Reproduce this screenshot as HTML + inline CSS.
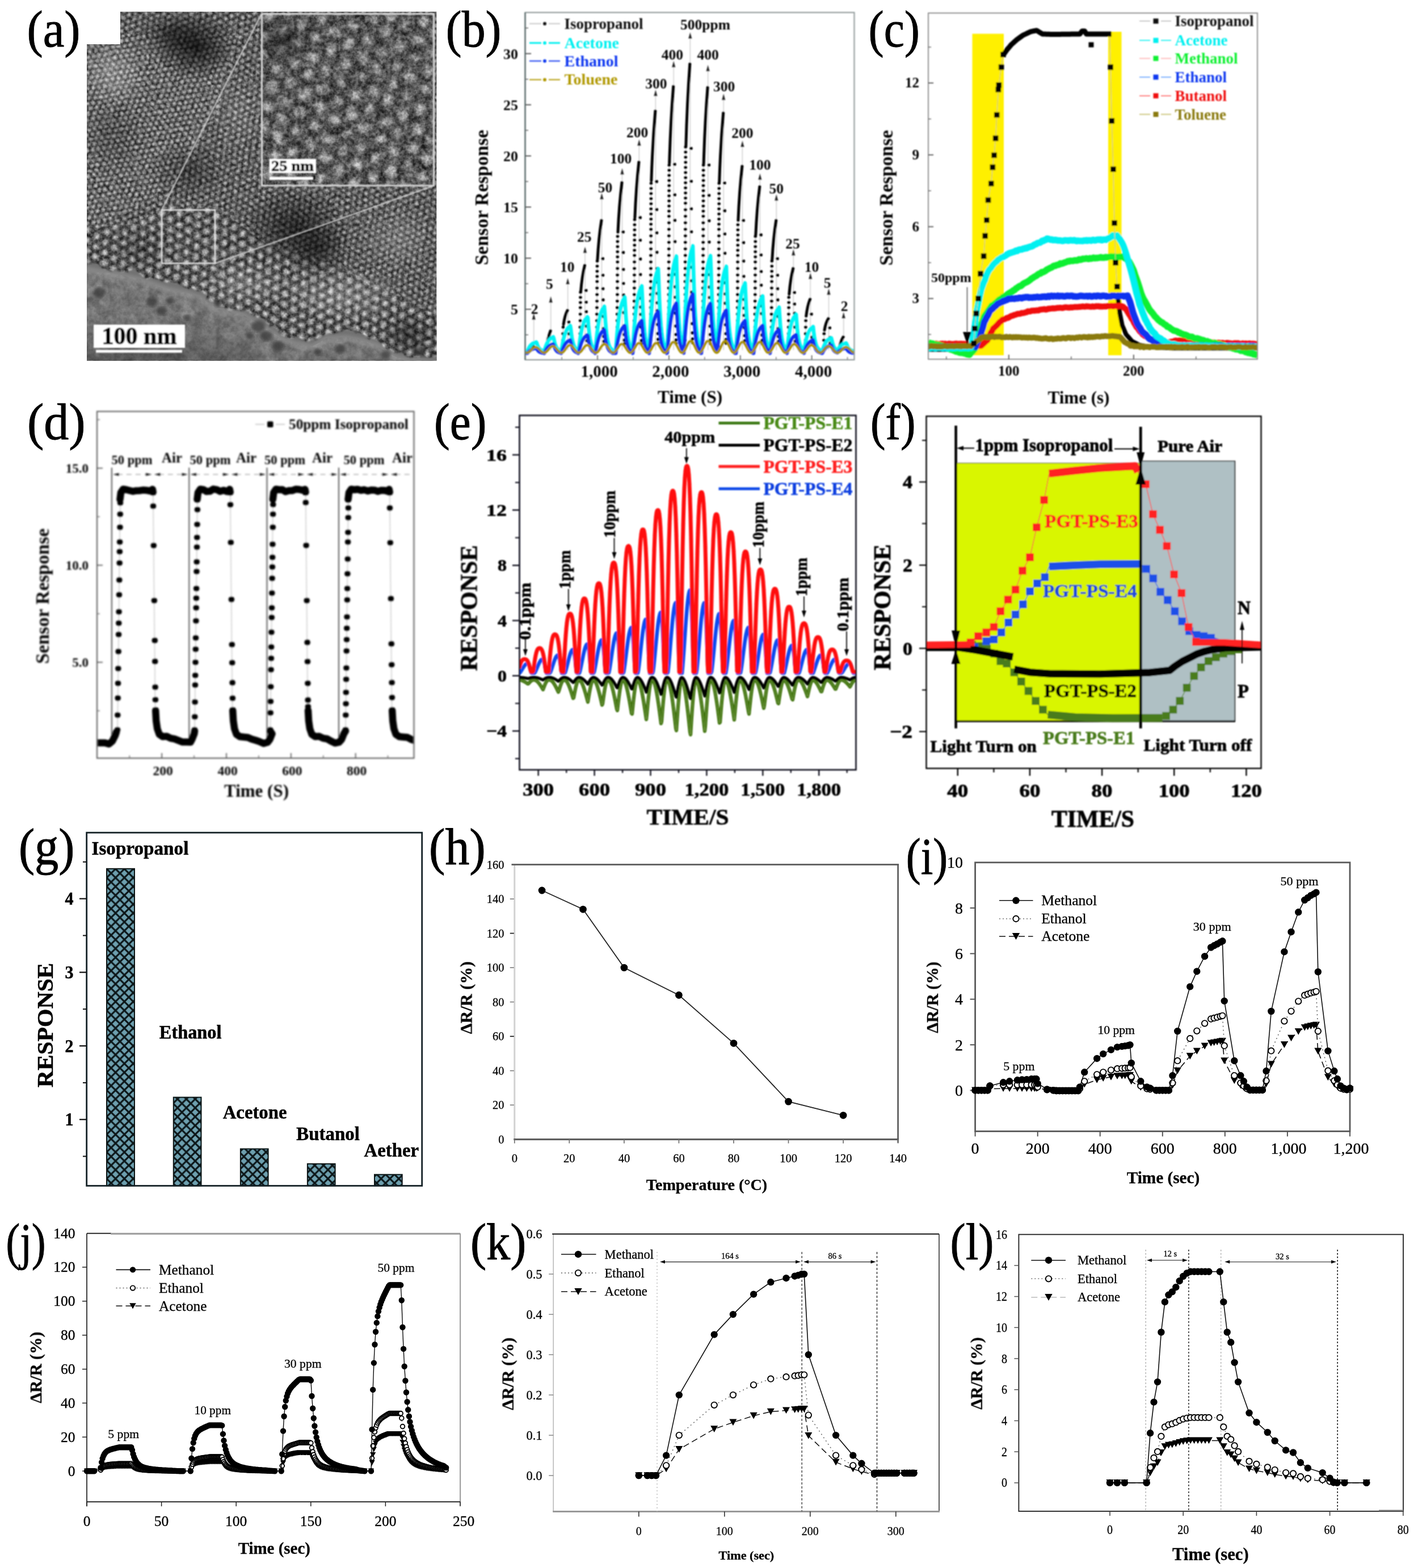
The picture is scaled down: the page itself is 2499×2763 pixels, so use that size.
<!DOCTYPE html>
<html lang="en"><head><meta charset="utf-8"><title>Figure</title>
<style>
html,body{margin:0;padding:0;background:#fff;}
body{width:2499px;height:2763px;overflow:hidden;}
svg{display:block;font-family:'Liberation Serif','DejaVu Serif',serif;}
</style></head><body>
<svg width="2499" height="2763" viewBox="0 0 2499 2763">
<defs>
<radialGradient id="dotg"><stop offset="0" stop-color="#fff" stop-opacity="1"/><stop offset=".5" stop-color="#e8e8e8" stop-opacity=".7"/><stop offset="1" stop-color="#999" stop-opacity="0"/></radialGradient>
<radialGradient id="darkg"><stop offset="0" stop-color="#000" stop-opacity=".75"/><stop offset=".5" stop-color="#000" stop-opacity=".4"/><stop offset="1" stop-color="#000" stop-opacity="0"/></radialGradient>
<radialGradient id="liteg"><stop offset="0" stop-color="#fff" stop-opacity=".35"/><stop offset="1" stop-color="#fff" stop-opacity="0"/></radialGradient>
<pattern id="latF" width="10.4" height="18" patternUnits="userSpaceOnUse" patternTransform="translate(0 0) rotate(50)"><circle cx="0" cy="0" r="4.9" fill="url(#dotg)"/><circle cx="10.4" cy="0" r="4.9" fill="url(#dotg)"/><circle cx="0" cy="18" r="4.9" fill="url(#dotg)"/><circle cx="10.4" cy="18" r="4.9" fill="url(#dotg)"/><circle cx="5.2" cy="9" r="4.9" fill="url(#dotg)"/></pattern>
<pattern id="latM" width="11.5" height="19.9" patternUnits="userSpaceOnUse" patternTransform="translate(0 0) rotate(38)"><circle cx="0" cy="0" r="5.4" fill="url(#dotg)"/><circle cx="11.5" cy="0" r="5.4" fill="url(#dotg)"/><circle cx="0" cy="19.9" r="5.4" fill="url(#dotg)"/><circle cx="11.5" cy="19.9" r="5.4" fill="url(#dotg)"/><circle cx="5.8" cy="10" r="5.4" fill="url(#dotg)"/></pattern>
<pattern id="latC" width="18.5" height="32" patternUnits="userSpaceOnUse" patternTransform="translate(0 0) rotate(33)"><circle cx="0" cy="0" r="8.2" fill="url(#dotg)"/><circle cx="18.5" cy="0" r="8.2" fill="url(#dotg)"/><circle cx="0" cy="32" r="8.2" fill="url(#dotg)"/><circle cx="18.5" cy="32" r="8.2" fill="url(#dotg)"/><circle cx="9.2" cy="16" r="8.2" fill="url(#dotg)"/></pattern>
<pattern id="latI" width="34" height="58.9" patternUnits="userSpaceOnUse" patternTransform="translate(0 0) rotate(42)"><circle cx="0" cy="0" r="13.5" fill="url(#dotg)"/><circle cx="34" cy="0" r="13.5" fill="url(#dotg)"/><circle cx="0" cy="58.9" r="13.5" fill="url(#dotg)"/><circle cx="34" cy="58.9" r="13.5" fill="url(#dotg)"/><circle cx="17" cy="29.4" r="13.5" fill="url(#dotg)"/></pattern>
<filter id="grainA" x="0" y="0" width="100%" height="100%" color-interpolation-filters="sRGB"><feTurbulence type="fractalNoise" baseFrequency="0.16" numOctaves="2" seed="7" result="n"/><feColorMatrix in="n" type="matrix" values="1.6 1.6 0 0 -1.1  1.6 1.6 0 0 -1.1  1.6 1.6 0 0 -1.1  0 0 0 0 1"/></filter>
<filter id="grainB" x="0" y="0" width="100%" height="100%" color-interpolation-filters="sRGB"><feTurbulence type="fractalNoise" baseFrequency="0.05" numOctaves="2" seed="11" result="n"/><feColorMatrix in="n" type="matrix" values="1.5 1.5 0 0 -1.0  1.5 1.5 0 0 -1.0  1.5 1.5 0 0 -1.0  0 0 0 0 1"/></filter>
<filter id="warp" x="-5%" y="-5%" width="110%" height="110%"><feTurbulence type="fractalNoise" baseFrequency="0.03" numOctaves="2" seed="5"/><feDisplacementMap in="SourceGraphic" scale="4" xChannelSelector="R" yChannelSelector="G"/><feGaussianBlur stdDeviation="1.3"/></filter>
<filter id="warpI" x="-5%" y="-5%" width="110%" height="110%"><feTurbulence type="fractalNoise" baseFrequency="0.04" numOctaves="2" seed="9"/><feDisplacementMap in="SourceGraphic" scale="16" xChannelSelector="R" yChannelSelector="G"/><feGaussianBlur stdDeviation="1.4"/></filter>
<filter id="soft"><feGaussianBlur stdDeviation="0.8"/></filter>
<filter id="soft2"><feGaussianBlur stdDeviation="2.5"/></filter>
<clipPath id="temclip"><path d="M212,20.5 H769.5 V635.5 H153 V78 H212 Z"/></clipPath>
<clipPath id="filmclip2"><path d="M150,472 176,478 210,484 247,492 275,502 300,510 330,516 354,524 372,538 390,546 425,553 445,564 461,574 480,586 497,596 520,605 550,610 562,604 575,596 610,594 640,600 665,608 680,620 700,630 735,636 772,640L780,650L140,650Z"/></clipPath>
<clipPath id="insclip"><rect x="461" y="24" width="304" height="303"/></clipPath>
<filter id="rough" x="-5%" y="-20%" width="110%" height="140%"><feTurbulence type="fractalNoise" baseFrequency="0.045" numOctaves="2" seed="21"/><feDisplacementMap in="SourceGraphic" scale="22" xChannelSelector="R" yChannelSelector="G"/><feGaussianBlur stdDeviation="1.6"/></filter>
<filter id="blurB" x="-2%" y="-2%" width="104%" height="104%"><feGaussianBlur stdDeviation="1.15"/></filter>
<clipPath id="clipB"><rect x="926" y="22" width="579" height="612"/></clipPath>
<filter id="blurC" x="-2%" y="-2%" width="104%" height="104%"><feGaussianBlur stdDeviation="1.25"/></filter>
<clipPath id="clipC"><rect x="1636" y="23" width="580" height="610"/></clipPath>
<filter id="blurD" x="-2%" y="-2%" width="104%" height="104%"><feGaussianBlur stdDeviation="1.45"/></filter>
<clipPath id="clipD"><rect x="171" y="725" width="558" height="611"/></clipPath>
<filter id="blurE" x="-2%" y="-2%" width="104%" height="104%"><feGaussianBlur stdDeviation="0.8"/></filter>
<clipPath id="clipE"><rect x="915.5" y="732" width="593" height="624"/></clipPath>
<filter id="blurF" x="-2%" y="-2%" width="104%" height="104%"><feGaussianBlur stdDeviation="0.8"/></filter>
<clipPath id="clipF"><rect x="1633" y="734" width="589" height="620"/></clipPath>
<filter id="blurG" x="-2%" y="-2%" width="104%" height="104%"><feGaussianBlur stdDeviation="0.7"/></filter>
<pattern id="hatchG" width="15.6" height="15.6" patternUnits="userSpaceOnUse" patternTransform="translate(188 1531)"><rect width="16" height="16" fill="#6d9fae"/><path d="M-1,-1L17,17M16.6,-1L-1.4,17" stroke="#0a1418" stroke-width="3"/></pattern>
<filter id="blurH" x="-2%" y="-2%" width="104%" height="104%"><feGaussianBlur stdDeviation="0.55"/></filter>
<filter id="blurI" x="-2%" y="-2%" width="104%" height="104%"><feGaussianBlur stdDeviation="0.55"/></filter>
<filter id="blurJ" x="-2%" y="-2%" width="104%" height="104%"><feGaussianBlur stdDeviation="0.55"/></filter>
<filter id="blurK" x="-2%" y="-2%" width="104%" height="104%"><feGaussianBlur stdDeviation="0.55"/></filter>
<filter id="blurL" x="-2%" y="-2%" width="104%" height="104%"><feGaussianBlur stdDeviation="0.55"/></filter>
</defs>
<rect width="2499" height="2763" fill="#fff"/>
<!-- panel_a -->
<g clip-path="url(#temclip)">
<rect x="153" y="20.5" width="616.5" height="615" fill="#303030"/>
<g filter="url(#warp)">
<rect x="143" y="10.5" width="636.5" height="635" fill="url(#latM)" opacity=".68"/>
<path d="M143,60 L420,60 L380,200 L300,330 L143,420Z" fill="#303030"/>
<path d="M143,60 L420,60 L380,200 L300,330 L143,420Z" fill="url(#latF)" opacity=".8"/>
<path d="M143,400 L230,395 L290,365 L385,365 L470,430 L600,470 L700,520 L780,560 L780,646 L143,646Z" fill="#303030"/>
<path d="M143,400 L230,395 L290,365 L385,365 L470,430 L600,470 L700,520 L780,560 L780,646 L143,646Z" fill="url(#latC)" opacity=".85"/>
</g>
<rect x="153" y="20.5" width="616.5" height="615" fill="#808080" filter="url(#grainA)" opacity=".24"/>
<ellipse cx="345" cy="82" rx="75" ry="60" fill="url(#darkg)" opacity="1"/>
<ellipse cx="300" cy="60" rx="60" ry="40" fill="url(#darkg)" opacity="0.6"/>
<ellipse cx="520" cy="400" rx="95" ry="70" fill="url(#darkg)" opacity="0.8"/>
<ellipse cx="560" cy="440" rx="60" ry="50" fill="url(#darkg)" opacity="0.7"/>
<ellipse cx="200" cy="240" rx="60" ry="70" fill="url(#darkg)" opacity="0.3"/>
<ellipse cx="330" cy="300" rx="70" ry="50" fill="url(#darkg)" opacity="0.5"/>
<ellipse cx="720" cy="590" rx="50" ry="40" fill="url(#darkg)" opacity="0.6"/>
<ellipse cx="640" cy="250" rx="60" ry="60" fill="url(#darkg)" opacity="0.3"/>
<ellipse cx="250" cy="440" rx="60" ry="40" fill="url(#darkg)" opacity="0.3"/>
<ellipse cx="200" cy="130" rx="60" ry="60" fill="url(#liteg)" opacity="0.8"/>
<ellipse cx="600" cy="520" rx="120" ry="50" fill="url(#liteg)" opacity="0.7"/>
<ellipse cx="430" cy="500" rx="90" ry="40" fill="url(#liteg)" opacity="0.6"/>
<ellipse cx="700" cy="420" rx="70" ry="60" fill="url(#liteg)" opacity="0.5"/>
<ellipse cx="420" cy="200" rx="50" ry="80" fill="url(#liteg)" opacity="0.4"/>
<g>
<path d="M150,464 176,470 210,476 247,484 275,494 300,502 330,508 354,516 372,530 390,538 425,545 445,556 461,566 480,578 497,588 520,597 550,602 562,596 575,588 610,586 640,592 665,600 680,612 700,622 735,628 772,632L780,650L140,650Z" fill="#727272" filter="url(#rough)"/>
<g clip-path="url(#filmclip2)">
<rect x="153" y="480" width="616.5" height="160" fill="#808080" filter="url(#grainA)" opacity=".08"/>
<rect x="153" y="480" width="616.5" height="160" fill="#808080" filter="url(#grainB)" opacity=".13"/>
</g>
<ellipse cx="250" cy="640" rx="260" ry="75" fill="url(#darkg)" opacity=".42"/>
<ellipse cx="600" cy="660" rx="160" ry="40" fill="url(#darkg)" opacity=".4"/>
<path d="M150,474 176,480 210,486 247,494 275,504 300,512 330,518 354,526 372,540 390,548 425,555 445,566 461,576 480,588 497,598 520,607 550,612 562,606 575,598 610,596 640,602 665,610 680,622 700,632 735,638 772,642" fill="none" stroke="#9c9c9c" stroke-width="12" opacity=".45" filter="url(#soft2)"/>
<ellipse cx="175" cy="515" rx="10.8" ry="9" fill="#3a3a3a" opacity=".75" filter="url(#soft2)"/>
<ellipse cx="268" cy="532" rx="9.6" ry="8" fill="#3a3a3a" opacity=".75" filter="url(#soft2)"/>
<ellipse cx="285" cy="548" rx="8.4" ry="7" fill="#3a3a3a" opacity=".75" filter="url(#soft2)"/>
<ellipse cx="300" cy="530" rx="7.2" ry="6" fill="#3a3a3a" opacity=".75" filter="url(#soft2)"/>
<ellipse cx="385" cy="535" rx="7.2" ry="6" fill="#3a3a3a" opacity=".75" filter="url(#soft2)"/>
<ellipse cx="455" cy="575" rx="12" ry="10" fill="#3a3a3a" opacity=".75" filter="url(#soft2)"/>
<ellipse cx="470" cy="592" rx="10.8" ry="9" fill="#3a3a3a" opacity=".75" filter="url(#soft2)"/>
<ellipse cx="490" cy="610" rx="10.8" ry="9" fill="#3a3a3a" opacity=".75" filter="url(#soft2)"/>
<ellipse cx="440" cy="592" rx="7.2" ry="6" fill="#3a3a3a" opacity=".75" filter="url(#soft2)"/>
<ellipse cx="600" cy="615" rx="9.6" ry="8" fill="#3a3a3a" opacity=".75" filter="url(#soft2)"/>
<ellipse cx="560" cy="620" rx="7.2" ry="6" fill="#3a3a3a" opacity=".75" filter="url(#soft2)"/>
<ellipse cx="680" cy="625" rx="8.4" ry="7" fill="#3a3a3a" opacity=".75" filter="url(#soft2)"/>
<ellipse cx="740" cy="620" rx="10.8" ry="9" fill="#3a3a3a" opacity=".75" filter="url(#soft2)"/>
<ellipse cx="330" cy="560" rx="6" ry="5" fill="#3a3a3a" opacity=".75" filter="url(#soft2)"/>
</g>
</g>
<g clip-path="url(#insclip)">
<rect x="461" y="24" width="304" height="303" fill="#2e2e2e"/>
<g filter="url(#warpI)">
<rect x="440" y="4" width="350" height="350" fill="url(#latI)" opacity=".8"/>
</g>
<rect x="461" y="24" width="304" height="303" fill="#808080" filter="url(#grainA)" opacity=".3"/>
<rect x="461" y="24" width="304" height="303" fill="#808080" filter="url(#grainB)" opacity=".18"/>
<ellipse cx="500" cy="70" rx="60" ry="50" fill="url(#darkg)" opacity=".5"/>
</g>
<g filter="url(#soft)">
<rect x="461.5" y="24.5" width="303" height="302.5" fill="none" stroke="#d8d8d8" stroke-width="3"/>
<line x1="285" y1="370" x2="461" y2="24" stroke="#d0d0d0" stroke-width="2" />
<line x1="379" y1="464" x2="765" y2="327" stroke="#d0d0d0" stroke-width="2" />
<rect x="285" y="370" width="94" height="94" fill="none" stroke="#e4e4e4" stroke-width="2.6"/>
<rect x="165" y="572" width="161" height="41" fill="#fff"/>
<rect x="169" y="616.5" width="152" height="5" fill="#fff"/>
<rect x="474.5" y="280" width="82.5" height="25" fill="#fff"/>
<rect x="475" y="311.5" width="77" height="5.5" fill="#fff"/>
<text font-size="42" font-weight="bold" text-anchor="middle" transform="translate(245.5 606) scale(1.001 1)" stroke="#000" stroke-width="1">100 nm</text>
<text font-size="26" font-weight="bold" text-anchor="middle" transform="translate(515.5 301) scale(1.093 1)" stroke="#000" stroke-width=".8">25 nm</text>
</g>
<!-- panel_b -->
<g filter="url(#blurB)">
<g clip-path="url(#clipB)">
<line x1="940.7" y1="559.2" x2="940.7" y2="617.1" stroke="#c4c4c4" stroke-width="1.2" />
<path d="M940.7,552.2L943.7,563.2L937.7,563.2Z" fill="#222"/>
<line x1="933.2" y1="614.9" x2="931.7" y2="617.1" stroke="#c8c8c8" stroke-width="1.2" />
<text font-size="25.5" font-weight="bold" text-anchor="middle" x="942.1" y="552.7">2</text>
<line x1="970.7" y1="529.3" x2="970.7" y2="617.1" stroke="#c4c4c4" stroke-width="1.2" />
<path d="M970.7,522.3L973.7,533.3L967.7,533.3Z" fill="#222"/>
<line x1="963.2" y1="593.3" x2="961.7" y2="617.1" stroke="#c8c8c8" stroke-width="1.2" />
<text font-size="25.5" font-weight="bold" text-anchor="middle" x="968.4" y="508.9">5</text>
<line x1="1000.6" y1="497" x2="1000.6" y2="617.1" stroke="#c4c4c4" stroke-width="1.2" />
<path d="M1000.6,490L1003.6,501L997.6,501Z" fill="#222"/>
<line x1="993.1" y1="564.5" x2="991.6" y2="617.1" stroke="#c8c8c8" stroke-width="1.2" />
<text font-size="25.5" font-weight="bold" text-anchor="middle" x="999.7" y="479">10</text>
<line x1="1031" y1="441.7" x2="1031" y2="617.1" stroke="#c4c4c4" stroke-width="1.2" />
<path d="M1031,434.7L1034,445.7L1028,445.7Z" fill="#222"/>
<line x1="1023.5" y1="501" x2="1022" y2="617.1" stroke="#c8c8c8" stroke-width="1.2" />
<text font-size="25.5" font-weight="bold" text-anchor="middle" x="1029.7" y="426">25</text>
<line x1="1060.5" y1="347.3" x2="1060.5" y2="617.1" stroke="#c4c4c4" stroke-width="1.2" />
<path d="M1060.5,340.3L1063.5,351.3L1057.5,351.3Z" fill="#222"/>
<line x1="1053" y1="437.6" x2="1051.5" y2="617.1" stroke="#c8c8c8" stroke-width="1.2" />
<text font-size="25.5" font-weight="bold" text-anchor="middle" x="1066.5" y="338.5">50</text>
<line x1="1096.5" y1="303.5" x2="1096.5" y2="617.1" stroke="#c4c4c4" stroke-width="1.2" />
<path d="M1096.5,296.5L1099.5,307.5L1093.5,307.5Z" fill="#222"/>
<line x1="1089" y1="384.3" x2="1087.5" y2="617.1" stroke="#c8c8c8" stroke-width="1.2" />
<text font-size="25.5" font-weight="bold" text-anchor="middle" x="1094.2" y="287.8">100</text>
<line x1="1126.4" y1="252.8" x2="1126.4" y2="617.1" stroke="#c4c4c4" stroke-width="1.2" />
<path d="M1126.4,245.8L1129.4,256.8L1123.4,256.8Z" fill="#222"/>
<line x1="1118.9" y1="355.4" x2="1117.4" y2="617.1" stroke="#c8c8c8" stroke-width="1.2" />
<text font-size="25.5" font-weight="bold" text-anchor="middle" x="1123.2" y="241.7">200</text>
<line x1="1155.4" y1="165.3" x2="1155.4" y2="617.1" stroke="#c4c4c4" stroke-width="1.2" />
<path d="M1155.4,158.3L1158.4,169.3L1152.4,169.3Z" fill="#222"/>
<line x1="1147.9" y1="283.3" x2="1146.4" y2="617.1" stroke="#c8c8c8" stroke-width="1.2" />
<text font-size="25.5" font-weight="bold" text-anchor="middle" x="1156.4" y="155.5">300</text>
<line x1="1187.2" y1="114.6" x2="1187.2" y2="617.1" stroke="#c4c4c4" stroke-width="1.2" />
<path d="M1187.2,107.6L1190.2,118.6L1184.2,118.6Z" fill="#222"/>
<line x1="1179.7" y1="248.8" x2="1178.2" y2="617.1" stroke="#c8c8c8" stroke-width="1.2" />
<text font-size="25.5" font-weight="bold" text-anchor="middle" x="1184.9" y="104.8">400</text>
<line x1="1216.3" y1="63.9" x2="1216.3" y2="617.1" stroke="#c4c4c4" stroke-width="1.2" />
<path d="M1216.3,56.9L1219.3,67.9L1213.3,67.9Z" fill="#222"/>
<line x1="1208.8" y1="217" x2="1207.3" y2="617.1" stroke="#c8c8c8" stroke-width="1.2" />
<text font-size="25.5" font-weight="bold" text-anchor="middle" x="1243" y="51.9">500ppm</text>
<line x1="1247.6" y1="121.5" x2="1247.6" y2="617.1" stroke="#c4c4c4" stroke-width="1.2" />
<path d="M1247.6,114.5L1250.6,125.5L1244.6,125.5Z" fill="#222"/>
<line x1="1240.1" y1="250.2" x2="1238.6" y2="617.1" stroke="#c8c8c8" stroke-width="1.2" />
<text font-size="25.5" font-weight="bold" text-anchor="middle" x="1247.6" y="104.8">400</text>
<line x1="1275.2" y1="172.2" x2="1275.2" y2="617.1" stroke="#c4c4c4" stroke-width="1.2" />
<path d="M1275.2,165.2L1278.2,176.2L1272.2,176.2Z" fill="#222"/>
<line x1="1267.7" y1="286.2" x2="1266.2" y2="617.1" stroke="#c8c8c8" stroke-width="1.2" />
<text font-size="25.5" font-weight="bold" text-anchor="middle" x="1276.2" y="161.1">300</text>
<line x1="1308.4" y1="255.1" x2="1308.4" y2="617.1" stroke="#c4c4c4" stroke-width="1.2" />
<path d="M1308.4,248.1L1311.4,259.1L1305.4,259.1Z" fill="#222"/>
<line x1="1300.9" y1="361.2" x2="1299.4" y2="617.1" stroke="#c8c8c8" stroke-width="1.2" />
<text font-size="25.5" font-weight="bold" text-anchor="middle" x="1308.4" y="243.1">200</text>
<line x1="1339.3" y1="312.7" x2="1339.3" y2="617.1" stroke="#c4c4c4" stroke-width="1.2" />
<path d="M1339.3,305.7L1342.3,316.7L1336.3,316.7Z" fill="#222"/>
<line x1="1331.8" y1="390" x2="1330.3" y2="617.1" stroke="#c8c8c8" stroke-width="1.2" />
<text font-size="25.5" font-weight="bold" text-anchor="middle" x="1339.3" y="299.3">100</text>
<line x1="1368.3" y1="349.6" x2="1368.3" y2="617.1" stroke="#c4c4c4" stroke-width="1.2" />
<path d="M1368.3,342.6L1371.3,353.6L1365.3,353.6Z" fill="#222"/>
<line x1="1360.8" y1="437.6" x2="1359.3" y2="617.1" stroke="#c8c8c8" stroke-width="1.2" />
<text font-size="25.5" font-weight="bold" text-anchor="middle" x="1368.3" y="340.8">50</text>
<line x1="1398.3" y1="446.3" x2="1398.3" y2="617.1" stroke="#c4c4c4" stroke-width="1.2" />
<path d="M1398.3,439.3L1401.3,450.3L1395.3,450.3Z" fill="#222"/>
<line x1="1390.8" y1="505.4" x2="1389.3" y2="617.1" stroke="#c8c8c8" stroke-width="1.2" />
<text font-size="25.5" font-weight="bold" text-anchor="middle" x="1396.9" y="437.5">25</text>
<line x1="1428.2" y1="487.8" x2="1428.2" y2="617.1" stroke="#c4c4c4" stroke-width="1.2" />
<path d="M1428.2,480.8L1431.2,491.8L1425.2,491.8Z" fill="#222"/>
<line x1="1420.7" y1="548.6" x2="1419.2" y2="617.1" stroke="#c8c8c8" stroke-width="1.2" />
<text font-size="25.5" font-weight="bold" text-anchor="middle" x="1430.5" y="479">10</text>
<line x1="1460.5" y1="515.5" x2="1460.5" y2="617.1" stroke="#c4c4c4" stroke-width="1.2" />
<path d="M1460.5,508.5L1463.5,519.5L1457.5,519.5Z" fill="#222"/>
<line x1="1453" y1="576" x2="1451.5" y2="617.1" stroke="#c8c8c8" stroke-width="1.2" />
<text font-size="25.5" font-weight="bold" text-anchor="middle" x="1458.2" y="506.6">5</text>
<line x1="1486.7" y1="556.9" x2="1486.7" y2="617.1" stroke="#c4c4c4" stroke-width="1.2" />
<path d="M1486.7,549.9L1489.7,560.9L1483.7,560.9Z" fill="#222"/>
<line x1="1479.2" y1="601.9" x2="1477.7" y2="617.1" stroke="#c8c8c8" stroke-width="1.2" />
<text font-size="25.5" font-weight="bold" text-anchor="middle" x="1488.1" y="548.1">2</text>
<path d="M933.2,615.1Q935.2,609.5 940.2,609.9M963.2,615.1Q965.2,596 970.2,582.8M993.1,571.5Q995.1,556.2 1000.1,546.8M1023.5,514.4Q1025.5,488 1030.5,467.5M1053,457.4Q1055,419.8 1060,388.2M1089,409.3Q1091,362.4 1096,321.6M1118.9,383.4Q1120.9,331.5 1125.9,285.5M1147.9,318.5Q1149.9,254 1154.9,195.4M1179.7,287.4Q1181.7,216.8 1186.7,152.2M1208.8,258.8Q1210.8,182.7 1215.8,112.5M1240.1,288.7Q1242.1,218.3 1247.1,154M1267.7,321.1Q1269.7,257.1 1274.7,199M1300.9,388.6Q1302.9,337.7 1307.9,292.7M1331.8,414.5Q1333.8,368.6 1338.8,328.8M1360.8,457.4Q1362.8,419.8 1367.8,388.2M1390.8,518.3Q1392.8,492.6 1397.8,472.9M1420.7,557.3Q1422.7,539.1 1427.7,527M1453,581.9Q1455,568.6 1460,561.2M1479.2,615.1Q1481.2,601.4 1486.2,593.7" fill="none" stroke="#000" stroke-width="5" stroke-linecap="round"/>
<path d="M991.8,611.1h0M992,599.6h0M992.2,588.1h0M992.5,576.6h0M1002.4,567.6h0M1002.8,588.2h0M1003.3,600.2h0M1022.1,611.1h0M1022.2,599.6h0M1022.3,588.1h0M1022.4,576.6h0M1022.6,565.1h0M1022.7,553.6h0M1022.8,542.1h0M1022.9,533.1h0M1023,524.1h0M1023.1,515.1h0M1032.8,511.7h0M1033,532.5h0M1033.2,549.2h0M1033.5,574.7h0M1033.9,590.6h0M1034.3,600.5h0M1051.6,611.1h0M1051.6,599.6h0M1051.7,588.1h0M1051.8,576.6h0M1051.9,565.1h0M1051.9,553.6h0M1052,542.1h0M1052.1,530.6h0M1052.2,519.1h0M1052.2,507.6h0M1052.3,496.1h0M1052.4,487.1h0M1052.4,478.1h0M1052.5,469.1h0M1052.6,460.1h0M1062.3,455.8h0M1062.5,485h0M1062.6,508.8h0M1062.8,528.4h0M1062.9,544.4h0M1063.1,557.6h0M1063.5,579.1h0M1063.8,592.9h0M1064.2,601.6h0M1087.5,611.1h0M1087.6,599.6h0M1087.6,588.1h0M1087.7,576.6h0M1087.7,565.1h0M1087.8,553.6h0M1087.8,542.1h0M1087.9,530.6h0M1088,519.1h0M1088,507.6h0M1088.1,496.1h0M1088.1,484.6h0M1088.2,473.1h0M1088.3,461.6h0M1088.3,452.6h0M1088.3,443.6h0M1088.4,434.6h0M1088.4,425.6h0M1088.5,416.6h0M1098.2,408.8h0M1098.4,444.9h0M1098.6,474.8h0M1098.7,499.5h0M1098.9,519.9h0M1099,536.7h0M1099.2,550.7h0M1099.5,574.3h0M1099.9,589.6h0M1100.2,599.4h0M1100.6,605.7h0M1117.4,611.1h0M1117.5,599.6h0M1117.5,588.1h0M1117.6,576.6h0M1117.7,565.1h0M1117.7,553.6h0M1117.8,542.1h0M1117.8,530.6h0M1117.9,519.1h0M1117.9,507.6h0M1118,496.1h0M1118,484.6h0M1118.1,473.1h0M1118.1,461.6h0M1118.2,450.1h0M1118.2,441.1h0M1118.3,432.1h0M1118.3,423.1h0M1118.3,414.1h0M1118.4,405.1h0M1118.4,396.1h0M1118.5,387.1h0M1128.2,383.4h0M1128.3,423.3h0M1128.5,456.4h0M1128.6,483.8h0M1128.8,506.6h0M1128.9,525.4h0M1129.1,541.1h0M1129.2,554h0M1129.6,576.4h0M1129.9,590.8h0M1130.3,600.1h0M1130.6,606.1h0M1146.5,611.1h0M1146.5,599.6h0M1146.6,588.1h0M1146.6,576.6h0M1146.6,565.1h0M1146.7,553.6h0M1146.7,542.1h0M1146.8,530.6h0M1146.8,519.1h0M1146.8,507.6h0M1146.9,496.1h0M1146.9,484.6h0M1147,473.1h0M1147,461.6h0M1147,450.1h0M1147.1,438.6h0M1147.1,427.1h0M1147.2,415.6h0M1147.2,404.1h0M1147.2,395.1h0M1147.3,386.1h0M1147.3,377.1h0M1147.3,368.1h0M1147.4,359.1h0M1147.4,350.1h0M1147.4,341.1h0M1147.5,332.1h0M1147.5,323.1h0M1157.2,319.9h0M1157.4,369.2h0M1157.5,410.3h0M1157.7,444.6h0M1157.8,473.2h0M1158,497.1h0M1158.1,517h0M1158.2,533.6h0M1158.4,547.4h0M1158.7,571.8h0M1159.1,587.7h0M1159.4,598h0M1159.8,604.7h0M1178.3,611.1h0M1178.3,599.6h0M1178.3,588.1h0M1178.4,576.6h0M1178.4,565.1h0M1178.4,553.6h0M1178.5,542.1h0M1178.5,530.6h0M1178.6,519.1h0M1178.6,507.6h0M1178.6,496.1h0M1178.7,484.6h0M1178.7,473.1h0M1178.7,461.6h0M1178.8,450.1h0M1178.8,438.6h0M1178.9,427.1h0M1178.9,415.6h0M1178.9,404.1h0M1179,392.6h0M1179,381.1h0M1179,372.1h0M1179.1,363.1h0M1179.1,354.1h0M1179.1,345.1h0M1179.1,336.1h0M1179.2,327.1h0M1179.2,318.1h0M1179.2,309.1h0M1179.3,300.1h0M1179.3,291.1h0M1189,289.5h0M1189.2,343.3h0M1189.3,388.2h0M1189.5,425.8h0M1189.6,457.2h0M1189.7,483.5h0M1189.9,505.4h0M1190,523.7h0M1190.2,539.1h0M1190.3,551.9h0M1190.7,574.6h0M1191,589.5h0M1191.3,599.1h0M1191.7,605.4h0M1207.3,611.1h0M1207.3,599.6h0M1207.4,588.1h0M1207.4,576.6h0M1207.4,565.1h0M1207.5,553.6h0M1207.5,542.1h0M1207.5,530.6h0M1207.6,519.1h0M1207.6,507.6h0M1207.6,496.1h0M1207.7,484.6h0M1207.7,473.1h0M1207.7,461.6h0M1207.8,450.1h0M1207.8,438.6h0M1207.8,427.1h0M1207.9,415.6h0M1207.9,404.1h0M1207.9,392.6h0M1208,381.1h0M1208,369.6h0M1208,358.1h0M1208.1,349.1h0M1208.1,340.1h0M1208.1,331.1h0M1208.1,322.1h0M1208.2,313.1h0M1208.2,304.1h0M1208.2,295.1h0M1208.3,286.1h0M1208.3,277.1h0M1208.3,268.1h0M1208.3,259.1h0M1218,261.5h0M1218.2,319.5h0M1218.3,368h0M1218.5,408.5h0M1218.6,442.5h0M1218.8,471h0M1218.9,494.8h0M1219,514.7h0M1219.2,531.4h0M1219.3,545.3h0M1219.7,570.3h0M1220,586.6h0M1220.4,597.2h0M1220.7,604.1h0M1238.6,611.1h0M1238.7,599.6h0M1238.7,588.1h0M1238.7,576.6h0M1238.8,565.1h0M1238.8,553.6h0M1238.8,542.1h0M1238.9,530.6h0M1238.9,519.1h0M1239,507.6h0M1239,496.1h0M1239,484.6h0M1239.1,473.1h0M1239.1,461.6h0M1239.1,450.1h0M1239.2,438.6h0M1239.2,427.1h0M1239.3,415.6h0M1239.3,404.1h0M1239.3,392.6h0M1239.4,381.1h0M1239.4,372.1h0M1239.4,363.1h0M1239.5,354.1h0M1239.5,345.1h0M1239.5,336.1h0M1239.5,327.1h0M1239.6,318.1h0M1239.6,309.1h0M1239.6,300.1h0M1239.7,291.1h0M1249.4,290.7h0M1249.5,344.3h0M1249.7,389.1h0M1249.8,426.6h0M1250,457.9h0M1250.1,484h0M1250.2,505.9h0M1250.4,524.2h0M1250.5,539.4h0M1250.7,552.2h0M1251,574.8h0M1251.4,589.6h0M1251.7,599.2h0M1252,605.4h0M1266.3,611.1h0M1266.3,599.6h0M1266.4,588.1h0M1266.4,576.6h0M1266.4,565.1h0M1266.5,553.6h0M1266.5,542.1h0M1266.6,530.6h0M1266.6,519.1h0M1266.6,507.6h0M1266.7,496.1h0M1266.7,484.6h0M1266.8,473.1h0M1266.8,461.6h0M1266.8,450.1h0M1266.9,438.6h0M1266.9,427.1h0M1267,415.6h0M1267,404.1h0M1267,395.1h0M1267.1,386.1h0M1267.1,377.1h0M1267.1,368.1h0M1267.2,359.1h0M1267.2,350.1h0M1267.2,341.1h0M1267.3,332.1h0M1267.3,323.1h0M1277,322.5h0M1277.2,371.4h0M1277.3,412.2h0M1277.5,446.2h0M1277.6,474.6h0M1277.8,498.2h0M1277.9,518h0M1278,534.4h0M1278.2,548.1h0M1278.5,572.3h0M1278.9,588h0M1279.2,598.2h0M1279.6,604.8h0M1299.5,611.1h0M1299.5,599.6h0M1299.6,588.1h0M1299.6,576.6h0M1299.7,565.1h0M1299.7,553.6h0M1299.8,542.1h0M1299.8,530.6h0M1299.9,519.1h0M1299.9,507.6h0M1300,496.1h0M1300,484.6h0M1300.1,473.1h0M1300.1,461.6h0M1300.2,450.1h0M1300.2,441.1h0M1300.3,432.1h0M1300.3,423.1h0M1300.4,414.1h0M1300.4,405.1h0M1300.4,396.1h0M1310.2,388.5h0M1310.4,427.6h0M1310.5,460.1h0M1310.7,487h0M1310.8,509.2h0M1311,527.7h0M1311.1,543h0M1311.3,555.7h0M1311.6,577.4h0M1312,591.5h0M1312.3,600.6h0M1330.3,611.1h0M1330.4,599.6h0M1330.4,588.1h0M1330.5,576.6h0M1330.6,565.1h0M1330.6,553.6h0M1330.7,542.1h0M1330.7,530.6h0M1330.8,519.1h0M1330.9,507.6h0M1330.9,496.1h0M1331,484.6h0M1331,473.1h0M1331.1,461.6h0M1331.2,452.6h0M1331.2,443.6h0M1331.2,434.6h0M1331.3,425.6h0M1331.3,416.6h0M1341.1,413.9h0M1341.2,449.3h0M1341.4,478.5h0M1341.5,502.6h0M1341.7,522.5h0M1341.8,539h0M1342,552.6h0M1342.3,575.6h0M1342.7,590.4h0M1343.1,599.9h0M1343.4,606h0M1359.4,611.1h0M1359.4,599.6h0M1359.5,588.1h0M1359.6,576.6h0M1359.7,565.1h0M1359.7,553.6h0M1359.8,542.1h0M1359.9,530.6h0M1360,519.1h0M1360,507.6h0M1360.1,496.1h0M1360.2,487.1h0M1360.2,478.1h0M1360.3,469.1h0M1360.4,460.1h0M1370.1,455.8h0M1370.3,485h0M1370.4,508.8h0M1370.6,528.4h0M1370.7,544.4h0M1370.9,557.6h0M1371.3,579.1h0M1371.6,592.9h0M1372,601.6h0M1389.3,611.1h0M1389.5,599.6h0M1389.6,588.1h0M1389.7,576.6h0M1389.8,565.1h0M1389.9,553.6h0M1390.1,542.1h0M1390.2,533.1h0M1390.2,524.1h0M1400.1,515.5h0M1400.2,535.8h0M1400.4,552h0M1400.8,576.5h0M1401.2,591.8h0M1401.5,601.3h0M1419.3,611.1h0M1419.5,599.6h0M1419.7,588.1h0M1419.9,576.6h0M1420.1,565.1h0M1430,553.6h0M1430.4,579h0M1430.8,594.2h0M1431.2,603.3h0M1451.6,611.1h0M1452,599.6h0M1452.3,588.1h0M1462.3,577.7h0M1462.7,594.8h0M1463.2,604.5h0" fill="none" stroke="#000" stroke-width="5.6" stroke-linecap="round"/>
<path d="M926,618.9 927,618.9 928,618.9 929,618.9 930,617.4 931,615.2 932,613.2 933,611.5 934,610.1 935,608.8 936,607.7 937,606.8 938,606 939,605.3 940,604.7 941,604.2 942,603.8 943,603.4 944,603.1 945,602.8 946,604.4 947,607.7 948,610.2 949,612.1 950,613.6 951,614.8 952,615.7 953,616.4 954,617 955,617.4 956,617.7 957,618 958,618.2 959,618.9 960,616.5 961,612.9 962,609.9 963,607.3 964,605.1 965,603.1 966,601.5 967,600 968,598.8 969,597.7 970,596.8 971,596 972,595.4 973,594.8 974,594.3 975,593.8 976,596.7 977,601.6 978,605.5 979,608.5 980,610.8 981,612.6 982,614 983,615.1 984,615.9 985,616.6 986,617.1 987,617.5 988,617.8 989,618.9 990,614.2 991,608 992,602.6 993,598 994,594 995,590.6 996,587.7 997,585.1 998,582.9 999,581.1 1000,579.4 1001,578 1002,576.8 1003,575.8 1004,574.9 1005,574.1 1006,579.7 1007,588.5 1008,595.3 1009,600.5 1010,604.6 1011,607.8 1012,610.3 1013,612.2 1014,613.7 1015,614.9 1016,615.8 1017,616.5 1018,617 1019,618.9 1020,616.4 1021,607.4 1022,599.6 1023,593 1024,587.2 1025,582.3 1026,578 1027,574.3 1028,571.2 1029,568.4 1030,566.1 1031,564.1 1032,562.3 1033,560.8 1034,559.6 1035,558.4 1036,559.7 1037,573 1038,583.2 1039,591.2 1040,597.4 1041,602.2 1042,605.9 1043,608.8 1044,611.1 1045,612.8 1046,614.2 1047,615.2 1048,616 1049,618.9 1050,609.5 1051,598.7 1052,589.4 1053,581.4 1054,574.5 1055,568.6 1056,563.5 1057,559.1 1058,555.3 1059,552 1060,549.2 1061,546.8 1062,544.7 1063,542.9 1064,541.3 1065,540 1066,551.6 1067,566.6 1068,578.3 1069,587.4 1070,594.4 1071,599.9 1072,604.1 1073,607.4 1074,610 1075,612 1076,613.5 1077,614.7 1078,615.7 1079,616.4 1080,618.9 1081,618.9 1082,618.9 1083,618.9 1084,618.9 1085,618.9 1086,606.8 1087,593.9 1088,582.8 1089,573.2 1090,565 1091,557.9 1092,551.8 1093,546.5 1094,542 1095,538.1 1096,534.8 1097,531.9 1098,529.4 1099,527.2 1100,525.4 1101,523.8 1102,539.1 1103,556.9 1104,570.8 1105,581.5 1106,589.9 1107,596.4 1108,601.4 1109,605.3 1110,608.3 1111,610.7 1112,612.5 1113,613.9 1114,615 1115,618.9 1116,603.4 1117,588 1118,574.7 1119,563.2 1120,553.3 1121,544.8 1122,537.5 1123,531.2 1124,525.8 1125,521.1 1126,517.1 1127,513.6 1128,510.7 1129,508.1 1130,505.9 1131,504 1132,523.7 1133,545 1134,561.5 1135,574.3 1136,584.3 1137,592 1138,598 1139,602.7 1140,606.3 1141,609.1 1142,611.3 1143,613 1144,618.9 1145,599.9 1146,580.3 1147,563.4 1148,548.8 1149,536.3 1150,525.5 1151,516.2 1152,508.2 1153,501.3 1154,495.3 1155,490.2 1156,485.8 1157,482 1158,478.7 1159,475.9 1160,473.5 1161,497.5 1162,524.6 1163,545.7 1164,562.1 1165,574.8 1166,584.6 1167,592.3 1168,598.2 1169,602.8 1170,606.4 1171,609.2 1172,611.4 1173,613.1 1174,614.4 1175,618.9 1176,617.6 1177,592.2 1178,570.3 1179,551.5 1180,535.3 1181,521.3 1182,509.3 1183,498.9 1184,490 1185,482.3 1186,475.7 1187,470 1188,465.1 1189,460.9 1190,457.3 1191,454.2 1192,451.5 1193,486.6 1194,516.2 1195,539.1 1196,557 1197,570.8 1198,581.6 1199,589.9 1200,596.4 1201,601.4 1202,605.3 1203,608.3 1204,610.7 1205,618.3 1206,590.1 1207,565.8 1208,544.8 1209,526.8 1210,511.2 1211,497.9 1212,486.4 1213,476.4 1214,467.9 1215,460.5 1216,454.2 1217,448.8 1218,444.1 1219,440 1220,436.5 1221,433.5 1222,471.3 1223,504.3 1224,529.9 1225,549.8 1226,565.2 1227,577.2 1228,586.5 1229,593.8 1230,599.4 1231,603.7 1232,607.1 1233,609.8 1234,611.8 1235,618.9 1236,618.9 1237,600.8 1238,577.4 1239,557.3 1240,540 1241,525.1 1242,512.3 1243,501.3 1244,491.7 1245,483.6 1246,476.5 1247,470.4 1248,465.2 1249,460.7 1250,456.8 1251,453.5 1252,450.6 1253,472.4 1254,505.1 1255,530.6 1256,550.3 1257,565.6 1258,577.5 1259,586.8 1260,594 1261,599.5 1262,603.9 1263,607.2 1264,609.8 1265,595.2 1266,575.7 1267,558.9 1268,544.4 1269,531.9 1270,521.2 1271,511.9 1272,503.9 1273,497.1 1274,491.2 1275,486.1 1276,481.7 1277,477.9 1278,474.7 1279,471.9 1280,469.5 1281,500.6 1282,527 1283,547.6 1284,563.5 1285,575.9 1286,585.5 1287,593 1288,598.8 1289,603.3 1290,606.7 1291,609.5 1292,611.6 1293,613.2 1294,614.5 1295,618.9 1296,618.9 1297,618.9 1298,602.8 1299,586.6 1300,572.7 1301,560.7 1302,550.3 1303,541.4 1304,533.8 1305,527.2 1306,521.5 1307,516.6 1308,512.4 1309,508.7 1310,505.6 1311,502.9 1312,500.6 1313,498.6 1314,519 1315,541.3 1316,558.7 1317,572.1 1318,582.6 1319,590.7 1320,597 1321,601.9 1322,605.7 1323,608.6 1324,610.9 1325,612.7 1326,614.1 1327,618.9 1328,618.9 1329,604.2 1330,591.4 1331,580.3 1332,570.8 1333,562.7 1334,555.6 1335,549.6 1336,544.3 1337,539.8 1338,536 1339,532.6 1340,529.8 1341,527.3 1342,525.2 1343,523.3 1344,521.8 1345,541 1346,558.4 1347,571.9 1348,582.4 1349,590.6 1350,596.9 1351,601.8 1352,605.6 1353,608.6 1354,610.9 1355,612.7 1356,614.1 1357,618.9 1358,607.5 1359,597.2 1360,588.4 1361,580.8 1362,574.3 1363,568.7 1364,563.8 1365,559.6 1366,556 1367,552.9 1368,550.3 1369,548 1370,546 1371,544.3 1372,542.8 1373,541.6 1374,556.4 1375,570.4 1376,581.2 1377,589.6 1378,596.2 1379,601.2 1380,605.2 1381,608.2 1382,610.6 1383,612.5 1384,613.9 1385,615 1386,615.9 1387,618.8 1388,608.9 1389,600.4 1390,593 1391,586.7 1392,581.3 1393,576.6 1394,572.6 1395,569.1 1396,566.1 1397,563.6 1398,561.3 1399,559.4 1400,557.8 1401,556.4 1402,555.2 1403,554.1 1404,567.2 1405,578.8 1406,587.7 1407,594.7 1408,600.1 1409,604.3 1410,607.6 1411,610.1 1412,612.1 1413,613.6 1414,614.8 1415,615.7 1416,616.4 1417,618.5 1418,611.9 1419,606.3 1420,601.4 1421,597.3 1422,593.7 1423,590.6 1424,587.9 1425,585.6 1426,583.6 1427,581.9 1428,580.5 1429,579.2 1430,578.1 1431,577.2 1432,576.4 1433,575.7 1434,584.9 1435,592.5 1436,598.4 1437,603 1438,606.5 1439,609.3 1440,611.4 1441,613.1 1442,614.4 1443,615.4 1444,616.2 1445,616.8 1446,617.2 1447,617.6 1448,618.9 1449,618.9 1450,616 1451,612.8 1452,610.1 1453,607.7 1454,605.7 1455,603.9 1456,602.4 1457,601.2 1458,600 1459,599.1 1460,598.3 1461,597.5 1462,596.9 1463,596.4 1464,596 1465,595.6 1466,599.2 1467,603.6 1468,607 1469,609.7 1470,611.7 1471,613.3 1472,614.6 1473,615.5 1474,616.3 1475,616.9 1476,617.3 1477,615.6 1478,613.9 1479,612.4 1480,611.1 1481,610 1482,609 1483,608.2 1484,607.5 1485,606.8 1486,606.3 1487,605.9 1488,605.5 1489,605.1 1490,604.8 1491,604.6 1492,605.9 1493,608.8 1494,611.1 1495,612.8 1496,614.2 1497,615.2 1498,616 1499,616.7 1500,617.2 1501,617.6 1502,617.9 1503,618.1 1504,618.3 1505,618.4" fill="none" stroke="#00f4f4" stroke-width="6.6" stroke-linejoin="round"/>
<path d="M926,622.5 927,622.5 928,622.5 929,622.5 930,621.7 931,620.4 932,619.3 933,618.4 934,617.6 935,616.9 936,616.3 937,615.8 938,615.3 939,615 940,614.6 941,614.3 942,614.1 943,613.9 944,613.7 945,613.6 946,614.4 947,616.2 948,617.6 949,618.7 950,619.6 951,620.2 952,620.7 953,621.1 954,621.4 955,621.7 956,621.8 957,622 958,622.1 959,622.5 960,620.9 961,618.7 962,616.7 963,615 964,613.6 965,612.4 966,611.3 967,610.4 968,609.6 969,608.9 970,608.3 971,607.8 972,607.4 973,607 974,606.7 975,606.4 976,608.2 977,611.4 978,613.9 979,615.8 980,617.3 981,618.5 982,619.4 983,620.1 984,620.6 985,621 986,621.3 987,621.6 988,621.8 989,622.5 990,620.1 991,616.8 992,614 993,611.6 994,609.6 995,607.8 996,606.3 997,604.9 998,603.8 999,602.8 1000,602 1001,601.2 1002,600.6 1003,600.1 1004,599.6 1005,599.2 1006,602.1 1007,606.7 1008,610.2 1009,612.9 1010,615.1 1011,616.7 1012,618 1013,619 1014,619.8 1015,620.4 1016,620.9 1017,621.2 1018,621.5 1019,622.5 1020,621.2 1021,616.4 1022,612.3 1023,608.8 1024,605.7 1025,603.1 1026,600.8 1027,598.9 1028,597.2 1029,595.8 1030,594.5 1031,593.5 1032,592.6 1033,591.8 1034,591.1 1035,590.5 1036,591.2 1037,598.2 1038,603.6 1039,607.8 1040,611.1 1041,613.6 1042,615.6 1043,617.2 1044,618.3 1045,619.3 1046,620 1047,620.5 1048,621 1049,622.5 1050,617.6 1051,611.9 1052,607.1 1053,602.9 1054,599.3 1055,596.2 1056,593.5 1057,591.2 1058,589.2 1059,587.5 1060,586.1 1061,584.8 1062,583.7 1063,582.8 1064,582 1065,581.3 1066,587.3 1067,595.2 1068,601.3 1069,606 1070,609.7 1071,612.6 1072,614.8 1073,616.5 1074,617.8 1075,618.9 1076,619.7 1077,620.3 1078,620.8 1079,621.2 1080,622.5 1081,622.5 1082,622.5 1083,622.5 1084,622.5 1085,622.5 1086,616.3 1087,609.7 1088,604.1 1089,599.2 1090,595 1091,591.4 1092,588.3 1093,585.6 1094,583.3 1095,581.3 1096,579.6 1097,578.2 1098,576.9 1099,575.8 1100,574.9 1101,574 1102,581.8 1103,590.9 1104,598 1105,603.5 1106,607.7 1107,611 1108,613.6 1109,615.6 1110,617.1 1111,618.3 1112,619.2 1113,620 1114,620.5 1115,622.5 1116,614.8 1117,607 1118,600.4 1119,594.6 1120,589.7 1121,585.5 1122,581.8 1123,578.7 1124,575.9 1125,573.6 1126,571.6 1127,569.9 1128,568.4 1129,567.1 1130,566 1131,565 1132,574.9 1133,585.5 1134,593.8 1135,600.2 1136,605.2 1137,609.1 1138,612.1 1139,614.4 1140,616.2 1141,617.6 1142,618.7 1143,619.5 1144,622.5 1145,612.9 1146,603 1147,594.4 1148,587 1149,580.7 1150,575.2 1151,570.5 1152,566.4 1153,563 1154,559.9 1155,557.4 1156,555.1 1157,553.2 1158,551.6 1159,550.1 1160,548.9 1161,561 1162,574.8 1163,585.4 1164,593.7 1165,600.2 1166,605.1 1167,609 1168,612 1169,614.4 1170,616.2 1171,617.6 1172,618.7 1173,619.5 1174,620.2 1175,622.5 1176,621.8 1177,608.4 1178,596.9 1179,587 1180,578.4 1181,571.1 1182,564.7 1183,559.3 1184,554.6 1185,550.5 1186,547.1 1187,544.1 1188,541.5 1189,539.3 1190,537.3 1191,535.7 1192,534.3 1193,552.8 1194,568.4 1195,580.5 1196,589.9 1197,597.2 1198,602.8 1199,607.2 1200,610.6 1201,613.3 1202,615.3 1203,616.9 1204,618.2 1205,622.2 1206,606.3 1207,592.6 1208,580.8 1209,570.6 1210,561.9 1211,554.3 1212,547.9 1213,542.3 1214,537.5 1215,533.3 1216,529.8 1217,526.7 1218,524 1219,521.8 1220,519.8 1221,518.1 1222,539.4 1223,558 1224,572.4 1225,583.6 1226,592.3 1227,599 1228,604.3 1229,608.3 1230,611.5 1231,614 1232,615.9 1233,617.3 1234,618.5 1235,622.5 1236,622.5 1237,613 1238,600.9 1239,590.4 1240,581.4 1241,573.6 1242,566.9 1243,561.2 1244,556.2 1245,551.9 1246,548.3 1247,545.1 1248,542.4 1249,540 1250,538 1251,536.3 1252,534.8 1253,546.1 1254,563.2 1255,576.4 1256,586.7 1257,594.7 1258,600.9 1259,605.8 1260,609.5 1261,612.4 1262,614.7 1263,616.4 1264,617.8 1265,610.5 1266,600.6 1267,592.1 1268,584.8 1269,578.5 1270,573 1271,568.4 1272,564.3 1273,560.9 1274,557.9 1275,555.3 1276,553.1 1277,551.2 1278,549.5 1279,548.1 1280,546.9 1281,562.6 1282,576 1283,586.4 1284,594.5 1285,600.7 1286,605.6 1287,609.4 1288,612.3 1289,614.6 1290,616.3 1291,617.7 1292,618.8 1293,619.6 1294,620.3 1295,622.5 1296,622.5 1297,622.5 1298,614.8 1299,607.1 1300,600.4 1301,594.7 1302,589.8 1303,585.5 1304,581.8 1305,578.7 1306,576 1307,573.6 1308,571.6 1309,569.9 1310,568.4 1311,567.1 1312,566 1313,565 1314,574.8 1315,585.5 1316,593.7 1317,600.2 1318,605.2 1319,609 1320,612 1321,614.4 1322,616.2 1323,617.6 1324,618.7 1325,619.5 1326,620.2 1327,622.5 1328,622.5 1329,615.1 1330,608.7 1331,603.2 1332,598.5 1333,594.4 1334,590.9 1335,587.8 1336,585.2 1337,583 1338,581 1339,579.4 1340,577.9 1341,576.7 1342,575.6 1343,574.7 1344,573.9 1345,583.5 1346,592.2 1347,599 1348,604.2 1349,608.3 1350,611.5 1351,613.9 1352,615.9 1353,617.3 1354,618.5 1355,619.4 1356,620.1 1357,622.5 1358,616.4 1359,610.9 1360,606.2 1361,602.1 1362,598.6 1363,595.6 1364,593 1365,590.8 1366,588.9 1367,587.2 1368,585.8 1369,584.6 1370,583.5 1371,582.6 1372,581.8 1373,581.1 1374,589.1 1375,596.5 1376,602.3 1377,606.8 1378,610.3 1379,613.1 1380,615.2 1381,616.8 1382,618.1 1383,619.1 1384,619.8 1385,620.4 1386,620.9 1387,622.4 1388,617.5 1389,613.2 1390,609.6 1391,606.4 1392,603.7 1393,601.4 1394,599.3 1395,597.6 1396,596.1 1397,594.8 1398,593.7 1399,592.8 1400,591.9 1401,591.2 1402,590.6 1403,590.1 1404,596.6 1405,602.4 1406,606.9 1407,610.4 1408,613.1 1409,615.2 1410,616.8 1411,618.1 1412,619.1 1413,619.8 1414,620.4 1415,620.9 1416,621.2 1417,622.3 1418,618.7 1419,615.7 1420,613 1421,610.8 1422,608.8 1423,607.1 1424,605.7 1425,604.5 1426,603.4 1427,602.5 1428,601.7 1429,601 1430,600.4 1431,599.9 1432,599.5 1433,599.1 1434,604.1 1435,608.2 1436,611.4 1437,613.9 1438,615.8 1439,617.3 1440,618.4 1441,619.4 1442,620.1 1443,620.6 1444,621 1445,621.3 1446,621.6 1447,621.8 1448,622.5 1449,622.5 1450,620.7 1451,618.7 1452,617.1 1453,615.6 1454,614.4 1455,613.3 1456,612.4 1457,611.6 1458,610.9 1459,610.3 1460,609.8 1461,609.4 1462,609 1463,608.7 1464,608.4 1465,608.1 1466,610.4 1467,613.1 1468,615.2 1469,616.8 1470,618.1 1471,619.1 1472,619.8 1473,620.4 1474,620.9 1475,621.2 1476,621.5 1477,620.4 1478,619.4 1479,618.4 1480,617.6 1481,616.9 1482,616.3 1483,615.8 1484,615.3 1485,615 1486,614.6 1487,614.3 1488,614.1 1489,613.9 1490,613.7 1491,613.6 1492,614.4 1493,616.2 1494,617.6 1495,618.7 1496,619.5 1497,620.2 1498,620.7 1499,621.1 1500,621.4 1501,621.7 1502,621.8 1503,622 1504,622.1 1505,622.2" fill="none" stroke="#0a30f0" stroke-width="6.2" stroke-linejoin="round"/>
<path d="M926,620.9 927.5,621.5 929,621.6 930.5,621.2 932,620.4 933.5,619.2 935,617.8 936.5,616.2 938,614.8 939.5,613.4 941,612.4 942.5,611.8 944,611.7 945.5,612 947,612.8 948.5,613.9 950,615.3 951.5,616.8 953,618.3 954.5,619.7 956,620.7 957.5,621.4 959,621.6 960.5,621.3 962,620.4 963.5,619.2 965,617.5 966.5,615.8 968,614 969.5,612.3 971,611.1 972.5,610.2 974,609.9 975.5,610.1 977,610.9 978.5,612.1 980,613.7 981.5,615.5 983,617.3 984.5,618.9 986,620.3 987.5,621.2 989,621.6 990.5,621.4 992,620.6 993.5,619.2 995,617.4 996.5,615.4 998,613.3 999.5,611.4 1001,609.8 1002.5,608.7 1004,608.1 1005.5,608.2 1007,608.9 1008.5,610.2 1010,612 1011.5,614 1013,616 1014.5,618 1016,619.7 1017.5,620.9 1019,621.5 1020.5,621.5 1022,620.9 1023.5,619.6 1025,618 1026.5,616 1028,613.9 1029.5,611.9 1031,610.2 1032.5,608.9 1034,608.2 1035.5,608.1 1037,608.7 1038.5,609.8 1040,611.5 1041.5,613.4 1043,615.5 1044.5,617.5 1046,619.3 1047.5,620.6 1049,621.4 1050.5,621.6 1052,621 1053.5,619.8 1055,618 1056.5,615.8 1058,613.5 1059.5,611.2 1061,609.1 1062.5,607.5 1064,606.6 1065.5,606.3 1067,606.7 1068.5,607.9 1070,609.6 1071.5,611.7 1073,614 1074.5,616.4 1076,618.5 1077.5,620.1 1079,621.2 1080.5,621.6 1082,621.2 1083.5,620.2 1085,618.5 1086.5,616.4 1088,614.1 1089.5,611.8 1091,609.6 1092.5,607.9 1094,606.7 1095.5,606.3 1097,606.5 1098.5,607.5 1100,609.1 1101.5,611.1 1103,613.4 1104.5,615.8 1106,617.9 1107.5,619.7 1109,621 1110.5,621.6 1112,621.4 1113.5,620.4 1115,618.7 1116.5,616.5 1118,614 1119.5,611.3 1121,608.8 1122.5,606.8 1124,605.3 1125.5,604.5 1127,604.6 1128.5,605.5 1130,607.1 1131.5,609.2 1133,611.7 1134.5,614.4 1136,616.9 1137.5,619 1139,620.6 1140.5,621.5 1142,621.5 1143.5,620.7 1145,619.2 1146.5,617.1 1148,614.7 1149.5,612 1151,609.5 1152.5,607.3 1154,605.6 1155.5,604.7 1157,604.5 1158.5,605.2 1160,606.6 1161.5,608.6 1163,611.1 1164.5,613.7 1166,616.3 1167.5,618.5 1169,620.3 1170.5,621.3 1172,621.6 1173.5,621 1175,619.5 1176.5,617.3 1178,614.7 1179.5,611.8 1181,608.9 1182.5,606.4 1184,604.3 1185.5,603.1 1187,602.7 1188.5,603.2 1190,604.5 1191.5,606.6 1193,609.2 1194.5,612.1 1196,615 1197.5,617.6 1199,619.7 1200.5,621.1 1202,621.6 1203.5,621.2 1205,619.8 1206.5,617.6 1208,614.8 1209.5,611.7 1211,608.5 1212.5,605.6 1214,603.2 1215.5,601.6 1217,600.9 1218.5,601.2 1220,602.4 1221.5,604.5 1223,607.2 1224.5,610.3 1226,613.5 1227.5,616.5 1229,619 1230.5,620.7 1232,621.5 1233.5,621.4 1235,620.3 1236.5,618.3 1238,615.6 1239.5,612.6 1241,609.4 1242.5,606.3 1244,603.8 1245.5,601.9 1247,601 1248.5,601 1250,602 1251.5,603.9 1253,606.4 1254.5,609.5 1256,612.7 1257.5,615.7 1259,618.4 1260.5,620.3 1262,621.4 1263.5,621.5 1265,620.6 1266.5,618.9 1268,616.4 1269.5,613.4 1271,610.2 1272.5,607.1 1274,604.4 1275.5,602.3 1277,601.1 1278.5,600.9 1280,601.6 1281.5,603.3 1283,605.7 1284.5,608.6 1286,611.8 1287.5,614.9 1289,617.7 1290.5,619.9 1292,621.2 1293.5,621.6 1295,621 1296.5,619.6 1298,617.5 1299.5,614.9 1301,612 1302.5,609.1 1304,606.5 1305.5,604.5 1307,603.1 1308.5,602.7 1310,603.1 1311.5,604.4 1313,606.4 1314.5,609 1316,611.9 1317.5,614.8 1319,617.4 1320.5,619.6 1322,621 1323.5,621.6 1325,621.3 1326.5,620.1 1328,618.1 1329.5,615.6 1331,612.8 1332.5,609.8 1334,607.2 1335.5,604.9 1337,603.4 1338.5,602.7 1340,602.9 1341.5,604 1343,605.8 1344.5,608.3 1346,611.1 1347.5,614 1349,616.8 1350.5,619.1 1352,620.7 1353.5,621.5 1355,621.4 1356.5,620.6 1358,619 1359.5,616.8 1361,614.3 1362.5,611.7 1364,609.1 1365.5,607 1367,605.4 1368.5,604.6 1370,604.5 1371.5,605.3 1373,606.8 1374.5,608.9 1376,611.4 1377.5,614 1379,616.6 1380.5,618.8 1382,620.4 1383.5,621.4 1385,621.5 1386.5,621 1388,619.7 1389.5,617.9 1391,615.7 1392.5,613.3 1394,611 1395.5,609 1397,607.5 1398.5,606.5 1400,606.3 1401.5,606.8 1403,608 1404.5,609.7 1406,611.9 1407.5,614.2 1409,616.5 1410.5,618.6 1412,620.2 1413.5,621.3 1415,621.6 1416.5,621.2 1418,620.3 1419.5,618.8 1421,616.9 1422.5,614.9 1424,612.8 1425.5,610.9 1427,609.4 1428.5,608.4 1430,608.1 1431.5,608.3 1433,609.2 1434.5,610.7 1436,612.5 1437.5,614.5 1439,616.6 1440.5,618.5 1442,620.1 1443.5,621.1 1445,621.6 1446.5,621.4 1448,620.7 1449.5,619.5 1451,618 1452.5,616.2 1454,614.4 1455.5,612.8 1457,611.4 1458.5,610.4 1460,609.9 1461.5,610 1463,610.6 1464.5,611.7 1466,613.2 1467.5,615 1469,616.8 1470.5,618.5 1472,619.9 1473.5,621 1475,621.5 1476.5,621.5 1478,621 1479.5,620.2 1481,618.9 1482.5,617.5 1484,615.9 1485.5,614.5 1487,613.2 1488.5,612.3 1490,611.8 1491.5,611.7 1493,612.1 1494.5,613 1496,614.2 1497.5,615.6 1499,617.1 1500.5,618.6 1502,619.9 1503.5,620.9 1505,621.5" fill="none" stroke="#a89000" stroke-width="4.2" stroke-linejoin="round"/>
</g>
<rect x="925.5" y="22" width="580" height="612" fill="none" stroke="#8a9494" stroke-width="2"/>
<line x1="925.5" y1="22" x2="925.5" y2="634" stroke="#5f6f6f" stroke-width="2.4" />
<line x1="926" y1="545" x2="936" y2="545" stroke="#333" stroke-width="1.6" />
<text font-size="26" font-weight="bold" text-anchor="end" x="913" y="554">5</text>
<line x1="926" y1="454.9" x2="936" y2="454.9" stroke="#333" stroke-width="1.6" />
<text font-size="26" font-weight="bold" text-anchor="end" x="913" y="463.9">10</text>
<line x1="926" y1="364.8" x2="936" y2="364.8" stroke="#333" stroke-width="1.6" />
<text font-size="26" font-weight="bold" text-anchor="end" x="913" y="373.8">15</text>
<line x1="926" y1="274.7" x2="936" y2="274.7" stroke="#333" stroke-width="1.6" />
<text font-size="26" font-weight="bold" text-anchor="end" x="913" y="283.7">20</text>
<line x1="926" y1="184.6" x2="936" y2="184.6" stroke="#333" stroke-width="1.6" />
<text font-size="26" font-weight="bold" text-anchor="end" x="913" y="193.6">25</text>
<line x1="926" y1="94.5" x2="936" y2="94.5" stroke="#333" stroke-width="1.6" />
<text font-size="26" font-weight="bold" text-anchor="end" x="913" y="103.5">30</text>
<line x1="926" y1="590" x2="931" y2="590" stroke="#555" stroke-width="1.4" />
<line x1="926" y1="499.9" x2="931" y2="499.9" stroke="#555" stroke-width="1.4" />
<line x1="926" y1="409.9" x2="931" y2="409.9" stroke="#555" stroke-width="1.4" />
<line x1="926" y1="319.8" x2="931" y2="319.8" stroke="#555" stroke-width="1.4" />
<line x1="926" y1="229.6" x2="931" y2="229.6" stroke="#555" stroke-width="1.4" />
<line x1="926" y1="139.6" x2="931" y2="139.6" stroke="#555" stroke-width="1.4" />
<line x1="926" y1="49.4" x2="931" y2="49.4" stroke="#555" stroke-width="1.4" />
<line x1="1053" y1="634" x2="1053" y2="626" stroke="#555" stroke-width="1.6" />
<text font-size="29" font-weight="bold" text-anchor="middle" x="1056" y="664">1,000</text>
<line x1="1178.9" y1="634" x2="1178.9" y2="626" stroke="#555" stroke-width="1.6" />
<text font-size="29" font-weight="bold" text-anchor="middle" x="1181.9" y="664">2,000</text>
<line x1="1304.7" y1="634" x2="1304.7" y2="626" stroke="#555" stroke-width="1.6" />
<text font-size="29" font-weight="bold" text-anchor="middle" x="1307.7" y="664">3,000</text>
<line x1="1430.6" y1="634" x2="1430.6" y2="626" stroke="#555" stroke-width="1.6" />
<text font-size="29" font-weight="bold" text-anchor="middle" x="1433.6" y="664">4,000</text>
<line x1="990.1" y1="634" x2="990.1" y2="629" stroke="#777" stroke-width="1.4" />
<line x1="1115.9" y1="634" x2="1115.9" y2="629" stroke="#777" stroke-width="1.4" />
<line x1="1241.8" y1="634" x2="1241.8" y2="629" stroke="#777" stroke-width="1.4" />
<line x1="1367.7" y1="634" x2="1367.7" y2="629" stroke="#777" stroke-width="1.4" />
<line x1="1493.5" y1="634" x2="1493.5" y2="629" stroke="#777" stroke-width="1.4" />
<line x1="933" y1="41.7" x2="954" y2="41.7" stroke="#c8c8c8" stroke-width="2" />
<line x1="967" y1="41.7" x2="987" y2="41.7" stroke="#c8c8c8" stroke-width="2" />
<circle cx="960" cy="41.7" r="3" fill="#111"/>
<text font-size="27" font-weight="bold" fill="#111" x="994.5" y="50.7">Isopropanol</text>
<line x1="933" y1="75.7" x2="954" y2="75.7" stroke="#00f0f0" stroke-width="3" />
<line x1="967" y1="75.7" x2="987" y2="75.7" stroke="#00f0f0" stroke-width="3" />
<circle cx="960" cy="75.7" r="3" fill="#00f0f0"/>
<text font-size="28" font-weight="bold" fill="#00f0f0" x="994.5" y="84.7">Acetone</text>
<line x1="933" y1="107.5" x2="954" y2="107.5" stroke="#1038f0" stroke-width="2" />
<line x1="967" y1="107.5" x2="987" y2="107.5" stroke="#1038f0" stroke-width="2" />
<circle cx="960" cy="107.5" r="3" fill="#1038f0"/>
<text font-size="28" font-weight="bold" fill="#1038f0" x="994.5" y="116.5">Ethanol</text>
<line x1="933" y1="140.4" x2="954" y2="140.4" stroke="#b09800" stroke-width="2" />
<line x1="967" y1="140.4" x2="987" y2="140.4" stroke="#b09800" stroke-width="2" />
<circle cx="960" cy="140.4" r="3" fill="#b09800"/>
<text font-size="28" font-weight="bold" fill="#b09800" x="994.5" y="149.4">Toluene</text>
<text font-size="33.5" font-weight="bold" text-anchor="middle" transform="translate(860 348) rotate(-90)">Sensor Response</text>
<text font-size="31" font-weight="bold" text-anchor="middle" x="1216" y="710">Time (S)</text>
</g>
<!-- panel_c -->
<g filter="url(#blurC)">
<rect x="1713.5" y="59.5" width="55.5" height="566.5" fill="#fff000"/>
<rect x="1953" y="56" width="23.5" height="570" fill="#fff000"/>
<g clip-path="url(#clipC)">
<path d="M1635.7,616.5 1637.8,616.5 1640,616.5 1642.1,616.5 1644.2,616.5 1646.3,616.5 1648.4,616.5 1650.5,616.5 1652.6,616.5 1654.7,616.5 1656.8,616.5 1658.9,616.5 1661,616.5 1663.1,616.5 1665.2,616.5 1667.3,616.5 1669.4,616.5 1671.5,616.5 1673.7,616.5 1675.9,616.5 1678.1,616.5 1680.3,616.5 1682.5,616.5 1684.7,616.5 1686.9,616.5 1689,616.5 1691.2,616.5 1693.4,616.5 1695.6,616.5 1697.8,616.5 1700.1,616 1702.3,615.5 1704.6,615 1706.8,614.4 1709.1,613.9 1711.3,613.4 1713.6,612.9" fill="none" stroke="#000" stroke-width="7" stroke-linejoin="round" stroke-linecap="butt"/>
<path d="M1970.3,526.1 1973.5,552.4 1975.6,562.9 1977.7,573.4 1980,578.7 1982.2,583.9 1984.5,589.2 1986.6,591.6 1988.7,594 1990.8,596.4 1992.9,598.9 1995,601.3 1997.2,602.4 1999.4,603.6 2001.6,604.7 2003.8,605.8 2006,607 2008.2,608.1 2010.3,608.5 2012.4,608.9 2014.5,609.2 2016.6,609.6 2018.7,610 2020.8,610.3 2022.9,610.7 2025,611.1 2027.1,611.4 2029.2,611.8 2031.4,611.9 2033.6,612 2035.7,612.1 2037.9,612.2 2040.1,612.3 2042.2,612.4 2044.4,612.5 2046.6,612.5 2048.7,612.6 2050.9,612.7 2053.1,612.8 2055.2,612.9 2057.4,613 2059.6,613.1 2061.7,613.2 2063.9,613.3 2066.1,613.4 2068.2,613.4 2070.3,613.4 2072.4,613.4 2074.5,613.4 2076.6,613.4 2078.7,613.4 2080.8,613.4 2082.9,613.4 2085.1,613.4 2087.2,613.4 2089.3,613.4 2091.4,613.4 2093.5,613.4 2095.6,613.4 2097.7,613.4 2099.8,613.4 2102,613.4 2104.1,613.4 2106.2,613.4 2108.3,613.4 2110.4,613.4 2112.5,613.4 2114.6,613.4 2116.7,613.4 2118.8,613.4 2121,613.4 2123.1,613.4 2125.2,613.4 2127.3,613.4 2129.4,613.4 2131.5,613.4 2133.6,613.4 2135.7,613.4 2137.9,613.4 2140,613.4 2142.1,613.4 2144.2,613.4 2146.3,613.4 2148.4,613.4 2150.5,613.4 2152.6,613.4 2154.7,613.4 2156.9,613.4 2159,613.4 2161.1,613.4 2163.2,613.4 2165.3,613.4 2167.4,613.4 2169.5,613.4 2171.6,613.4 2173.7,613.4 2175.9,613.4 2178,613.4 2180.1,613.4 2182.2,613.4 2184.3,613.4 2186.4,613.4 2188.5,613.4 2190.6,613.4 2192.8,613.4 2194.9,613.4 2197,613.4 2199.1,613.4 2201.2,613.4 2203.3,613.4 2205.4,613.4 2207.5,613.4 2209.6,613.4 2211.8,613.4 2213.9,613.4 2216,613.4" fill="none" stroke="#000" stroke-width="8" stroke-linejoin="round" stroke-linecap="butt"/>
<path d="M1635.7,605.5 1637.9,605.8 1640,605.8 1642.2,606.4 1644.3,605.9 1646.4,606.4 1648.6,605.6 1650.7,605.8 1652.9,606.2 1655,606.5 1657.1,606 1659.3,605.7 1661.4,605.6 1663.6,606.1 1665.7,605.6 1667.8,606.4 1670,606.4 1672.1,605.6 1674.3,605.8 1676.4,606.4 1678.6,606.2 1680.7,606.4 1682.8,605.8 1685,605.6 1687.1,605.8 1689.3,606.4 1691.4,605.7 1693.5,605.8 1695.7,605.9 1697.8,605.9 1699.9,606.1 1702,606.9 1704.1,606.2 1706.2,606.3 1708.3,607.6 1710.4,607.7 1712.5,608.1 1714.7,607.6 1716.8,608.5 1718.9,608.6 1721,608 1723.1,608.8 1725.2,609.2 1727.3,609.2 1729.4,609.2 1731.5,607 1733.6,605.2 1735.7,603.2 1737.8,601.1 1739.9,599.8 1742,595.2 1744.1,591.7 1746.2,586.5 1748.3,583.4 1750.4,578.9 1752.7,577.1 1754.9,574.9 1757.2,572.8 1759.4,570.3 1761.7,567.6 1763.9,566.3 1766.2,563.5 1768.3,562.8 1770.4,562.3 1772.5,561.3 1774.6,560.3 1776.7,560 1778.8,558.7 1780.9,557.5 1783,556.5 1785.1,556.3 1787.2,555 1789.4,554.8 1791.6,553.8 1793.8,553 1796,552.9 1798.2,552.7 1800.4,551.4 1802.6,551.7 1804.8,551.3 1807,550.6 1809.2,550.1 1811.4,548.6 1813.5,548.8 1815.7,548.8 1817.8,547.6 1819.9,547.6 1822,547.3 1824.1,547.4 1826.2,547 1828.3,546.8 1830.4,546.9 1832.5,545.7 1834.6,545.5 1836.7,545.3 1838.8,545.1 1840.9,544.7 1843,545.6 1845.1,545.2 1847.2,544 1849.3,544.2 1851.4,543.7 1853.5,543.5 1855.6,543.2 1857.7,543.5 1859.8,543.3 1861.9,542.9 1864.1,542.5 1866.2,542.6 1868.3,542.2 1870.4,542.6 1872.5,542.7 1874.6,542.1 1876.7,541.6 1878.8,541.6 1880.9,541.7 1883,541.9 1885.1,542 1887.2,541.4 1889.3,541.8 1891.4,541.4 1893.5,541.1 1895.6,540.9 1897.7,540.9 1899.8,541 1901.9,540.5 1904,540.7 1906.1,540.3 1908.2,540 1910.4,540.3 1912.5,540.4 1914.7,539.6 1916.8,540 1918.9,540 1921.1,540.5 1923.2,540.6 1925.3,539.8 1927.5,540.4 1929.6,540.3 1931.7,539.6 1933.9,539.8 1936,539.4 1938.2,540.2 1940.3,540 1942.4,540.2 1944.6,540.1 1946.7,539.9 1948.8,539.9 1951,539.7 1953.1,539.1 1955.3,539.6 1957.4,538.9 1959.5,539 1961.7,539.8 1963.8,538.9 1965.9,538.9 1968.1,538.9 1970.2,539.8 1972.4,538.9 1974.5,538.7 1976.6,539.6 1979.3,540.5 1981.9,543.1 1984.5,544.7 1987.1,549.3 1989.8,553.8 1992.4,557.7 1994.5,561.7 1996.6,564.4 1998.7,569 2000.8,572.4 2002.9,576.3 2005,578.2 2007.1,581.6 2009.2,584.4 2011.3,586 2013.5,589 2015.7,590.6 2018,592.3 2020.2,592.9 2022.5,594.2 2024.7,595.6 2027,597.4 2029.2,599 2031.3,599.2 2033.4,599.8 2035.5,600.4 2037.6,601 2039.8,601.7 2041.9,601.9 2044,603.1 2046.1,604.3 2048.2,604.2 2050.3,605.3 2052.5,604.1 2054.7,604.3 2056.8,604 2059,603.4 2061.2,602.8 2063.4,602.3 2065.6,602.1 2067.8,601.9 2070,600.6 2072.2,600.1 2074.4,600.4 2076.6,600.2 2078.7,599.9 2080.8,600 2082.9,600.4 2085,600 2087.1,600.2 2089.2,600.3 2091.3,600.9 2093.4,600.7 2095.5,600.8 2097.6,601.5 2099.7,602 2101.8,601.4 2103.9,602 2106,601.8 2108.1,602.5 2110.2,602.3 2112.3,602.1 2114.5,602.2 2116.6,602.1 2118.7,602.8 2120.8,602.8 2122.9,602.6 2125,602.9 2127.1,603 2129.2,603.6 2131.3,602.9 2133.4,604 2135.5,603.5 2137.6,603.7 2139.7,603.7 2141.8,604.2 2143.9,604.3 2146,604 2148.1,604 2150.2,604.4 2152.3,604.6 2154.4,604.2 2156.5,604.7 2158.6,605 2160.7,604.5 2162.9,604.3 2165,604.4 2167.1,605.1 2169.2,605.1 2171.3,605.5 2173.4,605.4 2175.5,604.8 2177.7,604.7 2179.8,604.9 2181.9,604.8 2184,605.5 2186.2,605.7 2188.3,605.8 2190.4,605.1 2192.6,605.9 2194.7,605.3 2196.8,605.5 2198.9,605.9 2201.1,605.2 2203.2,605.2 2205.3,606.2 2207.5,605.6 2209.6,605.7 2211.7,606 2213.9,606.2 2216,606" fill="none" stroke="#f01010" stroke-width="10.5" stroke-linejoin="round" stroke-linecap="butt"/>
<path d="M1635.7,603.1 1637.8,604.2 1640,604.9 1642.1,605.5 1644.2,605.6 1646.3,606.7 1648.4,607.8 1650.5,607.4 1652.6,608.2 1654.7,608 1656.8,608.8 1658.9,610 1661,609.6 1663.2,611.6 1665.4,612.5 1667.6,611.9 1669.8,614.1 1672,614 1674.1,615.4 1676.3,616.2 1678.5,616.2 1680.7,617.6 1682.9,618.4 1685.1,619.4 1687.3,619.3 1689.4,620.6 1691.5,621.5 1693.6,621.5 1695.7,621.9 1697.8,621.7 1699.9,622.8 1702,623.1 1704.1,624.3 1706.2,624.7 1708.3,625.1 1710.7,622.1 1713.1,620.5 1715.4,618.1 1717.8,615 1719.9,607.3 1722,598.2 1724.1,588.6 1726.2,583.6 1728.3,576 1730.4,570 1732.5,564.3 1734.6,557.8 1736.8,554.6 1739,551.7 1741.2,548.3 1743.4,545 1745.6,541.8 1747.8,538.5 1750,537.8 1752.2,536.1 1754.4,534 1756.6,532.6 1758.8,530.2 1760.9,528.3 1763,527.1 1765.2,526.4 1767.3,523.7 1769.4,523 1771.5,521.2 1773.6,520.6 1775.7,518.5 1777.8,517.1 1779.9,515.7 1782,514.5 1784.1,513.5 1786.2,511.5 1788.3,510.9 1790.4,508.4 1792.5,507.3 1794.6,505.6 1796.7,504.3 1798.8,504 1800.9,502.5 1803,500.3 1805.2,498.9 1807.4,497.9 1809.6,497 1811.8,495.7 1814,494.2 1816.2,492.5 1818.4,490.4 1820.6,489.4 1822.8,487.7 1824.9,486.8 1827.1,485.5 1829.3,483.5 1831.5,482.3 1833.7,482 1835.9,479.5 1838.1,479.5 1840.3,478.5 1842.5,477.3 1844.7,475.2 1846.9,474.2 1849.1,473.1 1851.2,471.9 1853.4,471.2 1855.6,469.5 1857.8,468.2 1860,468.4 1862.2,467.1 1864.4,466.6 1866.6,466.1 1868.8,464.2 1871,464.8 1873.2,463.9 1875.4,462.9 1877.6,462.3 1879.7,461.5 1881.9,460.3 1884.1,460.5 1886.3,459.4 1888.5,459.8 1890.7,459.7 1892.9,459 1895.1,458.8 1897.3,459.1 1899.5,458.6 1901.7,457.1 1903.9,457.8 1906,457.2 1908.2,455.9 1910.3,456.2 1912.4,455.8 1914.6,455.3 1916.7,455.8 1918.8,456.3 1920.9,455.1 1923,455.7 1925.1,455.2 1927.2,454.1 1929.3,455.1 1931.4,454.5 1933.5,454.8 1935.6,454.2 1937.7,454.1 1939.8,453.2 1942,453.9 1944.2,454 1946.4,453.9 1948.6,453.1 1950.8,453.6 1953,453.1 1955.1,452.4 1957.3,452.3 1959.5,452.3 1961.7,452.4 1963.9,452.3 1966.1,452.8 1968.3,453 1970.5,452.7 1972.7,452.5 1974.9,452.8 1977.1,452.2 1979.3,452.4 1981.4,454.4 1983.5,455.4 1985.6,456.6 1987.7,459.4 1989.8,460.7 1992.4,465.3 1995,470.6 1997.7,476.1 2000.3,484.1 2002.9,491.4 2005.6,499 2008.2,507.2 2010.8,516 2013.5,522.9 2015.6,527.3 2017.8,530.8 2020,534.8 2022.2,538.7 2024.4,543 2026.6,546.6 2028.8,549 2031,551.7 2033.2,554.5 2035.4,557.6 2037.6,559.5 2039.8,562.1 2041.9,564.3 2044.1,565.8 2046.3,567.8 2048.5,568.3 2050.7,570.4 2052.9,571.9 2055.1,572.9 2057.3,575.9 2059.5,576.2 2061.7,577.6 2063.9,579.7 2066.1,580.8 2068.2,582.4 2070.4,582.8 2072.6,583.3 2074.8,584.1 2077,586 2079.2,586.2 2081.4,587.9 2083.6,588.3 2085.8,589.9 2088,589.7 2090.2,590.5 2092.4,591.4 2094.6,593 2096.7,593.3 2098.9,593.5 2101.1,593.8 2103.3,595.4 2105.5,596.5 2107.7,596.6 2109.9,596.3 2112.1,597 2114.3,597.7 2116.5,598.5 2118.7,599 2120.9,599.5 2123,601 2125.2,601.9 2127.4,601.3 2129.6,603.1 2131.8,602.8 2134,603.9 2136.2,604.6 2138.4,605.1 2140.6,604.2 2142.8,605.2 2145,606.2 2147.2,607.3 2149.3,606.5 2151.5,607.4 2153.7,608.9 2155.9,608.2 2158.1,609.3 2160.3,609.7 2162.5,610.9 2164.7,611.8 2166.9,611.2 2169.1,612.7 2171.3,613.2 2173.5,614 2175.7,614.3 2177.8,615.5 2180,615.3 2182.2,616 2184.4,616.4 2186.6,617.9 2188.8,618.1 2191,618.4 2193.2,618.9 2195.4,620.4 2197.6,620.9 2199.9,621.7 2202.2,621.9 2204.5,622.7 2206.8,622.8 2209.1,624.4 2211.4,623.9 2213.7,625.3 2216,626" fill="none" stroke="#10f030" stroke-width="11.5" stroke-linejoin="round" stroke-linecap="butt"/>
<path d="M1635.7,611.7 1637.9,611.6 1640,610.6 1642.1,610.9 1644.3,611.8 1646.4,611.5 1648.5,611.9 1650.7,611.9 1652.8,611.2 1654.9,611.9 1657.1,611.6 1659.2,611 1661.3,611.1 1663.4,610.6 1665.6,611.1 1667.7,612 1669.8,610.6 1672,611.4 1674.1,610.7 1676.2,610.6 1678.4,611.5 1680.5,610.9 1682.6,610.6 1684.8,610.7 1686.9,611.5 1689,611.4 1691.2,610.5 1693.3,610.8 1695.4,612 1697.5,610.8 1699.7,611.4 1701.8,611.1 1703.9,611.7 1706.1,611.4 1708.2,611.7 1710.3,611.3 1712.5,610.8 1714.6,610.8 1716.7,610.6 1718.9,611.8 1721.5,605 1724.1,599.3 1726.7,595.2 1729.4,585.2 1732,577.5 1734.6,567.5 1736.7,563.9 1738.8,559.3 1741,556 1743.1,551.5 1745.2,547.3 1747.4,545.6 1749.7,543.9 1751.9,541.2 1754.2,539.7 1756.4,537.6 1758.7,535.2 1760.9,534.5 1763.2,533.1 1765.5,532.5 1767.7,530.5 1770,530.1 1772.2,529 1774.5,528.4 1776.7,526.4 1778.9,526.6 1781.1,526.6 1783.3,525.8 1785.5,526.3 1787.7,526.4 1789.9,525.7 1792.1,525.8 1794.3,525.5 1796.5,524.7 1798.6,524.7 1800.8,525.5 1803,524.2 1805.1,524.3 1807.2,523.6 1809.3,523.7 1811.4,523.5 1813.5,524.6 1815.7,524.2 1817.8,524.3 1819.9,524.4 1822,523.7 1824.1,524.1 1826.2,523.4 1828.3,523.1 1830.4,523.8 1832.5,523.6 1834.6,523.6 1836.7,522.8 1838.8,523.1 1840.9,522.4 1843,523.3 1845.1,523 1847.2,521.9 1849.3,522.9 1851.4,521.6 1853.5,521.3 1855.6,522.2 1857.8,521.5 1859.9,521.9 1862,522.1 1864.1,521.1 1866.2,522.2 1868.4,521.5 1870.5,521.7 1872.6,521.6 1874.7,522.2 1876.8,522.2 1879,521.5 1881.1,521.2 1883.2,521.5 1885.3,521.7 1887.5,521.2 1889.6,521.3 1891.7,522.3 1893.8,522.2 1895.9,522.6 1898.1,522.6 1900.2,522.4 1902.3,521.6 1904.4,521.3 1906.5,521.5 1908.7,521.8 1910.8,521.9 1912.9,521.9 1915,521.6 1917.1,522.4 1919.3,521.5 1921.4,521.8 1923.5,522.5 1925.6,522.3 1927.8,521.5 1929.9,521.4 1932,522.3 1934.1,521.1 1936.2,521.3 1938.4,521.9 1940.5,521.9 1942.6,521.3 1944.7,521.1 1946.8,521.4 1949,522.3 1951.1,521.8 1953.2,522.6 1955.3,522.3 1957.5,522.6 1959.6,521.1 1961.7,521.3 1963.8,521.1 1965.9,521.7 1968.1,521.6 1970.2,521.1 1972.3,521.9 1974.4,521.2 1976.5,521.5 1978.7,521.4 1980.8,522.3 1982.9,521.7 1985,521.5 1987.1,521.1 1989.3,526.5 1991.4,531.5 1994,540.8 1996.6,550.4 1998.7,556.4 2000.8,561.6 2002.9,567.6 2005,571.9 2007.1,575.3 2009.2,578.3 2011.3,582.1 2013.5,585.1 2015.6,586.6 2017.8,588.5 2020,590.3 2022.2,593.3 2024.4,595.7 2026.6,597.7 2028.8,598.2 2031,599.6 2033.2,601.2 2035.4,602.1 2037.6,602.9 2039.8,603.8 2041.9,604.4 2044.1,604.3 2046.3,604.7 2048.5,606 2050.7,606.9 2052.9,606.6 2055.1,606.8 2057.3,607.2 2059.5,607.8 2061.7,608.8 2063.9,608.7 2066.1,609.9 2068.2,608.6 2070.3,608.9 2072.4,609.3 2074.5,609.1 2076.6,609.8 2078.7,609.8 2080.8,610 2082.9,609.5 2085.1,608.6 2087.2,609.4 2089.3,609.4 2091.4,609.3 2093.5,609 2095.6,609.7 2097.7,610.1 2099.8,608.8 2102,609.7 2104.1,609.2 2106.2,609.5 2108.3,610.1 2110.4,610.2 2112.5,609.7 2114.6,609 2116.7,610.2 2118.8,609 2121,609.4 2123.1,610.1 2125.2,609.3 2127.3,609.2 2129.4,610.3 2131.5,610.3 2133.6,609.4 2135.7,609.5 2137.9,609.3 2140,609.1 2142.1,609.3 2144.2,610.5 2146.3,609.1 2148.4,609.3 2150.5,609.3 2152.6,609.1 2154.7,609.8 2156.9,610.2 2159,610.4 2161.1,610 2163.2,610.4 2165.3,609.1 2167.4,609.5 2169.5,610.6 2171.6,609.2 2173.7,609.6 2175.9,609.9 2178,609.6 2180.1,610 2182.2,609.3 2184.3,609.6 2186.4,610.7 2188.5,609.5 2190.6,610.7 2192.8,609.5 2194.9,610.9 2197,610.4 2199.1,610.3 2201.2,609.5 2203.3,609.4 2205.4,610.6 2207.5,609.6 2209.6,609.7 2211.8,610.7 2213.9,610.8 2216,610.2" fill="none" stroke="#0a30f0" stroke-width="11.5" stroke-linejoin="round" stroke-linecap="butt"/>
<path d="M1635.7,612.1 1637.9,613.6 1640,612.9 1642.2,612.7 1644.3,612.2 1646.5,612.7 1648.6,613.6 1650.8,612.5 1652.9,612.3 1655.1,612.3 1657.2,612.3 1659.4,612.6 1661.5,613.5 1663.7,612.2 1665.8,612.4 1668,613.6 1670.1,613.7 1672.3,613.6 1674.4,612.4 1676.6,612.6 1678.7,613.6 1680.9,612.8 1683,613.2 1685.2,612.6 1687.3,612.1 1689.5,612.6 1691.6,613.3 1693.8,613.3 1695.9,613 1698.1,612.8 1700.2,612.9 1702.4,612.8 1704.5,612.9 1706.7,613.4 1708.8,612.4 1711,613 1713.6,601.7 1716.2,589.7 1718.9,567.6 1721.5,547.8 1724.1,535.4 1726.7,522 1729.4,509.9 1731.5,504 1733.6,498 1735.7,493.7 1737.8,487 1739.9,481.9 1742,477.6 1744.1,474.3 1746.2,472.5 1748.3,469.2 1750.4,466.3 1752.5,464.1 1754.6,462 1756.7,460.6 1758.8,457.8 1760.9,456.7 1763,455.3 1765.2,453.6 1767.3,453.1 1769.4,451.5 1771.5,450.6 1773.6,449.2 1775.7,447.9 1777.8,446.7 1779.9,445.9 1782,445.3 1784.1,444.6 1786.2,443.9 1788.3,443.3 1790.4,441.8 1792.5,442.3 1794.6,440.6 1796.7,439.7 1798.8,439.7 1800.9,439.5 1803,438.3 1805.1,438.2 1807.2,437 1809.3,437.5 1811.4,436.1 1813.5,435.5 1815.7,434.7 1817.8,434.3 1819.9,433.5 1822,431.8 1824.1,430.7 1826.2,430.1 1828.3,428.3 1830.4,427.9 1832.5,427.6 1834.6,426.5 1836.7,424.3 1838.8,424.6 1840.9,422.8 1843,422.7 1845.1,420.6 1847.2,420.7 1849.3,421.6 1851.4,422.4 1853.5,422 1855.6,423 1857.7,423.1 1859.8,422.8 1861.9,423.1 1864.1,423.7 1866.2,423.8 1868.3,423.8 1870.4,424.2 1872.5,424.6 1874.6,424.1 1876.7,423.4 1878.8,423.6 1880.9,423.8 1883,424.2 1885.1,423.4 1887.2,423.3 1889.3,423.7 1891.4,423.7 1893.5,423.2 1895.6,424.1 1897.7,424.7 1899.8,424.1 1901.9,424.4 1904,424.5 1906.1,424.5 1908.2,424.7 1910.3,423.8 1912.4,424.1 1914.6,423.2 1916.7,424.3 1918.8,423.4 1920.9,423.5 1923,424.1 1925.1,423 1927.2,422.8 1929.3,423.7 1931.4,423.3 1933.5,422.4 1935.6,422.2 1937.7,422.7 1939.8,422 1941.9,423.3 1944,422.2 1946.1,422.2 1948.2,422.3 1950.3,422.4 1952.4,420.9 1954.5,419.9 1956.6,418.6 1958.7,416.8 1960.8,414.9 1963.5,416.4 1966.1,415.9 1968.7,414.9 1971.4,419 1974,423 1976.6,426.9 1979.3,432.4 1981.9,439.3 1984.5,447.1 1987.1,455.8 1989.8,465.3 1992.4,474 1995,483.7 1997.7,494.4 2000.3,505.1 2002.9,516.1 2005.6,525.6 2008.2,536.4 2010.8,542.9 2013.5,550.8 2016.1,556.9 2018.2,562.5 2020.3,566.1 2022.4,570.4 2024.5,573.8 2026.6,578.2 2028.8,581.1 2031,584.1 2033.2,586.1 2035.4,588.1 2037.6,591.7 2039.8,593.6 2042,594.9 2044.3,595.9 2046.5,597.6 2048.8,600 2051,600.3 2053.3,602.5 2055.5,604.1 2057.6,604.2 2059.7,605.4 2061.8,606.1 2064,606.6 2066.1,606.9 2068.2,606.6 2070.3,606.9 2072.4,608 2074.5,608.3 2076.6,608.7 2078.7,609.8 2080.8,608.8 2082.9,609.8 2085,610 2087.1,608.7 2089.3,610 2091.4,609.2 2093.5,609 2095.6,609 2097.7,608.8 2099.8,609.5 2101.9,609.4 2104,610.1 2106.1,610.2 2108.3,608.9 2110.4,609.5 2112.5,609.5 2114.6,609.2 2116.7,609.4 2118.8,609.4 2120.9,610.2 2123,609.6 2125.2,609.3 2127.3,609.5 2129.4,609.9 2131.5,610.1 2133.6,609.6 2135.7,610.4 2137.8,609.6 2139.9,610.4 2142.1,610.3 2144.2,609.7 2146.3,610.6 2148.4,610.1 2150.5,610.4 2152.6,610.5 2154.7,610.6 2156.8,610.3 2159,609.7 2161.1,610.9 2163.2,611.1 2165.3,610.5 2167.4,610.7 2169.5,610.2 2171.6,611.2 2173.7,610.9 2175.9,610.2 2178,611.2 2180.1,611.5 2182.2,610.5 2184.3,611.6 2186.4,610.8 2188.5,610.3 2190.6,611.2 2192.7,610.7 2194.9,611.3 2197,611.1 2199.1,610.4 2201.2,611.1 2203.3,611.6 2205.4,611.1 2207.5,611.2 2209.6,611.8 2211.8,611.1 2213.9,611.2 2216,611.3" fill="none" stroke="#00f0f0" stroke-width="11.5" stroke-linejoin="round" stroke-linecap="butt"/>
<path d="M1635.7,610.4 1637.9,610.7 1640,609.7 1642.2,609.6 1644.3,610.6 1646.5,610.3 1648.6,609.9 1650.8,610.9 1652.9,610.8 1655.1,610.3 1657.2,611 1659.4,610.8 1661.5,610.6 1663.7,609.9 1665.8,609.4 1668,610.5 1670.1,610.6 1672.3,610 1674.4,610.2 1676.6,610.3 1678.7,609.8 1680.9,610.5 1683,610.3 1685.2,610 1687.3,609.6 1689.5,610.3 1691.6,609.9 1693.8,610.6 1695.9,609.7 1698.1,610.1 1700.2,609.7 1702.4,610.1 1704.5,610.3 1706.7,609.6 1708.8,609.5 1711,610.2 1713.6,607.6 1716.2,606 1718.9,603.4 1721,601.4 1723.1,600.2 1725.2,598.9 1727.3,596.9 1729.4,594.5 1731.5,594.2 1733.6,593.5 1735.7,593.8 1737.8,593.7 1739.9,594.6 1742,593.2 1744.1,594.4 1746.2,593.6 1748.3,593.4 1750.4,593 1752.5,594.2 1754.6,593 1756.7,593.6 1758.8,593.6 1760.9,593.1 1763,593.2 1765.2,594.5 1767.3,594.2 1769.4,594.1 1771.5,594.5 1773.6,593.2 1775.7,594.2 1777.8,594.3 1779.9,593.5 1782,594 1784.1,594.8 1786.2,593.8 1788.3,594.6 1790.4,593.7 1792.5,594.5 1794.6,593.9 1796.7,594.3 1798.8,594.2 1800.9,595 1803,594.8 1805.1,594.6 1807.2,595 1809.3,594.6 1811.4,595.4 1813.5,594.6 1815.7,595.1 1817.8,595.3 1819.9,595.1 1822,594.7 1824.1,595 1826.2,595.8 1828.3,595.2 1830.4,596.2 1832.5,595.9 1834.6,596.7 1836.7,596.7 1838.8,596.6 1840.9,596.1 1843,595.7 1845.1,596.6 1847.2,597 1849.3,597.4 1851.4,596.4 1853.5,596.4 1855.6,597.8 1857.7,597.4 1859.8,596.8 1861.9,597.1 1864.1,596.1 1866.2,596.6 1868.3,596.7 1870.4,596.5 1872.5,595.7 1874.6,595.5 1876.7,596.2 1878.8,596.5 1880.9,595.2 1883,594.9 1885.1,594.9 1887.2,596 1889.3,595.2 1891.4,595.2 1893.5,596 1895.6,595.3 1897.7,594.6 1899.8,595.2 1901.9,594 1904,594.3 1906.1,594.9 1908.2,593.9 1910.4,593.6 1912.5,594.3 1914.7,593.9 1916.8,594.8 1919,593.3 1921.2,594.4 1923.3,593.6 1925.5,594.2 1927.6,593.5 1929.8,593.8 1931.9,593.1 1934.1,592.9 1936.2,593.1 1938.4,593.6 1940.5,592.8 1942.7,592.5 1944.8,592.7 1947,592.1 1949.1,592.3 1951.3,592.6 1953.4,592.5 1955.6,592.5 1957.9,592.1 1960.2,591.8 1962.5,592 1964.8,592.6 1967.1,592.5 1969.4,593.2 1971.7,592.9 1974,593.8 1976.6,596.5 1979.3,599.6 1981.9,602.7 1984,603.7 1986.1,605 1988.2,606.1 1990.3,607.1 1992.4,609.6 1994.5,609.4 1996.6,609 1998.7,610.5 2000.8,610.1 2002.9,610.4 2005,610.3 2007.1,610 2009.2,611.7 2011.3,610.5 2013.5,611.1 2015.6,612.1 2017.7,610.7 2019.8,611.3 2021.9,611.3 2024,610.9 2026.1,612 2028.2,611.2 2030.3,610.5 2032.4,611.3 2034.5,610.5 2036.7,611.7 2038.8,611.9 2040.9,612 2043,610.6 2045.1,611.6 2047.2,611.1 2049.3,611.3 2051.4,611.1 2053.5,611.1 2055.6,610.8 2057.8,611.6 2059.9,610.7 2062,612.1 2064.1,610.7 2066.2,612.2 2068.3,610.9 2070.4,610.8 2072.5,611.8 2074.6,611.5 2076.7,611.9 2078.9,611.5 2081,611.7 2083.1,610.8 2085.2,611.7 2087.3,611.5 2089.4,612.2 2091.5,610.7 2093.6,610.8 2095.7,611.8 2097.8,612.2 2099.9,611.4 2102.1,611.8 2104.2,611.6 2106.3,611.3 2108.4,611.5 2110.5,611.7 2112.6,610.8 2114.7,611.2 2116.8,611.9 2118.9,611.2 2121,611.5 2123.2,611.2 2125.3,611.3 2127.4,611.8 2129.5,612 2131.6,612.3 2133.7,611.6 2135.8,611.1 2137.9,611.3 2140,610.9 2142.1,611.2 2144.3,611.8 2146.4,611.8 2148.5,611.2 2150.6,611.1 2152.7,611 2154.8,611.1 2156.9,611.7 2159,611.3 2161.1,612.3 2163.2,611.8 2165.3,611.4 2167.5,611.6 2169.6,610.9 2171.7,612.1 2173.8,612.1 2175.9,611.5 2178,612.1 2180.1,611.3 2182.2,611.3 2184.3,611.3 2186.4,611.2 2188.6,611.9 2190.7,612 2192.8,612.1 2194.9,611.1 2197,612.2 2199.1,611.7 2201.2,611.6 2203.3,611.8 2205.4,611.7 2207.5,611.3 2209.7,611.6 2211.8,612 2213.9,612.1 2216,611.8" fill="none" stroke="#8a7a10" stroke-width="10" stroke-linejoin="round" stroke-linecap="butt"/>
<path d="M1716.2,605 1717.8,578.7 1720.4,552.4 1724.1,526.1 1727.8,482.4 1733.6,451.4 1736.2,415.6 1738.8,387.7 1741.5,352.5 1746.7,323.5 1749.4,294.6 1752,273.5 1754.6,243.6 1756.7,202.5 1759.4,157.8 1760.4,149.9 1764.6,118.4 1767.8,96.3" fill="none" stroke="#c9c080" stroke-width="1.2" />
<path d="M1711.4,600.2h9.6v9.6h-9.6zM1713,573.9h9.6v9.6h-9.6zM1715.6,547.6h9.6v9.6h-9.6zM1719.3,521.3h9.6v9.6h-9.6zM1723,477.6h9.6v9.6h-9.6zM1728.8,446.6h9.6v9.6h-9.6zM1731.4,410.8h9.6v9.6h-9.6zM1734,382.9h9.6v9.6h-9.6zM1736.7,347.7h9.6v9.6h-9.6zM1741.9,318.7h9.6v9.6h-9.6zM1744.6,289.8h9.6v9.6h-9.6zM1747.2,268.7h9.6v9.6h-9.6zM1749.8,238.8h9.6v9.6h-9.6zM1751.9,197.7h9.6v9.6h-9.6zM1754.6,153h9.6v9.6h-9.6zM1755.6,145.1h9.6v9.6h-9.6zM1759.8,113.6h9.6v9.6h-9.6zM1763,91.5h9.6v9.6h-9.6z" fill="#000" stroke="none" stroke-width="1" />
<path d="M1955.6,60.5 1957.2,118.4 1959.3,213.1 1961.9,298.3 1964,393 1966.1,462.9 1968.7,505" fill="none" stroke="#c9c080" stroke-width="1.2" />
<path d="M1952.4,113.6h9.6v9.6h-9.6zM1954.5,208.3h9.6v9.6h-9.6zM1957.1,293.5h9.6v9.6h-9.6zM1959.2,388.2h9.6v9.6h-9.6zM1961.3,458.1h9.6v9.6h-9.6zM1963.9,500.2h9.6v9.6h-9.6z" fill="#000" stroke="none" stroke-width="1" />
<path d="M1767.8,97.3 1769.9,94.3 1772,91.4 1774.1,88.4 1776.7,85.2 1779.4,82.1 1782,78.9 1784.1,77 1786.2,75.1 1788.3,73.2 1790.4,71.3 1792.5,69.4 1794.6,68 1796.7,66.5 1798.8,65 1800.9,63.5 1803,62.1 1805.2,61 1807.4,60 1809.6,58.9 1811.8,57.9 1814,56.8 1816.2,55.8 1818.3,55.3 1820.4,54.9 1822.5,54.5 1824.6,54.1 1826.7,53.7 1829.3,55.2 1832,56.8 1834.6,58.4 1837.2,60 1839.5,60 1841.8,60.1 1844.1,60.2 1846.4,60.2 1848.7,60.3 1851,60.4 1853.3,60.4 1855.6,60.5 1857.8,60.5 1859.9,60.4 1862.1,60.4 1864.2,60.4 1866.4,60.4 1868.5,60.4 1870.7,60.3 1872.8,60.3 1875,60.3 1877.2,60.3 1879.3,60.2 1881.5,60.2 1883.6,60.2 1885.8,60.2 1887.9,60.1 1890.1,60.1 1892.2,60.1 1894.4,60.1 1896.5,60 1898.7,60 1900.8,60 1903,60 1905.1,57.3 1907.2,54.7 1909.3,54.7 1911.4,54.7 1914.6,60 1916.7,60 1918.8,60 1920.9,60 1923,60 1925.1,60 1927.2,60 1929.3,60 1931.4,60 1933.5,60 1935.6,60 1937.7,60 1939.8,60 1941.9,60 1944,60 1946.1,60 1948.2,60 1950.3,60 1952.4,60 1954.5,60 1956.6,60 1958.7,60" fill="none" stroke="#000" stroke-width="9" stroke-linejoin="round" stroke-linecap="butt"/>
<path d="M1918.5,74.4h9v9h-9z" fill="#000" stroke="none" stroke-width="1" />
</g>
<rect x="1636" y="23" width="580" height="610" fill="none" stroke="#777" stroke-width="1.6"/>
<line x1="1636" y1="526.1" x2="1645" y2="526.1" stroke="#333" stroke-width="1.5" />
<text font-size="25" font-weight="bold" text-anchor="end" x="1620" y="534.1">3</text>
<line x1="1636" y1="399.5" x2="1645" y2="399.5" stroke="#333" stroke-width="1.5" />
<text font-size="25" font-weight="bold" text-anchor="end" x="1620" y="407.5">6</text>
<line x1="1636" y1="272.9" x2="1645" y2="272.9" stroke="#333" stroke-width="1.5" />
<text font-size="25" font-weight="bold" text-anchor="end" x="1620" y="280.9">9</text>
<line x1="1636" y1="146.3" x2="1645" y2="146.3" stroke="#333" stroke-width="1.5" />
<text font-size="25" font-weight="bold" text-anchor="end" x="1620" y="154.3">12</text>
<line x1="1636" y1="589.4" x2="1641" y2="589.4" stroke="#555" stroke-width="1.3" />
<line x1="1636" y1="462.8" x2="1641" y2="462.8" stroke="#555" stroke-width="1.3" />
<line x1="1636" y1="336.2" x2="1641" y2="336.2" stroke="#555" stroke-width="1.3" />
<line x1="1636" y1="209.6" x2="1641" y2="209.6" stroke="#555" stroke-width="1.3" />
<line x1="1636" y1="83" x2="1641" y2="83" stroke="#555" stroke-width="1.3" />
<line x1="1777.8" y1="633" x2="1777.8" y2="625" stroke="#333" stroke-width="1.5" />
<text font-size="25" font-weight="bold" text-anchor="middle" x="1777.8" y="662">100</text>
<line x1="1997.8" y1="633" x2="1997.8" y2="625" stroke="#333" stroke-width="1.5" />
<text font-size="25" font-weight="bold" text-anchor="middle" x="1997.8" y="662">200</text>
<line x1="1667.8" y1="633" x2="1667.8" y2="628" stroke="#555" stroke-width="1.3" />
<line x1="1887.8" y1="633" x2="1887.8" y2="628" stroke="#555" stroke-width="1.3" />
<line x1="2107.8" y1="633" x2="2107.8" y2="628" stroke="#555" stroke-width="1.3" />
<line x1="2008" y1="37.2" x2="2027" y2="37.2" stroke="#bbb" stroke-width="1.6" />
<line x1="2046" y1="37.2" x2="2064" y2="37.2" stroke="#bbb" stroke-width="1.6" />
<rect x="2032.5" y="32.7" width="9" height="9" fill="#111"/>
<text font-size="27" font-weight="bold" fill="#111" x="2070.5" y="46.2">Isopropanol</text>
<line x1="2008" y1="71.2" x2="2027" y2="71.2" stroke="#00f0f0" stroke-width="1.6" />
<line x1="2046" y1="71.2" x2="2064" y2="71.2" stroke="#00f0f0" stroke-width="1.6" />
<rect x="2032.5" y="66.7" width="9" height="9" fill="#00f0f0"/>
<text font-size="27" font-weight="bold" fill="#00f0f0" x="2070.5" y="80.2">Acetone</text>
<line x1="2008" y1="102.9" x2="2027" y2="102.9" stroke="#ffb0b0" stroke-width="1.6" />
<line x1="2046" y1="102.9" x2="2064" y2="102.9" stroke="#ffb0b0" stroke-width="1.6" />
<rect x="2032.5" y="98.4" width="9" height="9" fill="#10f030"/>
<text font-size="27" font-weight="bold" fill="#10f030" x="2070.5" y="111.9">Methanol</text>
<line x1="2008" y1="135.9" x2="2027" y2="135.9" stroke="#60a0ff" stroke-width="1.6" />
<line x1="2046" y1="135.9" x2="2064" y2="135.9" stroke="#60a0ff" stroke-width="1.6" />
<rect x="2032.5" y="131.4" width="9" height="9" fill="#1038f0"/>
<text font-size="27" font-weight="bold" fill="#1038f0" x="2070.5" y="144.9">Ethanol</text>
<line x1="2008" y1="168.8" x2="2027" y2="168.8" stroke="#ff6060" stroke-width="1.6" />
<line x1="2046" y1="168.8" x2="2064" y2="168.8" stroke="#ff6060" stroke-width="1.6" />
<rect x="2032.5" y="164.3" width="9" height="9" fill="#f01010"/>
<text font-size="27" font-weight="bold" fill="#f01010" x="2070.5" y="177.8">Butanol</text>
<line x1="2008" y1="201.5" x2="2027" y2="201.5" stroke="#c0b860" stroke-width="1.6" />
<line x1="2046" y1="201.5" x2="2064" y2="201.5" stroke="#c0b860" stroke-width="1.6" />
<rect x="2032.5" y="197" width="9" height="9" fill="#8a7a10"/>
<text font-size="27" font-weight="bold" fill="#8a7a10" x="2070.5" y="210.5">Toluene</text>
<text font-size="24" font-weight="bold" x="1641" y="497">50ppm</text>
<line x1="1704.5" y1="506" x2="1704.5" y2="590" stroke="#555" stroke-width="1.6" />
<path d="M1704.5,607L1697,585L1712,585Z" fill="#000"/>
<text font-size="33.5" font-weight="bold" text-anchor="middle" transform="translate(1573 348.5) rotate(-90) scale(1.002 1)">Sensor Response</text>
<text font-size="31" font-weight="bold" text-anchor="middle" x="1901" y="711">Time (s)</text>
</g>
<!-- panel_d -->
<g filter="url(#blurD)">
<g clip-path="url(#clipD)">
<line x1="196.9" y1="824" x2="196.9" y2="1303" stroke="#555" stroke-width="2" />
<line x1="333.3" y1="824" x2="333.3" y2="1303" stroke="#555" stroke-width="2" />
<line x1="470.5" y1="824" x2="470.5" y2="1303" stroke="#555" stroke-width="2" />
<line x1="597" y1="824" x2="597" y2="1303" stroke="#555" stroke-width="2" />
<line x1="206.9" y1="836" x2="259.7" y2="836" stroke="#aaa" stroke-width="1.4" stroke-dasharray="9 7"/>
<path d="M198.9,836L209.9,833.5L209.9,838.5Z" fill="#111"/>
<path d="M267.7,836L256.7,838.5L256.7,833.5Z" fill="#111"/>
<line x1="279.7" y1="836" x2="323.3" y2="836" stroke="#aaa" stroke-width="1.4" stroke-dasharray="9 7"/>
<path d="M271.7,836L282.7,833.5L282.7,838.5Z" fill="#111"/>
<path d="M331.3,836L320.3,838.5L320.3,833.5Z" fill="#111"/>
<line x1="343.3" y1="836" x2="395.7" y2="836" stroke="#aaa" stroke-width="1.4" stroke-dasharray="9 7"/>
<path d="M335.3,836L346.3,833.5L346.3,838.5Z" fill="#111"/>
<path d="M403.7,836L392.7,838.5L392.7,833.5Z" fill="#111"/>
<line x1="415.7" y1="836" x2="460.5" y2="836" stroke="#aaa" stroke-width="1.4" stroke-dasharray="9 7"/>
<path d="M407.7,836L418.7,833.5L418.7,838.5Z" fill="#111"/>
<path d="M468.5,836L457.5,838.5L457.5,833.5Z" fill="#111"/>
<line x1="480.5" y1="836" x2="528.5" y2="836" stroke="#aaa" stroke-width="1.4" stroke-dasharray="9 7"/>
<path d="M472.5,836L483.5,833.5L483.5,838.5Z" fill="#111"/>
<path d="M536.5,836L525.5,838.5L525.5,833.5Z" fill="#111"/>
<line x1="548.5" y1="836" x2="587" y2="836" stroke="#aaa" stroke-width="1.4" stroke-dasharray="9 7"/>
<path d="M540.5,836L551.5,833.5L551.5,838.5Z" fill="#111"/>
<path d="M595,836L584,838.5L584,833.5Z" fill="#111"/>
<line x1="607" y1="836" x2="676.7" y2="836" stroke="#aaa" stroke-width="1.4" stroke-dasharray="9 7"/>
<path d="M599,836L610,833.5L610,838.5Z" fill="#111"/>
<path d="M684.7,836L673.7,838.5L673.7,833.5Z" fill="#111"/>
<line x1="696.7" y1="836" x2="725" y2="836" stroke="#aaa" stroke-width="1.4" stroke-dasharray="9 7"/>
<path d="M688.7,836L699.7,833.5L699.7,838.5Z" fill="#111"/>
<line x1="207" y1="1290" x2="212" y2="870" stroke="#c8c8c8" stroke-width="1.4" />
<line x1="269.7" y1="860" x2="273.7" y2="1260" stroke="#c8c8c8" stroke-width="1.4" />
<line x1="343" y1="1290" x2="348" y2="870" stroke="#c8c8c8" stroke-width="1.4" />
<line x1="405.7" y1="860" x2="409.7" y2="1260" stroke="#c8c8c8" stroke-width="1.4" />
<line x1="476.3" y1="1290" x2="481.3" y2="870" stroke="#c8c8c8" stroke-width="1.4" />
<line x1="538.5" y1="860" x2="542.5" y2="1260" stroke="#c8c8c8" stroke-width="1.4" />
<line x1="609" y1="1290" x2="614" y2="870" stroke="#c8c8c8" stroke-width="1.4" />
<line x1="686.7" y1="860" x2="690.7" y2="1260" stroke="#c8c8c8" stroke-width="1.4" />
<path d="M171,1309 185,1309 192,1311 198,1306 203,1296 205,1290M211.5,880 213,868 217,862 223,863 228,864.3 234,865.8 240,864.7 246,864.5 252,863.6 258,863.9 264,865.2 268.7,862.3 269.7,867.3M274.2,1252 275.2,1270 277.2,1284 280.7,1294 286.7,1298 293.7,1297.5 300.7,1300.8 307.7,1302.2 314.7,1304.9 321.7,1307.6 328.7,1307.5 335.7,1307.8 338.3,1303 342.3,1293 343,1288M347.5,880 349,868 353,862 359,863 364,866.1 370,865.6 376,861.8 382,862.8 388,865.9 394,863.9 400,866.2 404.7,862.3 405.7,867.3M410.2,1252 411.2,1270 413.2,1284 416.7,1294 422.7,1298 429.7,1298.8 436.7,1299.4 443.7,1302.4 450.7,1304.5 457.7,1306.9 464.7,1309.9 471.7,1308 475.5,1303 479.5,1293 476.3,1288M480.8,880 482.3,868 486.3,862 492.3,863 497.3,862.7 503.3,866.3 509.3,864.5 515.3,864.4 521.3,862 527.3,862.5 533.3,863.8 537.5,862.3 538.5,867.3M543,1252 544,1270 546,1284 549.5,1294 555.5,1298 562.5,1297.6 569.5,1300.9 576.5,1302 583.5,1306 590.5,1309.3 597.5,1307.9 602,1303 606,1293 609,1288M613.5,880 615,868 619,862 625,863 630,862.3 636,864.1 642,863 648,865.2 654,863.6 660,863.7 666,865.9 672,864 678,864.2 684,866 685.7,862.3 686.7,867.3M691.2,1252 692.2,1270 694.2,1284 697.7,1294 703.7,1298 710.7,1298.7 717.7,1299.3 724.7,1302.9 731.7,1304.9 738.7,1306.9" fill="none" stroke="#000" stroke-width="12.5" stroke-linejoin="round" stroke-linecap="round"/>
<path d="M207,1286h0M207.3,1260h0M207.7,1230h0M208,1204h0M208.3,1178h0M208.7,1148h0M209.1,1118h0M209.3,1098h0M209.6,1078h0M210,1048h0M210.3,1022h0M210.7,992h0M210.9,972h0M211.1,955h0M211.5,929h0M211.8,906h0M212,886h0M270,891.8h0M270.8,961.2h0M271.9,1058.3h0M272.8,1128.6h0M273.2,1165.4h0M273.6,1210.8h0M273.9,1233h0M274.1,1252.8h0M343,1286h0M343.3,1263h0M343.6,1237h0M344,1207h0M344.2,1190h0M344.5,1167h0M344.8,1144h0M345,1124h0M345.4,1094h0M345.7,1071h0M345.9,1054h0M346.1,1037h0M346.5,1007h0M346.7,990h0M347,964h0M347.2,947h0M347.5,924h0M347.9,898h0M406,889.3h0M406.8,955.7h0M407.9,1056.3h0M408.8,1135.8h0M409.2,1167.7h0M409.6,1202.9h0M409.9,1230.3h0M410.1,1254.6h0M476.3,1286h0M476.7,1256h0M476.9,1236h0M477.2,1210h0M477.6,1180h0M477.9,1160h0M478.1,1140h0M478.4,1114h0M478.8,1088h0M479,1071h0M479.3,1045h0M479.6,1019h0M479.9,999h0M480.1,982h0M480.4,959h0M480.8,929h0M481.1,906h0M481.3,889h0M538.8,885.4h0M539.6,961.1h0M540.7,1058.3h0M541.6,1131.9h0M542,1165.7h0M542.4,1204.1h0M542.7,1233.4h0M542.9,1245.2h0M609,1286h0M609.3,1260h0M609.6,1240h0M609.8,1220h0M610.1,1197h0M610.4,1177h0M610.7,1147h0M611,1127h0M611.2,1107h0M611.5,1087h0M611.9,1057h0M612.1,1037h0M612.4,1011h0M612.8,985h0M613.1,955h0M613.4,938h0M613.7,912h0M613.9,895h0M687,895.1h0M687.8,956.3h0M688.9,1054.8h0M689.8,1134.5h0M690.2,1171.2h0M690.6,1202.7h0M690.9,1229.1h0M691.1,1254.1h0" fill="none" stroke="#000" stroke-width="10.6" stroke-linecap="round"/>
</g>
<rect x="171" y="725" width="558.5" height="611" fill="none" stroke="#555" stroke-width="2"/>
<line x1="171" y1="1167" x2="181" y2="1167" stroke="#444" stroke-width="1.6" />
<text font-size="23" font-weight="bold" text-anchor="end" x="156" y="1175">5.0</text>
<line x1="171" y1="996" x2="181" y2="996" stroke="#444" stroke-width="1.6" />
<text font-size="23" font-weight="bold" text-anchor="end" x="156" y="1004">10.0</text>
<line x1="171" y1="825" x2="181" y2="825" stroke="#444" stroke-width="1.6" />
<text font-size="23" font-weight="bold" text-anchor="end" x="156" y="833">15.0</text>
<line x1="171" y1="1252.5" x2="176" y2="1252.5" stroke="#666" stroke-width="1.4" />
<line x1="171" y1="1081.5" x2="176" y2="1081.5" stroke="#666" stroke-width="1.4" />
<line x1="171" y1="910.5" x2="176" y2="910.5" stroke="#666" stroke-width="1.4" />
<line x1="171" y1="739.5" x2="176" y2="739.5" stroke="#666" stroke-width="1.4" />
<line x1="285.2" y1="1336" x2="285.2" y2="1327" stroke="#444" stroke-width="1.6" />
<text font-size="23.5" font-weight="bold" text-anchor="middle" x="287.2" y="1365.5">200</text>
<line x1="399" y1="1336" x2="399" y2="1327" stroke="#444" stroke-width="1.6" />
<text font-size="23.5" font-weight="bold" text-anchor="middle" x="401" y="1365.5">400</text>
<line x1="512.8" y1="1336" x2="512.8" y2="1327" stroke="#444" stroke-width="1.6" />
<text font-size="23.5" font-weight="bold" text-anchor="middle" x="514.8" y="1365.5">600</text>
<line x1="626.6" y1="1336" x2="626.6" y2="1327" stroke="#444" stroke-width="1.6" />
<text font-size="23.5" font-weight="bold" text-anchor="middle" x="628.6" y="1365.5">800</text>
<line x1="228.3" y1="1336" x2="228.3" y2="1331" stroke="#666" stroke-width="1.4" />
<line x1="342.1" y1="1336" x2="342.1" y2="1331" stroke="#666" stroke-width="1.4" />
<line x1="455.9" y1="1336" x2="455.9" y2="1331" stroke="#666" stroke-width="1.4" />
<line x1="569.7" y1="1336" x2="569.7" y2="1331" stroke="#666" stroke-width="1.4" />
<line x1="683.5" y1="1336" x2="683.5" y2="1331" stroke="#666" stroke-width="1.4" />
<text font-size="23" font-weight="bold" transform="translate(196.5 817.5) scale(0.980 1)">50 ppm</text>
<text font-size="23" font-weight="bold" transform="translate(334.5 817.5) scale(0.980 1)">50 ppm</text>
<text font-size="23" font-weight="bold" transform="translate(466 817.5) scale(0.980 1)">50 ppm</text>
<text font-size="23" font-weight="bold" transform="translate(605.5 817.5) scale(0.980 1)">50 ppm</text>
<text font-size="25" font-weight="bold" transform="translate(285 815) scale(0.997 1)">Air</text>
<text font-size="25" font-weight="bold" transform="translate(416 815) scale(0.997 1)">Air</text>
<text font-size="25" font-weight="bold" transform="translate(550 815) scale(0.997 1)">Air</text>
<text font-size="25" font-weight="bold" transform="translate(691 815) scale(0.997 1)">Air</text>
<line x1="450" y1="747.7" x2="466" y2="747.7" stroke="#bbb" stroke-width="1.5" />
<line x1="486" y1="747.7" x2="502" y2="747.7" stroke="#bbb" stroke-width="1.5" />
<rect x="471" y="742.5" width="10.5" height="10.5" fill="#000" rx="2"/>
<text font-size="25.2" font-weight="bold" transform="translate(509 756) scale(1.003 1)">50ppm Isopropanol</text>
<text font-size="33.5" font-weight="bold" text-anchor="middle" transform="translate(86 1050.5) rotate(-90)">Sensor Response</text>
<text font-size="31" font-weight="bold" text-anchor="middle" x="452" y="1404">Time (S)</text>
</g>
<!-- panel_e -->
<g filter="url(#blurE)">
<g clip-path="url(#clipE)">
<path d="M915,1185.9 916,1185.7 917,1184.5 918,1183 919,1181.5 920,1179.8 921,1178.1 922,1176.4 923,1174.9 924,1173.4 925,1172.1 926,1171 927,1170.1 928,1169.5 929,1169.1 930,1168.9 931,1169.4 932,1171.1 933,1174 934,1177.5 935,1181.4 936,1185.1 937,1185.9 938,1185.9 939,1185.9 940,1185.9 941,1185.9 942,1185.9 943,1184.5 944,1182.5 945,1180.3 946,1177.9 947,1175.5 948,1173.1 949,1170.9 950,1168.7 951,1166.8 952,1165.1 953,1163.8 954,1162.7 955,1162 956,1161.6 957,1161.9 958,1163.8 959,1167.3 960,1172.1 961,1177.6 962,1183.1 963,1185.9 964,1185.9 965,1185.9 966,1185.9 967,1185.9 968,1185.9 969,1185.9 970,1184.5 971,1182.1 972,1179.2 973,1176.2 974,1173.1 975,1169.9 976,1166.9 977,1164.1 978,1161.6 979,1159.3 980,1157.4 981,1156 982,1155 983,1154.4 984,1154.4 985,1156.5 986,1160.7 987,1166.6 988,1173.6 989,1180.8 990,1185.9 991,1185.9 992,1185.9 993,1185.9 994,1185.9 995,1185.9 996,1185 997,1182 998,1178.4 999,1174.5 1000,1170.4 1001,1166.4 1002,1162.4 1003,1158.6 1004,1155.1 1005,1152.1 1006,1149.4 1007,1147.3 1008,1145.8 1009,1144.9 1010,1144.6 1011,1146.2 1012,1150.8 1013,1157.9 1014,1166.7 1015,1176.2 1016,1184.8 1017,1185.9 1018,1185.9 1019,1185.9 1020,1185.9 1021,1185.9 1022,1182.9 1023,1178.7 1024,1174.1 1025,1169.1 1026,1164 1027,1159 1028,1154.2 1029,1149.8 1030,1145.7 1031,1142.2 1032,1139.3 1033,1137.1 1034,1135.6 1035,1134.9 1036,1135.5 1037,1139.5 1038,1147 1039,1157.1 1040,1168.6 1041,1180.1 1042,1185.9 1043,1185.9 1044,1185.9 1045,1185.9 1046,1185.9 1047,1184.2 1048,1179.9 1049,1174.8 1050,1169.3 1051,1163.5 1052,1157.8 1053,1152.2 1054,1146.9 1055,1142 1056,1137.7 1057,1134.1 1058,1131.2 1059,1129.1 1060,1127.9 1061,1127.6 1062,1130.3 1063,1137.1 1064,1147.4 1065,1160.1 1066,1173.5 1067,1185.2 1068,1185.9 1069,1185.9 1070,1185.9 1071,1185.9 1072,1185.9 1073,1185.2 1074,1180.6 1075,1174.6 1076,1168.1 1077,1161.2 1078,1154.2 1079,1147.3 1080,1140.8 1081,1134.7 1082,1129.3 1083,1124.7 1084,1120.9 1085,1118 1086,1116.2 1087,1115.4 1088,1117 1089,1123.7 1090,1134.9 1091,1149.4 1092,1165.6 1093,1181 1094,1185.9 1095,1185.9 1096,1185.9 1097,1185.9 1098,1185.9 1099,1184.6 1100,1179.1 1101,1172.3 1102,1164.8 1103,1156.9 1104,1148.9 1105,1141.2 1106,1133.8 1107,1127 1108,1120.9 1109,1115.7 1110,1111.5 1111,1108.4 1112,1106.4 1113,1105.7 1114,1108.1 1115,1116.3 1116,1129.5 1117,1146.3 1118,1164.8 1119,1181.9 1120,1185.9 1121,1185.9 1122,1185.9 1123,1185.9 1124,1185.9 1125,1181.1 1126,1173.6 1127,1165 1128,1155.8 1129,1146.4 1130,1137.1 1131,1128.2 1132,1119.8 1133,1112.2 1134,1105.6 1135,1100 1136,1095.8 1137,1092.8 1138,1091.3 1139,1091.7 1140,1098.4 1141,1111.5 1142,1129.8 1143,1151 1144,1172.5 1145,1185.9 1146,1185.9 1147,1185.9 1148,1185.9 1149,1185.9 1150,1185.9 1151,1182.8 1152,1175 1153,1165.6 1154,1155.4 1155,1144.9 1156,1134.3 1157,1124.1 1158,1114.4 1159,1105.5 1160,1097.6 1161,1090.9 1162,1085.6 1163,1081.8 1164,1079.5 1165,1078.9 1166,1083.8 1167,1096.4 1168,1115.3 1169,1138.4 1170,1163 1171,1184.5 1172,1185.9 1173,1185.9 1174,1185.9 1175,1185.9 1176,1185.9 1177,1184.7 1178,1176.5 1179,1166.1 1180,1154.6 1181,1142.4 1182,1130.1 1183,1118.1 1184,1106.6 1185,1095.9 1186,1086.4 1187,1078.2 1188,1071.5 1189,1066.5 1190,1063.3 1191,1061.9 1192,1064.7 1193,1076.4 1194,1096.1 1195,1121.6 1196,1150 1197,1177.1 1198,1185.9 1199,1185.9 1200,1185.9 1201,1185.9 1202,1185.9 1203,1175 1204,1162.8 1205,1149.2 1206,1134.9 1207,1120.5 1208,1106.3 1209,1092.8 1210,1080.2 1211,1069 1212,1059.3 1213,1051.4 1214,1045.5 1215,1041.7 1216,1040 1217,1043.2 1218,1056.9 1219,1079.9 1220,1109.8 1221,1143.2 1222,1175.1 1223,1185.9 1224,1185.9 1225,1185.9 1226,1185.9 1227,1185.9 1228,1180.7 1229,1171.2 1230,1160.1 1231,1148.1 1232,1135.9 1233,1123.7 1234,1111.9 1235,1100.8 1236,1090.7 1237,1081.8 1238,1074.4 1239,1068.6 1240,1064.5 1241,1062.3 1242,1062.3 1243,1069.9 1244,1086.1 1245,1109.2 1246,1136.6 1247,1165 1248,1185.9 1249,1185.9 1250,1185.9 1251,1185.9 1252,1185.9 1253,1185.9 1254,1183.7 1255,1176.3 1256,1167.3 1257,1157.4 1258,1147.1 1259,1136.8 1260,1126.7 1261,1117.1 1262,1108.3 1263,1100.5 1264,1093.8 1265,1088.5 1266,1084.6 1267,1082.1 1268,1081.3 1269,1085.1 1270,1096.5 1271,1114.2 1272,1136.5 1273,1160.5 1274,1182.4 1275,1185.9 1276,1185.9 1277,1185.9 1278,1185.9 1279,1185.9 1280,1180.6 1281,1173.2 1282,1164.8 1283,1155.8 1284,1146.6 1285,1137.6 1286,1128.9 1287,1120.8 1288,1113.5 1289,1107.1 1290,1101.8 1291,1097.7 1292,1095 1293,1093.6 1294,1094.5 1295,1101.6 1296,1114.9 1297,1133 1298,1153.9 1299,1174.7 1300,1185.9 1301,1185.9 1302,1185.9 1303,1185.9 1304,1185.9 1305,1185.6 1306,1180.7 1307,1174.1 1308,1166.7 1309,1158.9 1310,1150.9 1311,1143.1 1312,1135.6 1313,1128.6 1314,1122.4 1315,1116.9 1316,1112.4 1317,1109 1318,1106.8 1319,1105.7 1320,1106.9 1321,1113.7 1322,1125.8 1323,1141.8 1324,1160.1 1325,1178 1326,1185.9 1327,1185.9 1328,1185.9 1329,1185.9 1330,1185.9 1331,1185.9 1332,1183.1 1333,1177.8 1334,1171.8 1335,1165.2 1336,1158.5 1337,1151.8 1338,1145.3 1339,1139.2 1340,1133.7 1341,1128.8 1342,1124.7 1343,1121.5 1344,1119.3 1345,1118.1 1346,1118.1 1347,1122.2 1348,1131.1 1349,1143.7 1350,1158.8 1351,1174.4 1352,1185.9 1353,1185.9 1354,1185.9 1355,1185.9 1356,1185.9 1357,1185.1 1358,1181.2 1359,1176.2 1360,1170.7 1361,1165 1362,1159.2 1363,1153.6 1364,1148.2 1365,1143.2 1366,1138.8 1367,1135 1368,1131.9 1369,1129.6 1370,1128.1 1371,1127.6 1372,1129.2 1373,1135 1374,1144.5 1375,1156.7 1376,1170.1 1377,1182.6 1378,1185.9 1379,1185.9 1380,1185.9 1381,1185.9 1382,1185.9 1383,1182 1384,1177.9 1385,1173.3 1386,1168.6 1387,1163.8 1388,1159 1389,1154.5 1390,1150.4 1391,1146.7 1392,1143.5 1393,1140.9 1394,1139 1395,1137.8 1396,1137.3 1397,1138.6 1398,1143.4 1399,1151.3 1400,1161.4 1401,1172.6 1402,1183 1403,1185.9 1404,1185.9 1405,1185.9 1406,1185.9 1407,1185.9 1408,1185.9 1409,1183.6 1410,1180.3 1411,1176.5 1412,1172.5 1413,1168.4 1414,1164.4 1415,1160.5 1416,1156.9 1417,1153.6 1418,1150.7 1419,1148.3 1420,1146.5 1421,1145.3 1422,1144.6 1423,1145 1424,1148.1 1425,1154 1426,1162.1 1427,1171.4 1428,1180.7 1429,1185.9 1430,1185.9 1431,1185.9 1432,1185.9 1433,1185.9 1434,1183.1 1435,1180.4 1436,1177.5 1437,1174.3 1438,1171.2 1439,1168.2 1440,1165.3 1441,1162.6 1442,1160.2 1443,1158.2 1444,1156.5 1445,1155.3 1446,1154.6 1447,1154.3 1448,1155.4 1449,1158.7 1450,1164 1451,1170.7 1452,1177.9 1453,1184.6 1454,1185.9 1455,1185.9 1456,1185.9 1457,1185.9 1458,1185.9 1459,1183.8 1460,1181.7 1461,1179.4 1462,1177.1 1463,1174.6 1464,1172.3 1465,1170.1 1466,1168 1467,1166.2 1468,1164.6 1469,1163.3 1470,1162.4 1471,1161.8 1472,1161.6 1473,1162.4 1474,1164.9 1475,1169 1476,1174.1 1477,1179.7 1478,1184.9 1479,1185.9 1480,1185.9 1481,1185.9 1482,1185.9 1483,1185.9 1484,1185 1485,1183.7 1486,1182.1 1487,1180.5 1488,1178.8 1489,1177.1 1490,1175.5 1491,1174 1492,1172.7 1493,1171.5 1494,1170.5 1495,1169.7 1496,1169.2 1497,1168.9 1498,1169 1499,1170.3 1500,1172.7 1501,1176 1502,1179.8 1503,1183.6 1504,1185.9 1505,1185.9 1506,1185.9 1507,1185.9 1508,1185.9 1509,1185.9" fill="none" stroke="#0c4cf0" stroke-width="6.6" stroke-linejoin="round"/>
<path d="M915,1198.1 916,1198.2 917,1198.3 918,1198.5 919,1198.8 920,1199.1 921,1199.5 922,1199.9 923,1200.4 924,1201 925,1201.6 926,1202.2 927,1202.8 928,1203.5 929,1204.2 930,1204.9 931,1205 932,1203.9 933,1202.7 934,1201.7 935,1200.7 936,1199.9 937,1199.2 938,1198.7 939,1198.3 940,1198.1 941,1198.1 942,1198.2 943,1198.4 944,1198.9 945,1199.4 946,1200.1 947,1201 948,1202 949,1203.1 950,1204.4 951,1205.7 952,1207.1 953,1208.6 954,1210.2 955,1211.8 956,1213.5 957,1215.1 958,1212.4 959,1209.8 960,1207.3 961,1205 962,1202.9 963,1201.2 964,1199.8 965,1198.8 966,1198.3 967,1198.1 968,1198.1 969,1198.2 970,1198.5 971,1198.9 972,1199.6 973,1200.5 974,1201.6 975,1202.8 976,1204.2 977,1205.8 978,1207.5 979,1209.3 980,1211.2 981,1213.2 982,1215.3 983,1217.4 984,1219.5 985,1217.2 986,1213.8 987,1210.6 988,1207.5 989,1204.8 990,1202.5 991,1200.6 992,1199.3 993,1198.4 994,1198.1 995,1198.1 996,1198.5 997,1199.1 998,1200.1 999,1201.4 1000,1202.9 1001,1204.8 1002,1206.9 1003,1209.3 1004,1211.8 1005,1214.6 1006,1217.5 1007,1220.6 1008,1223.8 1009,1227.1 1010,1230.4 1011,1229.7 1012,1224.3 1013,1219.1 1014,1214.3 1015,1209.9 1016,1206.1 1017,1202.9 1018,1200.5 1019,1198.9 1020,1198.2 1021,1198.3 1022,1198.9 1023,1199.8 1024,1201.1 1025,1202.8 1026,1204.7 1027,1207 1028,1209.6 1029,1212.4 1030,1215.5 1031,1218.8 1032,1222.2 1033,1225.8 1034,1229.5 1035,1233.3 1036,1237 1037,1230.8 1038,1224.8 1039,1219 1040,1213.8 1041,1209.1 1042,1205.2 1043,1202 1044,1199.7 1045,1198.4 1046,1198.2 1047,1198.7 1048,1199.6 1049,1201 1050,1202.7 1051,1204.9 1052,1207.4 1053,1210.3 1054,1213.6 1055,1217.1 1056,1220.8 1057,1224.9 1058,1229 1059,1233.4 1060,1237.8 1061,1242.3 1062,1240.2 1063,1233 1064,1226 1065,1219.5 1066,1213.6 1067,1208.5 1068,1204.3 1069,1201.1 1070,1199.1 1071,1198.1 1072,1198.1 1073,1198.5 1074,1199.5 1075,1201 1076,1202.9 1077,1205.4 1078,1208.3 1079,1211.7 1080,1215.5 1081,1219.6 1082,1224.1 1083,1228.9 1084,1233.9 1085,1239.1 1086,1244.4 1087,1249.8 1088,1252 1089,1243.2 1090,1234.6 1091,1226.5 1092,1219.1 1093,1212.6 1094,1207.2 1095,1202.9 1096,1199.9 1097,1198.4 1098,1198.1 1099,1198.7 1100,1199.8 1101,1201.5 1102,1203.8 1103,1206.7 1104,1210.1 1105,1213.9 1106,1218.2 1107,1223 1108,1228.1 1109,1233.5 1110,1239.1 1111,1245 1112,1251.1 1113,1257.2 1114,1258 1115,1248 1116,1238.3 1117,1229.3 1118,1221 1119,1213.8 1120,1207.7 1121,1203.1 1122,1199.9 1123,1198.3 1124,1198.4 1125,1199.4 1126,1201 1127,1203.3 1128,1206.2 1129,1209.7 1130,1213.7 1131,1218.3 1132,1223.4 1133,1228.9 1134,1234.8 1135,1241 1136,1247.5 1137,1254.1 1138,1260.9 1139,1267.8 1140,1258.8 1141,1247.8 1142,1237.3 1143,1227.7 1144,1219.1 1145,1211.7 1146,1205.8 1147,1201.5 1148,1198.9 1149,1198.1 1150,1198.2 1151,1199.1 1152,1200.7 1153,1203 1154,1206.1 1155,1209.9 1156,1214.3 1157,1219.3 1158,1224.9 1159,1231 1160,1237.6 1161,1244.5 1162,1251.8 1163,1259.3 1164,1267 1165,1274.9 1166,1271.3 1167,1258.7 1168,1246.6 1169,1235.3 1170,1225 1171,1216.2 1172,1208.9 1173,1203.4 1174,1199.8 1175,1198.2 1176,1198.1 1177,1198.8 1178,1200.4 1179,1202.8 1180,1206.1 1181,1210.1 1182,1215 1183,1220.5 1184,1226.8 1185,1233.6 1186,1241 1187,1248.9 1188,1257.1 1189,1265.7 1190,1274.5 1191,1283.5 1192,1287.3 1193,1272.6 1194,1258.5 1195,1245.1 1196,1232.9 1197,1222.1 1198,1213.1 1199,1206.1 1200,1201.2 1201,1198.5 1202,1198.9 1203,1200.5 1204,1203.1 1205,1206.6 1206,1211 1207,1216.2 1208,1222.2 1209,1228.9 1210,1236.3 1211,1244.3 1212,1252.8 1213,1261.7 1214,1270.9 1215,1280.4 1216,1290.1 1217,1294.6 1218,1278.7 1219,1263.4 1220,1249 1221,1235.8 1222,1224.1 1223,1214.4 1224,1206.8 1225,1201.5 1226,1198.6 1227,1198.4 1228,1199.5 1229,1201.6 1230,1204.4 1231,1208.1 1232,1212.6 1233,1217.9 1234,1223.8 1235,1230.4 1236,1237.5 1237,1245.2 1238,1253.2 1239,1261.7 1240,1270.4 1241,1279.3 1242,1288.3 1243,1279.4 1244,1265 1245,1251.2 1246,1238.4 1247,1226.9 1248,1217.1 1249,1209.1 1250,1203.2 1251,1199.5 1252,1198.1 1253,1198.2 1254,1198.9 1255,1200.4 1256,1202.7 1257,1205.7 1258,1209.4 1259,1213.7 1260,1218.6 1261,1224.2 1262,1230.2 1263,1236.7 1264,1243.6 1265,1250.9 1266,1258.4 1267,1266.1 1268,1273.9 1269,1272.9 1270,1260.3 1271,1248.1 1272,1236.6 1273,1226.3 1274,1217.2 1275,1209.7 1276,1204 1277,1200.1 1278,1198.3 1279,1198.5 1280,1199.5 1281,1201.2 1282,1203.5 1283,1206.5 1284,1210 1285,1214.1 1286,1218.8 1287,1223.9 1288,1229.4 1289,1235.3 1290,1241.6 1291,1248.1 1292,1254.7 1293,1261.6 1294,1268.5 1295,1257.8 1296,1246.8 1297,1236.4 1298,1226.9 1299,1218.3 1300,1211.1 1301,1205.4 1302,1201.2 1303,1198.8 1304,1198.1 1305,1198.5 1306,1199.4 1307,1200.9 1308,1203 1309,1205.6 1310,1208.7 1311,1212.3 1312,1216.4 1313,1220.8 1314,1225.6 1315,1230.8 1316,1236.2 1317,1241.8 1318,1247.6 1319,1253.5 1320,1258.1 1321,1248.5 1322,1239.1 1323,1230.2 1324,1222 1325,1214.8 1326,1208.7 1327,1203.9 1328,1200.5 1329,1198.5 1330,1198.1 1331,1198.3 1332,1198.9 1333,1200 1334,1201.6 1335,1203.6 1336,1206.1 1337,1209 1338,1212.3 1339,1215.9 1340,1219.9 1341,1224.1 1342,1228.6 1343,1233.2 1344,1238 1345,1243 1346,1247.9 1347,1243.1 1348,1235.1 1349,1227.5 1350,1220.4 1351,1214.1 1352,1208.6 1353,1204.2 1354,1200.9 1355,1198.9 1356,1198.1 1357,1198.5 1358,1199.3 1359,1200.4 1360,1202 1361,1204 1362,1206.3 1363,1208.9 1364,1211.9 1365,1215.2 1366,1218.7 1367,1222.4 1368,1226.4 1369,1230.4 1370,1234.6 1371,1238.9 1372,1239.8 1373,1232.9 1374,1226.2 1375,1219.9 1376,1214.1 1377,1209.1 1378,1204.9 1379,1201.7 1380,1199.4 1381,1198.3 1382,1198.4 1383,1199 1384,1200 1385,1201.3 1386,1203 1387,1204.9 1388,1207.1 1389,1209.6 1390,1212.3 1391,1215.2 1392,1218.3 1393,1221.6 1394,1225 1395,1228.5 1396,1232 1397,1232.9 1398,1227.2 1399,1221.6 1400,1216.3 1401,1211.5 1402,1207.3 1403,1203.8 1404,1201.1 1405,1199.2 1406,1198.2 1407,1198.1 1408,1198.2 1409,1198.7 1410,1199.4 1411,1200.3 1412,1201.5 1413,1203 1414,1204.7 1415,1206.6 1416,1208.7 1417,1211 1418,1213.5 1419,1216 1420,1218.7 1421,1221.5 1422,1224.3 1423,1227.2 1424,1222.9 1425,1218.3 1426,1214 1427,1210.1 1428,1206.5 1429,1203.5 1430,1201.1 1431,1199.4 1432,1198.4 1433,1198.3 1434,1198.7 1435,1199.3 1436,1200.1 1437,1201.1 1438,1202.3 1439,1203.6 1440,1205.1 1441,1206.8 1442,1208.6 1443,1210.4 1444,1212.4 1445,1214.4 1446,1216.5 1447,1218.7 1448,1218.7 1449,1215.2 1450,1211.9 1451,1208.7 1452,1205.9 1453,1203.4 1454,1201.4 1455,1199.8 1456,1198.7 1457,1198.2 1458,1198.3 1459,1198.6 1460,1199 1461,1199.7 1462,1200.4 1463,1201.3 1464,1202.4 1465,1203.6 1466,1204.8 1467,1206.2 1468,1207.7 1469,1209.2 1470,1210.8 1471,1212.4 1472,1214.1 1473,1214.1 1474,1211.4 1475,1208.9 1476,1206.4 1477,1204.2 1478,1202.3 1479,1200.7 1480,1199.4 1481,1198.6 1482,1198.1 1483,1198.2 1484,1198.3 1485,1198.6 1486,1199 1487,1199.5 1488,1200.1 1489,1200.8 1490,1201.6 1491,1202.5 1492,1203.4 1493,1204.5 1494,1205.5 1495,1206.6 1496,1207.8 1497,1209 1498,1210.2 1499,1208.5 1500,1206.6 1501,1204.8 1502,1203.1 1503,1201.7 1504,1200.4 1505,1199.4 1506,1198.7 1507,1198.2 1508,1198.1 1509,1198.3" fill="none" stroke="#3f7410" stroke-width="6.2" stroke-linejoin="round"/>
<path d="M915,1198.1 916,1198.2 917,1198.3 918,1198.5 919,1198.8 920,1199.1 921,1199.5 922,1199.9 923,1200.4 924,1201 925,1201.6 926,1202.2 927,1202.8 928,1203.5 929,1204.2 930,1204.9 931,1205 932,1203.9 933,1202.7 934,1201.7 935,1200.7 936,1199.9 937,1199.2 938,1198.7 939,1198.3 940,1198.1 941,1198.1 942,1198.2 943,1198.4 944,1198.9 945,1199.4 946,1200.1 947,1201 948,1202 949,1203.1 950,1204.4 951,1205.7 952,1207.1 953,1208.6 954,1210.2 955,1211.8 956,1213.5 957,1215.1 958,1212.4 959,1209.8 960,1207.3 961,1205 962,1202.9 963,1201.2 964,1199.8 965,1198.8 966,1198.3 967,1198.1 968,1198.1 969,1198.2 970,1198.5 971,1198.9 972,1199.6 973,1200.5 974,1201.6 975,1202.8 976,1204.2 977,1205.8 978,1207.5 979,1209.3 980,1211.2 981,1213.2 982,1215.3 983,1217.4 984,1219.5 985,1217.2 986,1213.8 987,1210.6 988,1207.5 989,1204.8 990,1202.5 991,1200.6 992,1199.3 993,1198.4 994,1198.1 995,1198.1 996,1198.5 997,1199.1 998,1200.1 999,1201.4 1000,1202.9 1001,1204.8 1002,1206.9 1003,1209.3 1004,1211.8 1005,1214.6 1006,1217.5 1007,1220.6 1008,1223.8 1009,1227.1 1010,1230.4 1011,1229.7 1012,1224.3 1013,1219.1 1014,1214.3 1015,1209.9 1016,1206.1 1017,1202.9 1018,1200.5 1019,1198.9 1020,1198.2 1021,1198.3 1022,1198.9 1023,1199.8 1024,1201.1 1025,1202.8 1026,1204.7 1027,1207 1028,1209.6 1029,1212.4 1030,1215.5 1031,1218.8 1032,1222.2 1033,1225.8 1034,1229.5 1035,1233.3 1036,1237 1037,1230.8 1038,1224.8 1039,1219 1040,1213.8 1041,1209.1 1042,1205.2 1043,1202 1044,1199.7 1045,1198.4 1046,1198.2 1047,1198.7 1048,1199.6 1049,1201 1050,1202.7 1051,1204.9 1052,1207.4 1053,1210.3 1054,1213.6 1055,1217.1 1056,1220.8 1057,1224.9 1058,1229 1059,1233.4 1060,1237.8 1061,1242.3 1062,1240.2 1063,1233 1064,1226 1065,1219.5 1066,1213.6 1067,1208.5 1068,1204.3 1069,1201.1 1070,1199.1 1071,1198.1 1072,1198.1 1073,1198.5 1074,1199.5 1075,1201 1076,1202.9 1077,1205.4 1078,1208.3 1079,1211.7 1080,1215.5 1081,1219.6 1082,1224.1 1083,1228.9 1084,1233.9 1085,1239.1 1086,1244.4 1087,1249.8 1088,1252 1089,1243.2 1090,1234.6 1091,1226.5 1092,1219.1 1093,1212.6 1094,1207.2 1095,1202.9 1096,1199.9 1097,1198.4 1098,1198.1 1099,1198.7 1100,1199.8 1101,1201.5 1102,1203.8 1103,1206.7 1104,1210.1 1105,1213.9 1106,1218.2 1107,1223 1108,1228.1 1109,1233.5 1110,1239.1 1111,1245 1112,1251.1 1113,1257.2 1114,1258 1115,1248 1116,1238.3 1117,1229.3 1118,1221 1119,1213.8 1120,1207.7 1121,1203.1 1122,1199.9 1123,1198.3 1124,1198.4 1125,1199.4 1126,1201 1127,1203.3 1128,1206.2 1129,1209.7 1130,1213.7 1131,1218.3 1132,1223.4 1133,1228.9 1134,1234.8 1135,1241 1136,1247.5 1137,1254.1 1138,1260.9 1139,1267.8 1140,1258.8 1141,1247.8 1142,1237.3 1143,1227.7 1144,1219.1 1145,1211.7 1146,1205.8 1147,1201.5 1148,1198.9 1149,1198.1 1150,1198.2 1151,1199.1 1152,1200.7 1153,1203 1154,1206.1 1155,1209.9 1156,1214.3 1157,1219.3 1158,1224.9 1159,1231 1160,1237.6 1161,1244.5 1162,1251.8 1163,1259.3 1164,1267 1165,1274.9 1166,1271.3 1167,1258.7 1168,1246.6 1169,1235.3 1170,1225 1171,1216.2 1172,1208.9 1173,1203.4 1174,1199.8 1175,1198.2 1176,1198.1 1177,1198.8 1178,1200.4 1179,1202.8 1180,1206.1 1181,1210.1 1182,1215 1183,1220.5 1184,1226.8 1185,1233.6 1186,1241 1187,1248.9 1188,1257.1 1189,1265.7 1190,1274.5 1191,1283.5 1192,1287.3 1193,1272.6 1194,1258.5 1195,1245.1 1196,1232.9 1197,1222.1 1198,1213.1 1199,1206.1 1200,1201.2 1201,1198.5 1202,1198.9 1203,1200.5 1204,1203.1 1205,1206.6 1206,1211 1207,1216.2 1208,1222.2 1209,1228.9 1210,1236.3 1211,1244.3 1212,1252.8 1213,1261.7 1214,1270.9 1215,1280.4 1216,1290.1 1217,1294.6 1218,1278.7 1219,1263.4 1220,1249 1221,1235.8 1222,1224.1 1223,1214.4 1224,1206.8 1225,1201.5 1226,1198.6 1227,1198.4 1228,1199.5 1229,1201.6 1230,1204.4 1231,1208.1 1232,1212.6 1233,1217.9 1234,1223.8 1235,1230.4 1236,1237.5 1237,1245.2 1238,1253.2 1239,1261.7 1240,1270.4 1241,1279.3 1242,1288.3 1243,1279.4 1244,1265 1245,1251.2 1246,1238.4 1247,1226.9 1248,1217.1 1249,1209.1 1250,1203.2 1251,1199.5 1252,1198.1 1253,1198.2 1254,1198.9 1255,1200.4 1256,1202.7 1257,1205.7 1258,1209.4 1259,1213.7 1260,1218.6 1261,1224.2 1262,1230.2 1263,1236.7 1264,1243.6 1265,1250.9 1266,1258.4 1267,1266.1 1268,1273.9 1269,1272.9 1270,1260.3 1271,1248.1 1272,1236.6 1273,1226.3 1274,1217.2 1275,1209.7 1276,1204 1277,1200.1 1278,1198.3 1279,1198.5 1280,1199.5 1281,1201.2 1282,1203.5 1283,1206.5 1284,1210 1285,1214.1 1286,1218.8 1287,1223.9 1288,1229.4 1289,1235.3 1290,1241.6 1291,1248.1 1292,1254.7 1293,1261.6 1294,1268.5 1295,1257.8 1296,1246.8 1297,1236.4 1298,1226.9 1299,1218.3 1300,1211.1 1301,1205.4 1302,1201.2 1303,1198.8 1304,1198.1 1305,1198.5 1306,1199.4 1307,1200.9 1308,1203 1309,1205.6 1310,1208.7 1311,1212.3 1312,1216.4 1313,1220.8 1314,1225.6 1315,1230.8 1316,1236.2 1317,1241.8 1318,1247.6 1319,1253.5 1320,1258.1 1321,1248.5 1322,1239.1 1323,1230.2 1324,1222 1325,1214.8 1326,1208.7 1327,1203.9 1328,1200.5 1329,1198.5 1330,1198.1 1331,1198.3 1332,1198.9 1333,1200 1334,1201.6 1335,1203.6 1336,1206.1 1337,1209 1338,1212.3 1339,1215.9 1340,1219.9 1341,1224.1 1342,1228.6 1343,1233.2 1344,1238 1345,1243 1346,1247.9 1347,1243.1 1348,1235.1 1349,1227.5 1350,1220.4 1351,1214.1 1352,1208.6 1353,1204.2 1354,1200.9 1355,1198.9 1356,1198.1 1357,1198.5 1358,1199.3 1359,1200.4 1360,1202 1361,1204 1362,1206.3 1363,1208.9 1364,1211.9 1365,1215.2 1366,1218.7 1367,1222.4 1368,1226.4 1369,1230.4 1370,1234.6 1371,1238.9 1372,1239.8 1373,1232.9 1374,1226.2 1375,1219.9 1376,1214.1 1377,1209.1 1378,1204.9 1379,1201.7 1380,1199.4 1381,1198.3 1382,1198.4 1383,1199 1384,1200 1385,1201.3 1386,1203 1387,1204.9 1388,1207.1 1389,1209.6 1390,1212.3 1391,1215.2 1392,1218.3 1393,1221.6 1394,1225 1395,1228.5 1396,1232 1397,1232.9 1398,1227.2 1399,1221.6 1400,1216.3 1401,1211.5 1402,1207.3 1403,1203.8 1404,1201.1 1405,1199.2 1406,1198.2 1407,1198.1 1408,1198.2 1409,1198.7 1410,1199.4 1411,1200.3 1412,1201.5 1413,1203 1414,1204.7 1415,1206.6 1416,1208.7 1417,1211 1418,1213.5 1419,1216 1420,1218.7 1421,1221.5 1422,1224.3 1423,1227.2 1424,1222.9 1425,1218.3 1426,1214 1427,1210.1 1428,1206.5 1429,1203.5 1430,1201.1 1431,1199.4 1432,1198.4 1433,1198.3 1434,1198.7 1435,1199.3 1436,1200.1 1437,1201.1 1438,1202.3 1439,1203.6 1440,1205.1 1441,1206.8 1442,1208.6 1443,1210.4 1444,1212.4 1445,1214.4 1446,1216.5 1447,1218.7 1448,1218.7 1449,1215.2 1450,1211.9 1451,1208.7 1452,1205.9 1453,1203.4 1454,1201.4 1455,1199.8 1456,1198.7 1457,1198.2 1458,1198.3 1459,1198.6 1460,1199 1461,1199.7 1462,1200.4 1463,1201.3 1464,1202.4 1465,1203.6 1466,1204.8 1467,1206.2 1468,1207.7 1469,1209.2 1470,1210.8 1471,1212.4 1472,1214.1 1473,1214.1 1474,1211.4 1475,1208.9 1476,1206.4 1477,1204.2 1478,1202.3 1479,1200.7 1480,1199.4 1481,1198.6 1482,1198.1 1483,1198.2 1484,1198.3 1485,1198.6 1486,1199 1487,1199.5 1488,1200.1 1489,1200.8 1490,1201.6 1491,1202.5 1492,1203.4 1493,1204.5 1494,1205.5 1495,1206.6 1496,1207.8 1497,1209 1498,1210.2 1499,1208.5 1500,1206.6 1501,1204.8 1502,1203.1 1503,1201.7 1504,1200.4 1505,1199.4 1506,1198.7 1507,1198.2 1508,1198.1 1509,1198.3" fill="none" stroke="#a8c070" stroke-width="1" stroke-linejoin="round" opacity=".55"/>
<path d="M915,1193.7 916,1193.7 917,1193.8 918,1193.8 919,1193.9 920,1194 921,1194.1 922,1194.2 923,1194.3 924,1194.5 925,1194.6 926,1194.8 927,1195 928,1195.2 929,1195.3 930,1195.5 931,1195.6 932,1195.3 933,1195 934,1194.7 935,1194.4 936,1194.2 937,1194 938,1193.9 939,1193.8 940,1193.7 941,1193.7 942,1193.7 943,1193.8 944,1193.9 945,1194.1 946,1194.2 947,1194.5 948,1194.7 949,1195 950,1195.3 951,1195.7 952,1196 953,1196.4 954,1196.8 955,1197.2 956,1197.7 957,1198.1 958,1197.4 959,1196.7 960,1196.1 961,1195.5 962,1195 963,1194.5 964,1194.2 965,1193.9 966,1193.8 967,1193.7 968,1193.7 969,1193.7 970,1193.8 971,1194 972,1194.2 973,1194.5 974,1194.8 975,1195.2 976,1195.6 977,1196.1 978,1196.6 979,1197.2 980,1197.8 981,1198.4 982,1199.1 983,1199.7 984,1200.4 985,1199.7 986,1198.6 987,1197.6 988,1196.7 989,1195.8 990,1195.1 991,1194.5 992,1194.1 993,1193.8 994,1193.7 995,1193.7 996,1193.8 997,1194 998,1194.3 999,1194.6 1000,1195 1001,1195.5 1002,1196.1 1003,1196.7 1004,1197.4 1005,1198.2 1006,1199 1007,1199.8 1008,1200.7 1009,1201.6 1010,1202.5 1011,1202.3 1012,1200.8 1013,1199.4 1014,1198.1 1015,1196.9 1016,1195.9 1017,1195 1018,1194.4 1019,1193.9 1020,1193.7 1021,1193.8 1022,1194 1023,1194.2 1024,1194.6 1025,1195.1 1026,1195.7 1027,1196.4 1028,1197.2 1029,1198 1030,1198.9 1031,1199.9 1032,1201 1033,1202 1034,1203.1 1035,1204.3 1036,1205.4 1037,1203.5 1038,1201.7 1039,1200 1040,1198.4 1041,1197 1042,1195.8 1043,1194.9 1044,1194.2 1045,1193.8 1046,1193.7 1047,1193.9 1048,1194.2 1049,1194.6 1050,1195.1 1051,1195.8 1052,1196.6 1053,1197.5 1054,1198.4 1055,1199.5 1056,1200.7 1057,1201.9 1058,1203.2 1059,1204.5 1060,1205.8 1061,1207.2 1062,1206.6 1063,1204.4 1064,1202.2 1065,1200.2 1066,1198.4 1067,1196.9 1068,1195.6 1069,1194.6 1070,1194 1071,1193.7 1072,1193.7 1073,1193.9 1074,1194.2 1075,1194.7 1076,1195.4 1077,1196.2 1078,1197.2 1079,1198.3 1080,1199.6 1081,1201 1082,1202.5 1083,1204.1 1084,1205.8 1085,1207.6 1086,1209.4 1087,1211.3 1088,1212 1089,1209 1090,1206.1 1091,1203.4 1092,1200.8 1093,1198.6 1094,1196.8 1095,1195.3 1096,1194.3 1097,1193.8 1098,1193.7 1099,1193.9 1100,1194.3 1101,1194.9 1102,1195.7 1103,1196.6 1104,1197.8 1105,1199.1 1106,1200.5 1107,1202.1 1108,1203.9 1109,1205.7 1110,1207.6 1111,1209.6 1112,1211.7 1113,1213.7 1114,1214 1115,1210.6 1116,1207.3 1117,1204.3 1118,1201.5 1119,1199 1120,1197 1121,1195.4 1122,1194.3 1123,1193.8 1124,1193.8 1125,1194.2 1126,1194.8 1127,1195.6 1128,1196.7 1129,1198 1130,1199.5 1131,1201.2 1132,1203.1 1133,1205.2 1134,1207.4 1135,1209.7 1136,1212.1 1137,1214.6 1138,1217.1 1139,1219.7 1140,1216.3 1141,1212.2 1142,1208.3 1143,1204.7 1144,1201.5 1145,1198.8 1146,1196.6 1147,1195 1148,1194 1149,1193.7 1150,1193.8 1151,1194.1 1152,1194.7 1153,1195.6 1154,1196.8 1155,1198.3 1156,1200 1157,1201.9 1158,1204.1 1159,1206.5 1160,1209 1161,1211.7 1162,1214.6 1163,1217.5 1164,1220.5 1165,1223.5 1166,1222.1 1167,1217.2 1168,1212.5 1169,1208.1 1170,1204.2 1171,1200.7 1172,1197.9 1173,1195.8 1174,1194.4 1175,1193.8 1176,1193.7 1177,1194 1178,1194.6 1179,1195.6 1180,1196.8 1181,1198.4 1182,1200.3 1183,1202.5 1184,1204.9 1185,1207.6 1186,1210.4 1187,1213.5 1188,1216.7 1189,1220.1 1190,1223.5 1191,1227 1192,1228.5 1193,1222.8 1194,1217.2 1195,1212 1196,1207.3 1197,1203.1 1198,1199.6 1199,1196.8 1200,1194.9 1201,1193.9 1202,1194 1203,1194.7 1204,1195.7 1205,1197 1206,1198.7 1207,1200.7 1208,1203 1209,1205.6 1210,1208.5 1211,1211.5 1212,1214.8 1213,1218.2 1214,1221.8 1215,1225.5 1216,1229.2 1217,1230.9 1218,1224.8 1219,1218.9 1220,1213.3 1221,1208.2 1222,1203.8 1223,1200 1224,1197.1 1225,1195 1226,1193.9 1227,1193.8 1228,1194.2 1229,1195 1230,1196 1231,1197.4 1232,1199 1233,1200.9 1234,1203.1 1235,1205.4 1236,1208 1237,1210.8 1238,1213.7 1239,1216.8 1240,1220 1241,1223.2 1242,1226.5 1243,1223.3 1244,1218 1245,1213 1246,1208.4 1247,1204.2 1248,1200.6 1249,1197.7 1250,1195.6 1251,1194.2 1252,1193.7 1253,1193.8 1254,1194 1255,1194.6 1256,1195.4 1257,1196.4 1258,1197.7 1259,1199.3 1260,1201.1 1261,1203 1262,1205.2 1263,1207.5 1264,1210 1265,1212.6 1266,1215.3 1267,1218 1268,1220.8 1269,1220.5 1270,1216 1271,1211.6 1272,1207.5 1273,1203.8 1274,1200.6 1275,1197.9 1276,1195.8 1277,1194.4 1278,1193.8 1279,1193.9 1280,1194.2 1281,1194.9 1282,1195.7 1283,1196.8 1284,1198.2 1285,1199.7 1286,1201.4 1287,1203.3 1288,1205.4 1289,1207.6 1290,1209.9 1291,1212.3 1292,1214.8 1293,1217.4 1294,1219.9 1295,1215.9 1296,1211.9 1297,1208 1298,1204.4 1299,1201.3 1300,1198.6 1301,1196.4 1302,1194.9 1303,1194 1304,1193.7 1305,1193.9 1306,1194.2 1307,1194.7 1308,1195.4 1309,1196.4 1310,1197.5 1311,1198.7 1312,1200.1 1313,1201.7 1314,1203.4 1315,1205.2 1316,1207.1 1317,1209.1 1318,1211.1 1319,1213.2 1320,1214.9 1321,1211.5 1322,1208.1 1323,1205 1324,1202.1 1325,1199.6 1326,1197.5 1327,1195.8 1328,1194.6 1329,1193.9 1330,1193.7 1331,1193.8 1332,1194 1333,1194.4 1334,1195 1335,1195.8 1336,1196.7 1337,1197.8 1338,1199 1339,1200.3 1340,1201.8 1341,1203.4 1342,1205 1343,1206.8 1344,1208.6 1345,1210.4 1346,1212.2 1347,1210.4 1348,1207.5 1349,1204.6 1350,1202 1351,1199.6 1352,1197.6 1353,1196 1354,1194.8 1355,1194 1356,1193.7 1357,1193.9 1358,1194.2 1359,1194.6 1360,1195.2 1361,1195.9 1362,1196.8 1363,1197.8 1364,1198.9 1365,1200.2 1366,1201.5 1367,1202.9 1368,1204.4 1369,1205.9 1370,1207.5 1371,1209.1 1372,1209.5 1373,1206.9 1374,1204.3 1375,1202 1376,1199.8 1377,1197.9 1378,1196.3 1379,1195.1 1380,1194.2 1381,1193.8 1382,1193.8 1383,1194.1 1384,1194.5 1385,1195 1386,1195.6 1387,1196.3 1388,1197.2 1389,1198.2 1390,1199.2 1391,1200.3 1392,1201.5 1393,1202.8 1394,1204.1 1395,1205.5 1396,1206.8 1397,1207.2 1398,1205 1399,1202.8 1400,1200.8 1401,1198.9 1402,1197.3 1403,1195.9 1404,1194.9 1405,1194.2 1406,1193.8 1407,1193.7 1408,1193.8 1409,1193.9 1410,1194.2 1411,1194.6 1412,1195.1 1413,1195.7 1414,1196.4 1415,1197.1 1416,1198 1417,1198.9 1418,1199.9 1419,1200.9 1420,1202 1421,1203.1 1422,1204.2 1423,1205.3 1424,1203.6 1425,1201.8 1426,1200.1 1427,1198.5 1428,1197.1 1429,1195.9 1430,1194.9 1431,1194.2 1432,1193.8 1433,1193.8 1434,1194 1435,1194.2 1436,1194.6 1437,1195 1438,1195.5 1439,1196.1 1440,1196.7 1441,1197.4 1442,1198.1 1443,1198.9 1444,1199.8 1445,1200.6 1446,1201.5 1447,1202.4 1448,1202.4 1449,1200.9 1450,1199.5 1451,1198.2 1452,1197 1453,1196 1454,1195.1 1455,1194.4 1456,1194 1457,1193.7 1458,1193.8 1459,1193.9 1460,1194.1 1461,1194.3 1462,1194.7 1463,1195 1464,1195.4 1465,1195.9 1466,1196.4 1467,1197 1468,1197.5 1469,1198.2 1470,1198.8 1471,1199.4 1472,1200.1 1473,1200.1 1474,1199.1 1475,1198 1476,1197 1477,1196.2 1478,1195.4 1479,1194.7 1480,1194.2 1481,1193.9 1482,1193.7 1483,1193.7 1484,1193.8 1485,1193.9 1486,1194 1487,1194.2 1488,1194.4 1489,1194.7 1490,1195 1491,1195.3 1492,1195.6 1493,1196 1494,1196.4 1495,1196.8 1496,1197.2 1497,1197.6 1498,1198.1 1499,1197.5 1500,1196.8 1501,1196.1 1502,1195.5 1503,1195 1504,1194.6 1505,1194.2 1506,1193.9 1507,1193.8 1508,1193.7 1509,1193.8" fill="none" stroke="#000" stroke-width="5.4" stroke-linejoin="round"/>
<path d="M915,1177.6 916,1173.7 917,1170.4 918,1167.7 919,1165.5 920,1163.9 921,1162.8 922,1162.1 923,1161.7 924,1161.6 925,1161.6 926,1161.7 927,1162 928,1162.7 929,1163.7 930,1165.3 931,1167.4 932,1170 933,1173.3 934,1177.1 935,1181.3 936,1184 937,1184 938,1184 939,1184 940,1182.4 941,1174.6 942,1167.1 943,1160.5 944,1155 945,1150.7 946,1147.3 947,1144.9 948,1143.4 949,1142.5 950,1142.2 951,1142.1 952,1142.2 953,1142.7 954,1143.7 955,1145.4 956,1147.9 957,1151.5 958,1156.1 959,1161.8 960,1168.6 961,1176.3 962,1183.9 963,1184 964,1184 965,1184 966,1184 967,1183.7 968,1171.7 969,1159.6 970,1148.9 971,1139.9 972,1132.6 973,1127 974,1122.9 975,1120.2 976,1118.7 977,1118 978,1117.8 979,1117.9 980,1118.5 981,1119.8 982,1122.3 983,1126 984,1131.3 985,1138.2 986,1146.9 987,1157.3 988,1169.2 989,1181.6 990,1184 991,1184 992,1184 993,1184 994,1171.4 995,1152.2 996,1134.8 997,1119.9 998,1107.7 999,1098.1 1000,1091.1 1001,1086.2 1002,1083.3 1003,1081.8 1004,1081.3 1005,1081.4 1006,1081.9 1007,1083.6 1008,1086.8 1009,1091.9 1010,1099.3 1011,1109.2 1012,1121.7 1013,1137 1014,1154.7 1015,1174 1016,1184 1017,1184 1018,1184 1019,1179 1020,1154.7 1021,1131.5 1022,1111.2 1023,1094.3 1024,1080.8 1025,1070.5 1026,1063.2 1027,1058.4 1028,1055.8 1029,1054.7 1030,1054.6 1031,1054.9 1032,1056.2 1033,1059.3 1034,1064.6 1035,1072.6 1036,1083.6 1037,1097.9 1038,1115.6 1039,1136.6 1040,1160.3 1041,1183.7 1042,1184 1043,1184 1044,1184 1045,1162 1046,1132.9 1047,1106.8 1048,1084.5 1049,1066.3 1050,1052.2 1051,1041.8 1052,1034.7 1053,1030.4 1054,1028.4 1055,1027.8 1056,1027.9 1057,1028.8 1058,1031.6 1059,1036.7 1060,1044.8 1061,1056.4 1062,1071.8 1063,1091.3 1064,1114.9 1065,1142.2 1066,1171.6 1067,1184 1068,1184 1069,1184 1070,1184 1071,1168.9 1072,1132.6 1073,1098.9 1074,1069.8 1075,1045.7 1076,1026.6 1077,1012.3 1078,1002.3 1079,996 1080,992.6 1081,991.4 1082,991.3 1083,992 1084,994.5 1085,999.8 1086,1008.5 1087,1021.3 1088,1038.7 1089,1061.1 1090,1088.6 1091,1120.9 1092,1156.7 1093,1184 1094,1184 1095,1184 1096,1184 1097,1162.1 1098,1120.4 1099,1082.1 1100,1049.2 1101,1022.1 1102,1000.8 1103,984.8 1104,973.8 1105,966.9 1106,963.4 1107,962.2 1108,962.1 1109,963.1 1110,966.3 1111,972.8 1112,983.3 1113,998.6 1114,1019.3 1115,1045.7 1116,1077.9 1117,1115.6 1118,1157.2 1119,1184 1120,1184 1121,1184 1122,1179.7 1123,1133.2 1124,1087.6 1125,1047.5 1126,1013.8 1127,986.8 1128,966.1 1129,951.2 1130,941.3 1131,935.7 1132,933.3 1133,932.9 1134,933.3 1135,935.7 1136,941.2 1137,950.9 1138,965.7 1139,986.2 1140,1013.1 1141,1046.6 1142,1086.6 1143,1132.1 1144,1178.7 1145,1184 1146,1184 1147,1184 1148,1184 1149,1144.2 1150,1091 1151,1043.2 1152,1002.5 1153,969.3 1154,943.5 1155,924.5 1156,911.5 1157,903.7 1158,899.9 1159,898.9 1160,899 1161,900.8 1162,905.7 1163,915 1164,929.8 1165,950.9 1166,979 1167,1014.6 1168,1057.6 1169,1107.4 1170,1161.2 1171,1184 1172,1184 1173,1184 1174,1184 1175,1159.3 1176,1099.1 1177,1043.2 1178,994.9 1179,955 1180,923.4 1181,899.7 1182,883.1 1183,872.6 1184,867 1185,865 1186,864.8 1187,866 1188,870.1 1189,878.8 1190,893.2 1191,914.4 1192,943.2 1193,980.3 1194,1025.7 1195,1079.1 1196,1138.6 1197,1184 1198,1184 1199,1184 1200,1156.8 1201,1088.4 1202,1024.7 1203,969.7 1204,924.2 1205,888.1 1206,861 1207,842 1208,829.9 1209,823.5 1210,821.2 1211,821 1212,822.3 1213,827 1214,836.8 1215,853.1 1216,877.1 1217,909.7 1218,951.7 1219,1003.2 1220,1063.9 1221,1131.4 1222,1184 1223,1184 1224,1184 1225,1184 1226,1127.5 1227,1069.3 1228,1017.7 1229,974.2 1230,939 1231,911.9 1232,892.3 1233,879.1 1234,871.4 1235,868 1236,867.2 1237,867.6 1238,870.1 1239,876.5 1240,888 1241,905.8 1242,930.8 1243,963.6 1244,1004.9 1245,1054.3 1246,1110.9 1247,1170.4 1248,1184 1249,1184 1250,1184 1251,1184 1252,1151.9 1253,1099.8 1254,1052.3 1255,1011.8 1256,978.5 1257,952.5 1258,933.1 1259,919.8 1260,911.6 1261,907.5 1262,906.2 1263,906.2 1264,907.6 1265,912 1266,920.5 1267,934.2 1268,953.9 1269,980.4 1270,1014.1 1271,1055.1 1272,1102.9 1273,1155.2 1274,1184 1275,1184 1276,1184 1277,1176 1278,1129.9 1279,1085.7 1280,1046.9 1281,1014.4 1282,988.5 1283,968.7 1284,954.6 1285,945.4 1286,940.2 1287,938.1 1288,937.8 1289,938.3 1290,940.8 1291,946.6 1292,956.5 1293,971.5 1294,992.2 1295,1019.1 1296,1052.6 1297,1092.3 1298,1137.3 1299,1182.3 1300,1184 1301,1184 1302,1184 1303,1173 1304,1133.1 1305,1095.4 1306,1062.5 1307,1035.2 1308,1013.4 1309,997 1310,985.3 1311,977.8 1312,973.6 1313,972 1314,971.8 1315,972.4 1316,974.8 1317,980.1 1318,989.1 1319,1002.6 1320,1021 1321,1044.8 1322,1074.2 1323,1109 1324,1148.1 1325,1184 1326,1184 1327,1184 1328,1184 1329,1184 1330,1151.9 1331,1118.8 1332,1089.4 1333,1064.5 1334,1044.5 1335,1029 1336,1017.8 1337,1010.3 1338,1005.9 1339,1003.9 1340,1003.5 1341,1003.7 1342,1005.1 1343,1008.7 1344,1015.3 1345,1025.4 1346,1039.6 1347,1058.3 1348,1081.8 1349,1109.9 1350,1142.2 1351,1176.1 1352,1184 1353,1184 1354,1184 1355,1170.6 1356,1143 1357,1117.6 1358,1095.7 1359,1077.7 1360,1063.5 1361,1052.9 1362,1045.5 1363,1040.8 1364,1038.4 1365,1037.6 1366,1037.5 1367,1038.2 1368,1040.2 1369,1044.4 1370,1051.2 1371,1061.2 1372,1074.7 1373,1092 1374,1113.1 1375,1137.9 1376,1165.3 1377,1184 1378,1184 1379,1184 1380,1173.8 1381,1152.1 1382,1132.2 1383,1115 1384,1100.8 1385,1089.6 1386,1081.3 1387,1075.4 1388,1071.8 1389,1069.9 1390,1069.2 1391,1069.2 1392,1069.6 1393,1071.2 1394,1074.5 1395,1079.8 1396,1087.6 1397,1098.1 1398,1111.6 1399,1128.2 1400,1147.6 1401,1169 1402,1184 1403,1184 1404,1184 1405,1184 1406,1181.5 1407,1165.5 1408,1150 1409,1136.5 1410,1125.2 1411,1116.1 1412,1109.2 1413,1104.3 1414,1101 1415,1099.2 1416,1098.5 1417,1098.3 1418,1098.5 1419,1099.4 1420,1101.4 1421,1104.8 1422,1110 1423,1117.1 1424,1126.5 1425,1138 1426,1151.8 1427,1167.5 1428,1183.2 1429,1184 1430,1184 1431,1177.4 1432,1165.9 1433,1155.4 1434,1146.4 1435,1138.9 1436,1133.1 1437,1128.8 1438,1125.8 1439,1123.9 1440,1123 1441,1122.7 1442,1122.7 1443,1123 1444,1123.9 1445,1125.7 1446,1128.7 1447,1133 1448,1138.8 1449,1146.1 1450,1155.1 1451,1165.6 1452,1177.1 1453,1184 1454,1184 1455,1184 1456,1179.9 1457,1172.5 1458,1165.7 1459,1159.9 1460,1155.1 1461,1151.3 1462,1148.5 1463,1146.6 1464,1145.4 1465,1144.8 1466,1144.6 1467,1144.6 1468,1144.8 1469,1145.4 1470,1146.5 1471,1148.4 1472,1151.2 1473,1154.9 1474,1159.6 1475,1165.3 1476,1172.1 1477,1179.5 1478,1184 1479,1184 1480,1184 1481,1183.5 1482,1179.8 1483,1176.2 1484,1173 1485,1170.4 1486,1168.3 1487,1166.6 1488,1165.5 1489,1164.7 1490,1164.3 1491,1164.1 1492,1164 1493,1164.1 1494,1164.3 1495,1164.7 1496,1165.5 1497,1166.7 1498,1168.3 1499,1170.5 1500,1173.2 1501,1176.4 1502,1180 1503,1183.7 1504,1184 1505,1184 1506,1184 1507,1184 1508,1184 1509,1184" fill="none" stroke="#ff0c0c" stroke-width="7" stroke-linejoin="round"/>
</g>
<rect x="915.5" y="732" width="593" height="624.5" fill="none" stroke="#10101c" stroke-width="2.6"/>
<line x1="903" y1="1288.1" x2="915" y2="1288.1" stroke="#10101c" stroke-width="2.4" />
<text stroke="#000" stroke-width="0.7" font-size="30" font-weight="bold" text-anchor="end" transform="translate(893 1298.1) scale(1.122 1)">−4</text>
<line x1="903" y1="1190.8" x2="915" y2="1190.8" stroke="#10101c" stroke-width="2.4" />
<text stroke="#000" stroke-width="0.7" font-size="30" font-weight="bold" text-anchor="end" transform="translate(893 1200.8) scale(1.067 1)">0</text>
<line x1="903" y1="1093.5" x2="915" y2="1093.5" stroke="#10101c" stroke-width="2.4" />
<text stroke="#000" stroke-width="0.7" font-size="30" font-weight="bold" text-anchor="end" transform="translate(893 1103.5) scale(1.067 1)">4</text>
<line x1="903" y1="996.2" x2="915" y2="996.2" stroke="#10101c" stroke-width="2.4" />
<text stroke="#000" stroke-width="0.7" font-size="30" font-weight="bold" text-anchor="end" transform="translate(893 1006.2) scale(1.067 1)">8</text>
<line x1="903" y1="898.8" x2="915" y2="898.8" stroke="#10101c" stroke-width="2.4" />
<text stroke="#000" stroke-width="0.7" font-size="30" font-weight="bold" text-anchor="end" transform="translate(893 908.8) scale(1.200 1)">12</text>
<line x1="903" y1="801.5" x2="915" y2="801.5" stroke="#10101c" stroke-width="2.4" />
<text stroke="#000" stroke-width="0.7" font-size="30" font-weight="bold" text-anchor="end" transform="translate(893 811.5) scale(1.200 1)">16</text>
<line x1="908" y1="1336.8" x2="915" y2="1336.8" stroke="#10101c" stroke-width="2.2" />
<line x1="908" y1="1239.5" x2="915" y2="1239.5" stroke="#10101c" stroke-width="2.2" />
<line x1="908" y1="1142.1" x2="915" y2="1142.1" stroke="#10101c" stroke-width="2.2" />
<line x1="908" y1="1044.8" x2="915" y2="1044.8" stroke="#10101c" stroke-width="2.2" />
<line x1="908" y1="947.5" x2="915" y2="947.5" stroke="#10101c" stroke-width="2.2" />
<line x1="908" y1="850.2" x2="915" y2="850.2" stroke="#10101c" stroke-width="2.2" />
<line x1="908" y1="752.9" x2="915" y2="752.9" stroke="#10101c" stroke-width="2.2" />
<line x1="948.7" y1="1356" x2="948.7" y2="1367" stroke="#10101c" stroke-width="2.4" />
<text stroke="#000" stroke-width="0.7" font-size="31" font-weight="bold" text-anchor="middle" transform="translate(948.7 1402) scale(1.183 1)">300</text>
<line x1="1047.6" y1="1356" x2="1047.6" y2="1367" stroke="#10101c" stroke-width="2.4" />
<text stroke="#000" stroke-width="0.7" font-size="31" font-weight="bold" text-anchor="middle" transform="translate(1047.6 1402) scale(1.183 1)">600</text>
<line x1="1146.5" y1="1356" x2="1146.5" y2="1367" stroke="#10101c" stroke-width="2.4" />
<text stroke="#000" stroke-width="0.7" font-size="31" font-weight="bold" text-anchor="middle" transform="translate(1146.5 1402) scale(1.183 1)">900</text>
<line x1="1245.4" y1="1356" x2="1245.4" y2="1367" stroke="#10101c" stroke-width="2.4" />
<text stroke="#000" stroke-width="0.7" font-size="31" font-weight="bold" text-anchor="middle" transform="translate(1245.4 1402) scale(1.118 1)">1,200</text>
<line x1="1344.3" y1="1356" x2="1344.3" y2="1367" stroke="#10101c" stroke-width="2.4" />
<text stroke="#000" stroke-width="0.7" font-size="31" font-weight="bold" text-anchor="middle" transform="translate(1344.3 1402) scale(1.118 1)">1,500</text>
<line x1="1443.2" y1="1356" x2="1443.2" y2="1367" stroke="#10101c" stroke-width="2.4" />
<text stroke="#000" stroke-width="0.7" font-size="31" font-weight="bold" text-anchor="middle" transform="translate(1443.2 1402) scale(1.118 1)">1,800</text>
<line x1="998.2" y1="1356" x2="998.2" y2="1362" stroke="#10101c" stroke-width="2.2" />
<line x1="1097.1" y1="1356" x2="1097.1" y2="1362" stroke="#10101c" stroke-width="2.2" />
<line x1="1196" y1="1356" x2="1196" y2="1362" stroke="#10101c" stroke-width="2.2" />
<line x1="1294.9" y1="1356" x2="1294.9" y2="1362" stroke="#10101c" stroke-width="2.2" />
<line x1="1393.8" y1="1356" x2="1393.8" y2="1362" stroke="#10101c" stroke-width="2.2" />
<line x1="1492.7" y1="1356" x2="1492.7" y2="1362" stroke="#10101c" stroke-width="2.2" />
<line x1="1266.5" y1="745.5" x2="1339" y2="745.5" stroke="#3c7a12" stroke-width="5" />
<text stroke="#4a8a18" stroke-width="0.7" font-size="31" font-weight="bold" fill="#4a8a18" transform="translate(1345.5 756) scale(1.020 1)">PGT-PS-E1</text>
<line x1="1266.5" y1="784.6" x2="1339" y2="784.6" stroke="#000" stroke-width="5" />
<text stroke="#000" stroke-width="0.7" font-size="31" font-weight="bold" transform="translate(1345.5 795.1) scale(1.020 1)">PGT-PS-E2</text>
<line x1="1266.5" y1="822" x2="1339" y2="822" stroke="#ff1c1c" stroke-width="5" />
<text stroke="#ff2020" stroke-width="0.7" font-size="31" font-weight="bold" fill="#ff2020" transform="translate(1345.5 832.5) scale(1.020 1)">PGT-PS-E3</text>
<line x1="1266.5" y1="861.2" x2="1339" y2="861.2" stroke="#1048e8" stroke-width="5" />
<text stroke="#1040e0" stroke-width="0.7" font-size="31" font-weight="bold" fill="#1040e0" transform="translate(1345.5 871.7) scale(1.020 1)">PGT-PS-E4</text>
<text stroke="#000" stroke-width="0.7" font-size="29" font-weight="bold" transform="translate(935.1 1127.6) rotate(-90) scale(1.089 1)">0.1ppm</text>
<line x1="925.9" y1="1125.6" x2="925.9" y2="1148.1" stroke="#000" stroke-width="1.8" />
<path d="M925.9,1156.1L921.9,1144.1L929.9,1144.1Z" fill="#000"/>
<text stroke="#000" stroke-width="0.7" font-size="29" font-weight="bold" transform="translate(1004.5 1037.7) rotate(-90) scale(0.959 1)">1ppm</text>
<line x1="1001.8" y1="1037.8" x2="1001.8" y2="1069.1" stroke="#000" stroke-width="1.8" />
<path d="M1001.8,1077.1L997.8,1065.1L1005.8,1065.1Z" fill="#000"/>
<text stroke="#000" stroke-width="0.7" font-size="29" font-weight="bold" transform="translate(1084.4 947.7) rotate(-90) scale(0.976 1)">10ppm</text>
<line x1="1082.5" y1="947.9" x2="1082.5" y2="977" stroke="#000" stroke-width="1.8" />
<path d="M1082.5,985L1078.5,973L1086.5,973Z" fill="#000"/>
<text stroke="#000" stroke-width="0.7" font-size="29" font-weight="bold" transform="translate(1345.5 965.2) rotate(-90) scale(0.950 1)">10ppm</text>
<line x1="1339.3" y1="965.4" x2="1339.3" y2="988" stroke="#000" stroke-width="1.8" />
<path d="M1339.3,996L1335.3,984L1343.3,984Z" fill="#000"/>
<text stroke="#000" stroke-width="0.7" font-size="29" font-weight="bold" transform="translate(1422.3 1050.8) rotate(-90) scale(0.959 1)">1ppm</text>
<line x1="1416.9" y1="1051" x2="1416.9" y2="1080.1" stroke="#000" stroke-width="1.8" />
<path d="M1416.9,1088.1L1412.9,1076.1L1420.9,1076.1Z" fill="#000"/>
<text stroke="#000" stroke-width="0.7" font-size="29" font-weight="bold" transform="translate(1494.7 1112.3) rotate(-90) scale(1.018 1)">0.1ppm</text>
<line x1="1492" y1="1112.4" x2="1492" y2="1148.1" stroke="#000" stroke-width="1.8" />
<path d="M1492,1156.1L1488,1144.1L1496,1144.1Z" fill="#000"/>
<text stroke="#000" stroke-width="0.7" font-size="30" font-weight="bold" transform="translate(1171.2 780.1) scale(1.007 1)">40ppm</text>
<line x1="1209.8" y1="789.7" x2="1209.8" y2="811.7" stroke="#000" stroke-width="1.8" />
<path d="M1209.8,817.4L1205.8,805.4L1213.8,805.4Z" fill="#000"/>
<text stroke="#000" stroke-width="0.7" font-size="42" font-weight="bold" text-anchor="middle" transform="translate(840.5 1071.5) rotate(-90) scale(1.001 1)">RESPONSE</text>
<text stroke="#000" stroke-width="0.7" font-size="41" font-weight="bold" text-anchor="middle" transform="translate(1212 1452.5) scale(1.010 1)">TIME/S</text>
</g>
<!-- panel_f -->
<g filter="url(#blurF)">
<rect x="1684.5" y="816" width="325.5" height="454.5" fill="#d9f600"/>
<rect x="2010" y="812.5" width="166" height="458" fill="#afc0c4"/>
<line x1="2010" y1="812.5" x2="2177" y2="812.5" stroke="#222" stroke-width="1.6" />
<line x1="2176.3" y1="812" x2="2176.3" y2="1271" stroke="#222" stroke-width="1.8" />
<line x1="1684" y1="1271" x2="2177" y2="1271" stroke="#000" stroke-width="3" />
<line x1="1684.5" y1="816" x2="2010" y2="816" stroke="#445" stroke-width="1.2" />
<g clip-path="url(#clipF)">
<path d="M1631.7,1141.7 1712.8,1139.9" fill="none" stroke="#4a7c1c" stroke-width="4" />
<path d="M1712.8,1136.4 1726,1138.6 1739.2,1143 1752.3,1151.7 1763.3,1164.9 1774.3,1169.3 1787.4,1184.7 1799.7,1200.9 1812.5,1217.6 1825.2,1235.1 1837.9,1250.5 1846.7,1259.3 1895,1263.7 1960.8,1265.4 2048.5,1265 2055.1,1261.5 2067.4,1250.5 2079.3,1235.1 2091.6,1211.9 2104.3,1191.2 2116.6,1175.9 2129.7,1164.9 2142.9,1158.3 2156.1,1151.7 2169.2,1147.4 2182.4,1144.3 2223.2,1141.7" fill="none" stroke="#5a8c2c" stroke-width="1.3" />
<path d="M1846.7,1259.3 1895,1263.7 1960.8,1265.4 2048.5,1265" fill="none" stroke="#4a7c1c" stroke-width="13.6" stroke-linejoin="round"/>
<path d="M1706,1129.6h13.6v13.6h-13.6zM1719.2,1131.8h13.6v13.6h-13.6zM1732.4,1136.2h13.6v13.6h-13.6zM1745.5,1144.9h13.6v13.6h-13.6zM1756.5,1158.1h13.6v13.6h-13.6zM1767.5,1162.5h13.6v13.6h-13.6zM1780.6,1177.9h13.6v13.6h-13.6zM1792.9,1194.1h13.6v13.6h-13.6zM1805.7,1210.8h13.6v13.6h-13.6zM1818.4,1228.3h13.6v13.6h-13.6zM1831.1,1243.7h13.6v13.6h-13.6zM2048.3,1254.7h13.6v13.6h-13.6zM2060.6,1243.7h13.6v13.6h-13.6zM2072.5,1228.3h13.6v13.6h-13.6zM2084.8,1205.1h13.6v13.6h-13.6zM2097.5,1184.4h13.6v13.6h-13.6zM2109.8,1169.1h13.6v13.6h-13.6zM2122.9,1158.1h13.6v13.6h-13.6zM2136.1,1151.5h13.6v13.6h-13.6zM2149.3,1144.9h13.6v13.6h-13.6zM2162.4,1140.6h13.6v13.6h-13.6zM2175.6,1137.5h13.6v13.6h-13.6z" fill="#4a7c1c" stroke="none" stroke-width="1" />
<path d="M1631.7,1143.4 1723.8,1136.4" fill="none" stroke="#1c50e8" stroke-width="6" />
<path d="M2134.1,1124.1 2158.3,1132 2223.2,1143.4" fill="none" stroke="#1c50e8" stroke-width="5" />
<path d="M1631.7,1140.8 1688.7,1140.8 1719.4,1145.2 1754.5,1151.7 1785.2,1157.5M1787.4,1179.4 1816,1184.7 1851.1,1187.3 1938.8,1187.7 2026.6,1185.1 2061.7,1181.2 2070.5,1174.1 2083.7,1165.4 2096.8,1158.8 2110,1152.2 2123.1,1147.8 2136.3,1144.7 2158.3,1141.7 2223.2,1139.9" fill="none" stroke="#000" stroke-width="13.1" stroke-linejoin="round"/>
<path d="M1738.3,1129.8 1751.5,1126.7 1764.6,1114.4 1777.3,1096.9 1789.6,1082.9 1802.8,1064.9 1815.1,1042 1827.8,1028 1841.4,1017 1848.9,998.2 1895,996 1938.8,994.2 2009.1,993.8 2020,1002.5 2032.3,1019.2 2045,1042.9 2057.8,1057.4 2070.5,1077.1 2083.2,1094.7 2095.9,1112.3 2108.7,1118.8 2121.4,1121 2134.1,1124.1" fill="none" stroke="#3060f0" stroke-width="1.3" />
<path d="M1848.9,998.2 1895,996 1938.8,994.2 2009.1,993.8" fill="none" stroke="#1c50e8" stroke-width="13.6" />
<path d="M1731.5,1123h13.6v13.6h-13.6zM1744.7,1119.9h13.6v13.6h-13.6zM1757.8,1107.6h13.6v13.6h-13.6zM1770.5,1090.1h13.6v13.6h-13.6zM1782.8,1076.1h13.6v13.6h-13.6zM1796,1058.1h13.6v13.6h-13.6zM1808.3,1035.2h13.6v13.6h-13.6zM1821,1021.2h13.6v13.6h-13.6zM1834.6,1010.2h13.6v13.6h-13.6zM2013.2,995.7h13.6v13.6h-13.6zM2025.5,1012.4h13.6v13.6h-13.6zM2038.2,1036.1h13.6v13.6h-13.6zM2051,1050.6h13.6v13.6h-13.6zM2063.7,1070.3h13.6v13.6h-13.6zM2076.4,1087.9h13.6v13.6h-13.6zM2089.1,1105.5h13.6v13.6h-13.6zM2101.9,1112h13.6v13.6h-13.6zM2114.6,1114.2h13.6v13.6h-13.6zM2127.3,1117.3h13.6v13.6h-13.6z" fill="#1c50e8" stroke="none" stroke-width="1" />
<path d="M1710.6,1132 1723.8,1121 1738.3,1114.4 1751.5,1104.8 1763.3,1077.1 1776.5,1056.5 1789.6,1039 1801.9,1005.6 1815.1,981.9 1826.9,929.3 1840.1,881 1848.9,834.5 1895,829.2 1938.8,824.8 2000.3,821.3 2005.5,831.4 2019.1,853.3 2031.9,906 2044.2,933.6 2056.4,962.2 2069.2,1012.2 2082.3,1045.1 2094.6,1104.8 2107.8,1131.1" fill="none" stroke="#ff4040" stroke-width="1.3" />
<path d="M1631.7,1136.4 1710.6,1135.5M2107.8,1132 2158.3,1132 2223.2,1136.4" fill="none" stroke="#ff2020" stroke-width="11.6" />
<path d="M1848.9,834.5 1895,829.2 1938.8,824.8 2000.3,821.3 2005.5,831.4" fill="none" stroke="#ff2020" stroke-width="13.6" stroke-linejoin="round"/>
<path d="M1703.8,1125.2h13.6v13.6h-13.6zM1717,1114.2h13.6v13.6h-13.6zM1731.5,1107.6h13.6v13.6h-13.6zM1744.7,1098h13.6v13.6h-13.6zM1756.5,1070.3h13.6v13.6h-13.6zM1769.7,1049.7h13.6v13.6h-13.6zM1782.8,1032.2h13.6v13.6h-13.6zM1795.1,998.8h13.6v13.6h-13.6zM1808.3,975.1h13.6v13.6h-13.6zM1820.1,922.5h13.6v13.6h-13.6zM1833.3,874.2h13.6v13.6h-13.6zM2012.3,846.5h13.6v13.6h-13.6zM2025.1,899.2h13.6v13.6h-13.6zM2037.4,926.8h13.6v13.6h-13.6zM2049.6,955.4h13.6v13.6h-13.6zM2062.4,1005.4h13.6v13.6h-13.6zM2075.5,1038.3h13.6v13.6h-13.6zM2087.8,1098h13.6v13.6h-13.6zM2101,1124.3h13.6v13.6h-13.6z" fill="#ff2020" stroke="none" stroke-width="1" />
</g>
<line x1="1684.6" y1="750" x2="1684.6" y2="1283.5" stroke="#000" stroke-width="4.6" />
<line x1="2010.2" y1="752" x2="2010.2" y2="1283.5" stroke="#000" stroke-width="4.8" />
<path d="M2010.2,823L2003.2,797L2017.2,797Z" fill="#000"/>
<path d="M2010.2,823L2019.2,854L2001.2,854Z" fill="#000"/>
<path d="M1684.6,1141L1677.1,1111L1692.1,1111Z" fill="#000"/>
<path d="M1684.6,1144L1692.6,1170L1676.6,1170Z" fill="#000"/>
<rect x="1632.5" y="733.5" width="590" height="620.5" fill="none" stroke="#000" stroke-width="2.4"/>
<line x1="1620" y1="1289.1" x2="1632" y2="1289.1" stroke="#000" stroke-width="2.2" />
<text stroke="#000" stroke-width="0.8" font-size="32" font-weight="bold" text-anchor="end" transform="translate(1608 1300.1) scale(1.168 1)">−2</text>
<line x1="1620" y1="1142.5" x2="1632" y2="1142.5" stroke="#000" stroke-width="2.2" />
<text stroke="#000" stroke-width="0.8" font-size="32" font-weight="bold" text-anchor="end" transform="translate(1608 1153.5) scale(1.062 1)">0</text>
<line x1="1620" y1="995.9" x2="1632" y2="995.9" stroke="#000" stroke-width="2.2" />
<text stroke="#000" stroke-width="0.8" font-size="32" font-weight="bold" text-anchor="end" transform="translate(1608 1006.9) scale(1.062 1)">2</text>
<line x1="1620" y1="849.3" x2="1632" y2="849.3" stroke="#000" stroke-width="2.2" />
<text stroke="#000" stroke-width="0.8" font-size="32" font-weight="bold" text-anchor="end" transform="translate(1608 860.3) scale(1.062 1)">4</text>
<line x1="1625" y1="1215.8" x2="1632" y2="1215.8" stroke="#000" stroke-width="2" />
<line x1="1625" y1="1069.2" x2="1632" y2="1069.2" stroke="#000" stroke-width="2" />
<line x1="1625" y1="922.6" x2="1632" y2="922.6" stroke="#000" stroke-width="2" />
<line x1="1625" y1="776" x2="1632" y2="776" stroke="#000" stroke-width="2" />
<line x1="1687.8" y1="1354" x2="1687.8" y2="1367" stroke="#000" stroke-width="2.4" />
<text stroke="#000" stroke-width="0.8" font-size="32" font-weight="bold" text-anchor="middle" transform="translate(1687.8 1403.5) scale(1.156 1)">40</text>
<line x1="1814.9" y1="1354" x2="1814.9" y2="1367" stroke="#000" stroke-width="2.4" />
<text stroke="#000" stroke-width="0.8" font-size="32" font-weight="bold" text-anchor="middle" transform="translate(1814.9 1403.5) scale(1.156 1)">60</text>
<line x1="1942.1" y1="1354" x2="1942.1" y2="1367" stroke="#000" stroke-width="2.4" />
<text stroke="#000" stroke-width="0.8" font-size="32" font-weight="bold" text-anchor="middle" transform="translate(1942.1 1403.5) scale(1.156 1)">80</text>
<line x1="2069.2" y1="1354" x2="2069.2" y2="1367" stroke="#000" stroke-width="2.4" />
<text stroke="#000" stroke-width="0.8" font-size="32" font-weight="bold" text-anchor="middle" transform="translate(2069.2 1403.5) scale(1.146 1)">100</text>
<line x1="2196.4" y1="1354" x2="2196.4" y2="1367" stroke="#000" stroke-width="2.4" />
<text stroke="#000" stroke-width="0.8" font-size="32" font-weight="bold" text-anchor="middle" transform="translate(2196.4 1403.5) scale(1.146 1)">120</text>
<line x1="1751.4" y1="1354" x2="1751.4" y2="1361" stroke="#000" stroke-width="2.2" />
<line x1="1878.5" y1="1354" x2="1878.5" y2="1361" stroke="#000" stroke-width="2.2" />
<line x1="2005.7" y1="1354" x2="2005.7" y2="1361" stroke="#000" stroke-width="2.2" />
<line x1="2132.8" y1="1354" x2="2132.8" y2="1361" stroke="#000" stroke-width="2.2" />
<text stroke="#000" stroke-width="0.8" font-size="31" font-weight="bold" transform="translate(1718.5 795) scale(0.999 1)">1ppm Isopropanol</text>
<line x1="1694" y1="789.7" x2="1717" y2="789.7" stroke="#000" stroke-width="2" />
<path d="M1686,789.7L1698,785.7L1698,793.7Z" fill="#000"/>
<line x1="1964" y1="791" x2="1998" y2="791" stroke="#000" stroke-width="2" />
<path d="M2008.5,791L1996.5,795L1996.5,787Z" fill="#000"/>
<text stroke="#000" stroke-width="0.8" font-size="30.5" font-weight="bold" transform="translate(2040 795.5) scale(1.017 1)">Pure Air</text>
<text stroke="#ff2020" stroke-width="0.8" font-size="32" font-weight="bold" fill="#ff2020" transform="translate(1841 929) scale(1.039 1)">PGT-PS-E3</text>
<text stroke="#1c48e0" stroke-width="0.8" font-size="32" font-weight="bold" fill="#1c48e0" transform="translate(1837.7 1051.5) scale(1.045 1)">PGT-PS-E4</text>
<text stroke="#000" stroke-width="0.8" font-size="32" font-weight="bold" transform="translate(1840 1227.5) scale(1.026 1)">PGT-PS-E2</text>
<text stroke="#4a7c1c" stroke-width="0.8" font-size="32" font-weight="bold" fill="#4a7c1c" transform="translate(1838 1311) scale(1.020 1)">PGT-PS-E1</text>
<text stroke="#000" stroke-width="0.8" font-size="30" font-weight="bold" transform="translate(1639.5 1325) scale(1.041 1)">Light Turn on</text>
<text stroke="#000" stroke-width="0.8" font-size="30" font-weight="bold" transform="translate(2015.5 1323) scale(1.041 1)">Light Turn off</text>
<text stroke="#000" stroke-width="0.8" font-size="33" font-weight="bold" transform="translate(2181 1081.5) scale(0.965 1)">N</text>
<text stroke="#000" stroke-width="0.8" font-size="33" font-weight="bold" transform="translate(2181 1228.5) scale(0.992 1)">P</text>
<line x1="2189" y1="1108" x2="2189" y2="1169" stroke="#000" stroke-width="1.8" />
<path d="M2189,1094L2193,1110L2185,1110Z" fill="#000"/>
<text stroke="#000" stroke-width="0.8" font-size="42" font-weight="bold" text-anchor="middle" transform="translate(1569 1070) rotate(-90) scale(1.001 1)">RESPONSE</text>
<text stroke="#000" stroke-width="0.8" font-size="42" font-weight="bold" text-anchor="middle" transform="translate(1926 1456.5) scale(0.993 1)">TIME/S</text>
</g>
<!-- panel_g -->
<g filter="url(#blurG)">
<rect x="188" y="1530.8" width="49" height="558.7" fill="url(#hatchG)" stroke="#0a1418" stroke-width="2"/>
<rect x="305.8" y="1933.6" width="48.7" height="155.9" fill="url(#hatchG)" stroke="#0a1418" stroke-width="2"/>
<rect x="423.9" y="2024.5" width="48.7" height="65" fill="url(#hatchG)" stroke="#0a1418" stroke-width="2"/>
<rect x="541.9" y="2050.8" width="48.7" height="38.7" fill="url(#hatchG)" stroke="#0a1418" stroke-width="2"/>
<rect x="660" y="2069.7" width="48.7" height="19.8" fill="url(#hatchG)" stroke="#0a1418" stroke-width="2"/>
<rect x="152.7" y="1467.2" width="591" height="622.3" fill="none" stroke="#162228" stroke-width="2.8"/>
<line x1="140" y1="1972.7" x2="152" y2="1972.7" stroke="#111" stroke-width="2.2" />
<text stroke="#000" stroke-width="0.5" font-size="31" font-weight="bold" text-anchor="end" transform="translate(129.5 1983.2) scale(0.968 1)">1</text>
<line x1="140" y1="1843" x2="152" y2="1843" stroke="#111" stroke-width="2.2" />
<text stroke="#000" stroke-width="0.5" font-size="31" font-weight="bold" text-anchor="end" transform="translate(129.5 1853.5) scale(0.968 1)">2</text>
<line x1="140" y1="1713.3" x2="152" y2="1713.3" stroke="#111" stroke-width="2.2" />
<text stroke="#000" stroke-width="0.5" font-size="31" font-weight="bold" text-anchor="end" transform="translate(129.5 1723.8) scale(0.968 1)">3</text>
<line x1="140" y1="1583.6" x2="152" y2="1583.6" stroke="#111" stroke-width="2.2" />
<text stroke="#000" stroke-width="0.5" font-size="31" font-weight="bold" text-anchor="end" transform="translate(129.5 1594.1) scale(0.968 1)">4</text>
<line x1="146" y1="2037.6" x2="152" y2="2037.6" stroke="#111" stroke-width="2" />
<line x1="146" y1="1907.9" x2="152" y2="1907.9" stroke="#111" stroke-width="2" />
<line x1="146" y1="1778.2" x2="152" y2="1778.2" stroke="#111" stroke-width="2" />
<line x1="146" y1="1648.5" x2="152" y2="1648.5" stroke="#111" stroke-width="2" />
<line x1="146" y1="1518.8" x2="152" y2="1518.8" stroke="#111" stroke-width="2" />
<text stroke="#000" stroke-width="0.5" font-size="33" font-weight="bold" transform="translate(161.5 1506) scale(1.006 1)">Isopropanol</text>
<text stroke="#000" stroke-width="0.5" font-size="33" font-weight="bold" transform="translate(280.8 1829.6) scale(0.981 1)">Ethanol</text>
<text stroke="#000" stroke-width="0.5" font-size="33" font-weight="bold" transform="translate(392.7 1971) scale(0.993 1)">Acetone</text>
<text stroke="#000" stroke-width="0.5" font-size="33" font-weight="bold" transform="translate(522.2 2009) scale(0.999 1)">Butanol</text>
<text stroke="#000" stroke-width="0.5" font-size="33" font-weight="bold" transform="translate(641.5 2038) scale(0.994 1)">Aether</text>
<text stroke="#000" stroke-width="0.5" font-size="41" font-weight="bold" text-anchor="middle" transform="translate(93 1806.4) rotate(-90) scale(1.014 1)">RESPONSE</text>
</g>
<!-- panel_h -->
<g filter="url(#blurH)">
<line x1="906.8" y1="1523.6" x2="906.8" y2="2007.7" stroke="#d2d2d2" stroke-width="3" />
<line x1="901.5" y1="1523.6" x2="1584.1" y2="1523.6" stroke="#666" stroke-width="3" />
<line x1="1582.6" y1="1523.6" x2="1582.6" y2="2013.7" stroke="#555" stroke-width="2.6" />
<line x1="905.3" y1="2007.7" x2="1584.1" y2="2007.7" stroke="#555" stroke-width="3" />
<text stroke="#000" stroke-width="0.3" font-size="20.5" text-anchor="end" x="888.6" y="2014.7">0</text>
<line x1="898.8" y1="1947.2" x2="905.8" y2="1947.2" stroke="#888" stroke-width="1.8" />
<text stroke="#000" stroke-width="0.3" font-size="20.5" text-anchor="end" x="888.6" y="1954.2">20</text>
<line x1="898.8" y1="1886.7" x2="905.8" y2="1886.7" stroke="#888" stroke-width="1.8" />
<text stroke="#000" stroke-width="0.3" font-size="20.5" text-anchor="end" x="888.6" y="1893.7">40</text>
<line x1="898.8" y1="1826.2" x2="905.8" y2="1826.2" stroke="#222" stroke-width="1.8" />
<text stroke="#000" stroke-width="0.3" font-size="20.5" text-anchor="end" x="888.6" y="1833.2">60</text>
<line x1="898.8" y1="1765.6" x2="905.8" y2="1765.6" stroke="#888" stroke-width="1.8" />
<text stroke="#000" stroke-width="0.3" font-size="20.5" text-anchor="end" x="888.6" y="1772.6">80</text>
<line x1="898.8" y1="1705.1" x2="905.8" y2="1705.1" stroke="#888" stroke-width="1.8" />
<text stroke="#000" stroke-width="0.3" font-size="20.5" text-anchor="end" x="888.6" y="1712.1">100</text>
<line x1="898.8" y1="1644.6" x2="905.8" y2="1644.6" stroke="#222" stroke-width="1.8" />
<text stroke="#000" stroke-width="0.3" font-size="20.5" text-anchor="end" x="888.6" y="1651.6">120</text>
<line x1="898.8" y1="1584.1" x2="905.8" y2="1584.1" stroke="#888" stroke-width="1.8" />
<text stroke="#000" stroke-width="0.3" font-size="20.5" text-anchor="end" x="888.6" y="1591.1">140</text>
<text stroke="#000" stroke-width="0.3" font-size="20.5" text-anchor="end" x="888.6" y="1530.6">160</text>
<line x1="906.8" y1="2007.7" x2="906.8" y2="2014.7" stroke="#777" stroke-width="1.8" />
<text stroke="#000" stroke-width="0.3" font-size="20.5" text-anchor="middle" x="906.8" y="2047.5">0</text>
<line x1="1003.3" y1="2007.7" x2="1003.3" y2="2014.7" stroke="#777" stroke-width="1.8" />
<text stroke="#000" stroke-width="0.3" font-size="20.5" text-anchor="middle" x="1003.3" y="2047.5">20</text>
<line x1="1099.9" y1="2007.7" x2="1099.9" y2="2014.7" stroke="#777" stroke-width="1.8" />
<text stroke="#000" stroke-width="0.3" font-size="20.5" text-anchor="middle" x="1099.9" y="2047.5">40</text>
<line x1="1196.4" y1="2007.7" x2="1196.4" y2="2014.7" stroke="#777" stroke-width="1.8" />
<text stroke="#000" stroke-width="0.3" font-size="20.5" text-anchor="middle" x="1196.4" y="2047.5">60</text>
<line x1="1293" y1="2007.7" x2="1293" y2="2014.7" stroke="#777" stroke-width="1.8" />
<text stroke="#000" stroke-width="0.3" font-size="20.5" text-anchor="middle" x="1293" y="2047.5">80</text>
<line x1="1389.5" y1="2007.7" x2="1389.5" y2="2014.7" stroke="#777" stroke-width="1.8" />
<text stroke="#000" stroke-width="0.3" font-size="20.5" text-anchor="middle" x="1389.5" y="2047.5">100</text>
<line x1="1486.1" y1="2007.7" x2="1486.1" y2="2014.7" stroke="#777" stroke-width="1.8" />
<text stroke="#000" stroke-width="0.3" font-size="20.5" text-anchor="middle" x="1486.1" y="2047.5">120</text>
<line x1="1582.6" y1="2007.7" x2="1582.6" y2="2014.7" stroke="#777" stroke-width="1.8" />
<text stroke="#000" stroke-width="0.3" font-size="20.5" text-anchor="middle" x="1582.6" y="2047.5">140</text>
<path d="M955.1,1569 1027.5,1602.3 1099.9,1705.1 1196.4,1753.5 1293,1838.3 1389.5,1941.1 1486.1,1965.3" fill="none" stroke="#222" stroke-width="1.8" />
<path d="M955.1,1569h0M1027.5,1602.3h0M1099.9,1705.1h0M1196.4,1753.5h0M1293,1838.3h0M1389.5,1941.1h0M1486.1,1965.3h0" fill="none" stroke="#000" stroke-width="12.8" stroke-linecap="round"/>
<text stroke="#000" stroke-width="0.3" font-size="30" font-weight="bold" text-anchor="middle" transform="translate(831.5 1758) rotate(-90) scale(1.000 1)">ΔR/R (%)</text>
<text stroke="#000" stroke-width="0.3" font-size="27.7" font-weight="bold" text-anchor="middle" transform="translate(1245.5 2096.7) scale(1.015 1)">Temperature (°C)</text>
</g>
<!-- panel_i -->
<g filter="url(#blurI)">
<rect x="1718.6" y="1519.8" width="660.4" height="473.7" fill="none" stroke="#5a5a5a" stroke-width="2.8"/>
<line x1="1709.6" y1="1921.4" x2="1718.6" y2="1921.4" stroke="#555" stroke-width="2" />
<line x1="1709.6" y1="1841.1" x2="1718.6" y2="1841.1" stroke="#555" stroke-width="2" />
<line x1="1709.6" y1="1760.7" x2="1718.6" y2="1760.7" stroke="#555" stroke-width="2" />
<line x1="1709.6" y1="1680.4" x2="1718.6" y2="1680.4" stroke="#555" stroke-width="2" />
<line x1="1709.6" y1="1600" x2="1718.6" y2="1600" stroke="#555" stroke-width="2" />
<text stroke="#000" stroke-width="0.3" font-size="28" text-anchor="end" x="1697" y="1930.9">0</text>
<text stroke="#000" stroke-width="0.3" font-size="28" text-anchor="end" x="1697" y="1850.6">2</text>
<text stroke="#000" stroke-width="0.3" font-size="28" text-anchor="end" x="1697" y="1770.2">4</text>
<text stroke="#000" stroke-width="0.3" font-size="28" text-anchor="end" x="1697" y="1689.9">6</text>
<text stroke="#000" stroke-width="0.3" font-size="28" text-anchor="end" x="1697" y="1609.5">8</text>
<text stroke="#000" stroke-width="0.3" font-size="28" text-anchor="end" x="1697" y="1529.2">10</text>
<line x1="1718.6" y1="1993.5" x2="1718.6" y2="2002.5" stroke="#555" stroke-width="2" />
<text stroke="#000" stroke-width="0.3" font-size="28" text-anchor="middle" x="1718.6" y="2033">0</text>
<line x1="1828.7" y1="1993.5" x2="1828.7" y2="2002.5" stroke="#555" stroke-width="2" />
<text stroke="#000" stroke-width="0.3" font-size="28" text-anchor="middle" x="1828.7" y="2033">200</text>
<line x1="1938.7" y1="1993.5" x2="1938.7" y2="2002.5" stroke="#555" stroke-width="2" />
<text stroke="#000" stroke-width="0.3" font-size="28" text-anchor="middle" x="1938.7" y="2033">400</text>
<line x1="2048.8" y1="1993.5" x2="2048.8" y2="2002.5" stroke="#555" stroke-width="2" />
<text stroke="#000" stroke-width="0.3" font-size="28" text-anchor="middle" x="2048.8" y="2033">600</text>
<line x1="2158.8" y1="1993.5" x2="2158.8" y2="2002.5" stroke="#555" stroke-width="2" />
<text stroke="#000" stroke-width="0.3" font-size="28" text-anchor="middle" x="2158.8" y="2033">800</text>
<line x1="2268.9" y1="1993.5" x2="2268.9" y2="2002.5" stroke="#555" stroke-width="2" />
<text stroke="#000" stroke-width="0.3" font-size="28" text-anchor="middle" x="2270.9" y="2033">1,000</text>
<line x1="2379" y1="1993.5" x2="2379" y2="2002.5" stroke="#555" stroke-width="2" />
<text stroke="#000" stroke-width="0.3" font-size="28" text-anchor="middle" x="2381" y="2033">1,200</text>
<path d="M1718.6,1921.4 1724.1,1921.4 1729.6,1921.4 1735.1,1921.4 1740.6,1921.4 1744.5,1918.7 1768.1,1918.2 1779.1,1918.2 1792.9,1918.2 1801.1,1918.2 1809.4,1918.2 1817.7,1918.2 1823.2,1918.2 1826.5,1918.2 1828.7,1917.4 1845.2,1920.7 1856.2,1921.4 1861.7,1921.7 1867.2,1921.7 1872.7,1921.7 1878.2,1921.7 1883.7,1921.7 1889.2,1921.7 1894.7,1921.7 1900.2,1921.7 1903,1919.4 1911.2,1910.8 1933.2,1902.8 1944.2,1900.2 1958,1897.8 1969,1896.2 1977.2,1895.8 1982.7,1895.6 1988.2,1895.3 1991.5,1894.9 1993.8,1905.5 2010.3,1916.1 2021.3,1919.4 2026.8,1920.1 2037.8,1921.4 2043.3,1921.4 2048.8,1921.4 2054.3,1921.4 2059.8,1921.4 2066.4,1912.8 2075.2,1886.9 2097.2,1861.1 2109.3,1852.2 2123.1,1843.5 2134.1,1838.3 2139.6,1837.2 2145.1,1836.3 2150.6,1835.2 2154.4,1834.6 2157.7,1869.4 2175.3,1904.2 2186.4,1912.8 2191.9,1916.1 2197.4,1919.4 2202.9,1921.1 2208.4,1921.1 2213.9,1921.1 2219.4,1921.1 2224.9,1921.1 2231.5,1910.1 2240.3,1875.4 2263.4,1840.8 2275.5,1829.3 2288.2,1817.7 2299.2,1810.7 2304.7,1809.4 2310.2,1808.1 2315.7,1807.1 2319.5,1806.3 2322.8,1852.5 2340.4,1898.5 2351.4,1910.1 2356.9,1914.8 2362.5,1918.7 2368,1920.1 2373.5,1920.7 2379,1920.1" fill="none" stroke="#111" stroke-width="1.6" stroke-dasharray="11 6"/>
<path d="M1712.1,1915.6l13,0l-6.5,11.7zM1717.6,1915.6l13,0l-6.5,11.7zM1723.1,1915.6l13,0l-6.5,11.7zM1728.6,1915.6l13,0l-6.5,11.7zM1734.1,1915.6l13,0l-6.5,11.7zM1738,1912.9l13,0l-6.5,11.7zM1761.6,1912.3l13,0l-6.5,11.7zM1772.6,1912.3l13,0l-6.5,11.7zM1786.4,1912.3l13,0l-6.5,11.7zM1794.6,1912.3l13,0l-6.5,11.7zM1802.9,1912.3l13,0l-6.5,11.7zM1811.2,1912.3l13,0l-6.5,11.7zM1816.7,1912.3l13,0l-6.5,11.7zM1820,1912.3l13,0l-6.5,11.7zM1822.2,1911.6l13,0l-6.5,11.7zM1838.7,1914.9l13,0l-6.5,11.7zM1849.7,1915.6l13,0l-6.5,11.7zM1855.2,1915.8l13,0l-6.5,11.7zM1860.7,1915.8l13,0l-6.5,11.7zM1866.2,1915.8l13,0l-6.5,11.7zM1871.7,1915.8l13,0l-6.5,11.7zM1877.2,1915.8l13,0l-6.5,11.7zM1882.7,1915.8l13,0l-6.5,11.7zM1888.2,1915.8l13,0l-6.5,11.7zM1893.7,1915.8l13,0l-6.5,11.7zM1896.5,1913.6l13,0l-6.5,11.7zM1904.7,1904.9l13,0l-6.5,11.7zM1926.7,1897l13,0l-6.5,11.7zM1937.7,1894.3l13,0l-6.5,11.7zM1951.5,1892l13,0l-6.5,11.7zM1962.5,1890.4l13,0l-6.5,11.7zM1970.7,1890l13,0l-6.5,11.7zM1976.2,1889.7l13,0l-6.5,11.7zM1981.7,1889.4l13,0l-6.5,11.7zM1985,1889l13,0l-6.5,11.7zM1987.2,1899.6l13,0l-6.5,11.7zM2003.8,1910.2l13,0l-6.5,11.7zM2014.8,1913.6l13,0l-6.5,11.7zM2020.3,1914.2l13,0l-6.5,11.7zM2031.3,1915.6l13,0l-6.5,11.7zM2036.8,1915.6l13,0l-6.5,11.7zM2042.3,1915.6l13,0l-6.5,11.7zM2047.8,1915.6l13,0l-6.5,11.7zM2053.3,1915.6l13,0l-6.5,11.7zM2059.9,1906.9l13,0l-6.5,11.7zM2068.7,1881.1l13,0l-6.5,11.7zM2090.7,1855.2l13,0l-6.5,11.7zM2102.8,1846.4l13,0l-6.5,11.7zM2116.6,1837.6l13,0l-6.5,11.7zM2127.6,1832.4l13,0l-6.5,11.7zM2133.1,1831.4l13,0l-6.5,11.7zM2138.6,1830.4l13,0l-6.5,11.7zM2144.1,1829.4l13,0l-6.5,11.7zM2147.9,1828.7l13,0l-6.5,11.7zM2151.2,1863.6l13,0l-6.5,11.7zM2168.8,1898.3l13,0l-6.5,11.7zM2179.9,1906.9l13,0l-6.5,11.7zM2185.4,1910.2l13,0l-6.5,11.7zM2190.9,1913.6l13,0l-6.5,11.7zM2196.4,1915.3l13,0l-6.5,11.7zM2201.9,1915.3l13,0l-6.5,11.7zM2207.4,1915.3l13,0l-6.5,11.7zM2212.9,1915.3l13,0l-6.5,11.7zM2218.4,1915.3l13,0l-6.5,11.7zM2225,1904.3l13,0l-6.5,11.7zM2233.8,1869.6l13,0l-6.5,11.7zM2256.9,1835l13,0l-6.5,11.7zM2269,1823.4l13,0l-6.5,11.7zM2281.7,1811.9l13,0l-6.5,11.7zM2292.7,1804.9l13,0l-6.5,11.7zM2298.2,1803.5l13,0l-6.5,11.7zM2303.7,1802.2l13,0l-6.5,11.7zM2309.2,1801.3l13,0l-6.5,11.7zM2313,1800.5l13,0l-6.5,11.7zM2316.3,1846.6l13,0l-6.5,11.7zM2333.9,1892.6l13,0l-6.5,11.7zM2344.9,1904.3l13,0l-6.5,11.7zM2350.4,1908.9l13,0l-6.5,11.7zM2356,1912.9l13,0l-6.5,11.7zM2361.5,1914.2l13,0l-6.5,11.7zM2367,1914.9l13,0l-6.5,11.7zM2372.5,1914.2l13,0l-6.5,11.7z" fill="#000" stroke="none" stroke-width="1" />
<path d="M1718.6,1921.4 1724.1,1921.4 1729.6,1921.4 1735.1,1921.4 1740.6,1921.4 1744.5,1913.4 1768.1,1911.4 1779.1,1911.4 1792.9,1911.4 1801.1,1911.4 1809.4,1911.4 1817.7,1911.4 1823.2,1911.4 1826.5,1911.4 1828.7,1915.4 1845.2,1920.4 1856.2,1921.4 1861.7,1921.8 1867.2,1921.8 1872.7,1921.8 1878.2,1921.8 1883.7,1921.8 1889.2,1921.8 1894.7,1921.8 1900.2,1921.8 1903,1918.4 1911.2,1905.3 1933.2,1893.3 1944.2,1889.3 1958,1885.6 1969,1883.2 1977.2,1882.6 1982.7,1882.2 1988.2,1881.8 1991.5,1881.2 1993.8,1897.3 2010.3,1913.4 2021.3,1918.4 2026.8,1919.4 2037.8,1921.4 2043.3,1921.4 2048.8,1921.4 2054.3,1921.4 2059.8,1921.4 2066.4,1908.3 2075.2,1869.2 2097.2,1830 2109.3,1816.6 2123.1,1803.3 2134.1,1795.5 2139.6,1793.9 2145.1,1792.5 2150.6,1790.8 2154.4,1789.8 2157.7,1842.7 2175.3,1895.3 2186.4,1908.3 2191.9,1913.4 2197.4,1918.4 2202.9,1921 2208.4,1921 2213.9,1921 2219.4,1921 2224.9,1921 2231.5,1904.3 2240.3,1851.7 2263.4,1799.3 2275.5,1781.8 2288.2,1764.3 2299.2,1753.7 2304.7,1751.7 2310.2,1749.7 2315.7,1748.3 2319.5,1747.1 2322.8,1817 2340.4,1886.7 2351.4,1904.3 2356.9,1911.4 2362.5,1917.4 2368,1919.4 2373.5,1920.4 2379,1919.4" fill="none" stroke="#666" stroke-width="1.6" stroke-dasharray="2 5"/>
<g fill="#fff" stroke="#000" stroke-width="1.9">
<circle cx="1718.6" cy="1921.4" r="5.2"/>
<circle cx="1724.1" cy="1921.4" r="5.2"/>
<circle cx="1729.6" cy="1921.4" r="5.2"/>
<circle cx="1735.1" cy="1921.4" r="5.2"/>
<circle cx="1740.6" cy="1921.4" r="5.2"/>
<circle cx="1744.5" cy="1913.4" r="5.2"/>
<circle cx="1768.1" cy="1911.4" r="5.2"/>
<circle cx="1779.1" cy="1911.4" r="5.2"/>
<circle cx="1792.9" cy="1911.4" r="5.2"/>
<circle cx="1801.1" cy="1911.4" r="5.2"/>
<circle cx="1809.4" cy="1911.4" r="5.2"/>
<circle cx="1817.7" cy="1911.4" r="5.2"/>
<circle cx="1823.2" cy="1911.4" r="5.2"/>
<circle cx="1826.5" cy="1911.4" r="5.2"/>
<circle cx="1828.7" cy="1915.4" r="5.2"/>
<circle cx="1845.2" cy="1920.4" r="5.2"/>
<circle cx="1856.2" cy="1921.4" r="5.2"/>
<circle cx="1861.7" cy="1921.8" r="5.2"/>
<circle cx="1867.2" cy="1921.8" r="5.2"/>
<circle cx="1872.7" cy="1921.8" r="5.2"/>
<circle cx="1878.2" cy="1921.8" r="5.2"/>
<circle cx="1883.7" cy="1921.8" r="5.2"/>
<circle cx="1889.2" cy="1921.8" r="5.2"/>
<circle cx="1894.7" cy="1921.8" r="5.2"/>
<circle cx="1900.2" cy="1921.8" r="5.2"/>
<circle cx="1903" cy="1918.4" r="5.2"/>
<circle cx="1911.2" cy="1905.3" r="5.2"/>
<circle cx="1933.2" cy="1893.3" r="5.2"/>
<circle cx="1944.2" cy="1889.3" r="5.2"/>
<circle cx="1958" cy="1885.6" r="5.2"/>
<circle cx="1969" cy="1883.2" r="5.2"/>
<circle cx="1977.2" cy="1882.6" r="5.2"/>
<circle cx="1982.7" cy="1882.2" r="5.2"/>
<circle cx="1988.2" cy="1881.8" r="5.2"/>
<circle cx="1991.5" cy="1881.2" r="5.2"/>
<circle cx="1993.8" cy="1897.3" r="5.2"/>
<circle cx="2010.3" cy="1913.4" r="5.2"/>
<circle cx="2021.3" cy="1918.4" r="5.2"/>
<circle cx="2026.8" cy="1919.4" r="5.2"/>
<circle cx="2037.8" cy="1921.4" r="5.2"/>
<circle cx="2043.3" cy="1921.4" r="5.2"/>
<circle cx="2048.8" cy="1921.4" r="5.2"/>
<circle cx="2054.3" cy="1921.4" r="5.2"/>
<circle cx="2059.8" cy="1921.4" r="5.2"/>
<circle cx="2066.4" cy="1908.3" r="5.2"/>
<circle cx="2075.2" cy="1869.2" r="5.2"/>
<circle cx="2097.2" cy="1830" r="5.2"/>
<circle cx="2109.3" cy="1816.6" r="5.2"/>
<circle cx="2123.1" cy="1803.3" r="5.2"/>
<circle cx="2134.1" cy="1795.5" r="5.2"/>
<circle cx="2139.6" cy="1793.9" r="5.2"/>
<circle cx="2145.1" cy="1792.5" r="5.2"/>
<circle cx="2150.6" cy="1790.8" r="5.2"/>
<circle cx="2154.4" cy="1789.8" r="5.2"/>
<circle cx="2157.7" cy="1842.7" r="5.2"/>
<circle cx="2175.3" cy="1895.3" r="5.2"/>
<circle cx="2186.4" cy="1908.3" r="5.2"/>
<circle cx="2191.9" cy="1913.4" r="5.2"/>
<circle cx="2197.4" cy="1918.4" r="5.2"/>
<circle cx="2202.9" cy="1921" r="5.2"/>
<circle cx="2208.4" cy="1921" r="5.2"/>
<circle cx="2213.9" cy="1921" r="5.2"/>
<circle cx="2219.4" cy="1921" r="5.2"/>
<circle cx="2224.9" cy="1921" r="5.2"/>
<circle cx="2231.5" cy="1904.3" r="5.2"/>
<circle cx="2240.3" cy="1851.7" r="5.2"/>
<circle cx="2263.4" cy="1799.3" r="5.2"/>
<circle cx="2275.5" cy="1781.8" r="5.2"/>
<circle cx="2288.2" cy="1764.3" r="5.2"/>
<circle cx="2299.2" cy="1753.7" r="5.2"/>
<circle cx="2304.7" cy="1751.7" r="5.2"/>
<circle cx="2310.2" cy="1749.7" r="5.2"/>
<circle cx="2315.7" cy="1748.3" r="5.2"/>
<circle cx="2319.5" cy="1747.1" r="5.2"/>
<circle cx="2322.8" cy="1817" r="5.2"/>
<circle cx="2340.4" cy="1886.7" r="5.2"/>
<circle cx="2351.4" cy="1904.3" r="5.2"/>
<circle cx="2356.9" cy="1911.4" r="5.2"/>
<circle cx="2362.5" cy="1917.4" r="5.2"/>
<circle cx="2368" cy="1919.4" r="5.2"/>
<circle cx="2373.5" cy="1920.4" r="5.2"/>
<circle cx="2379" cy="1919.4" r="5.2"/>
</g>
<path d="M1718.6,1921.4 1724.1,1921.4 1729.6,1921.4 1735.1,1921.4 1740.6,1921.4 1744.5,1913.4 1768.1,1907.3 1779.1,1905.3 1792.9,1903.3 1801.1,1902.5 1809.4,1902.1 1817.7,1901.3 1823.2,1901.3 1826.5,1901.3 1828.7,1909.3 1845.2,1919.4 1856.2,1921.4 1861.7,1922.2 1867.2,1922.2 1872.7,1922.2 1878.2,1922.2 1883.7,1922.2 1889.2,1922.2 1894.7,1922.2 1900.2,1922.2 1903,1915.4 1911.2,1889.3 1933.2,1865.2 1944.2,1857.1 1958,1849.9 1969,1845.1 1977.2,1843.9 1982.7,1843.1 1988.2,1842.3 1991.5,1841.1 1993.8,1873.2 2010.3,1905.3 2021.3,1915.4 2026.8,1917.4 2037.8,1921.4 2043.3,1921.4 2048.8,1921.4 2054.3,1921.4 2059.8,1921.4 2066.4,1895.3 2075.2,1817 2097.2,1738.6 2109.3,1711.7 2123.1,1685.2 2134.1,1669.5 2139.6,1666.3 2145.1,1663.5 2150.6,1660.3 2154.4,1658.3 2157.7,1763.9 2175.3,1869.2 2186.4,1895.3 2191.9,1905.3 2197.4,1915.4 2202.9,1920.6 2208.4,1920.6 2213.9,1920.6 2219.4,1920.6 2224.9,1920.6 2231.5,1887.3 2240.3,1782 2263.4,1677.2 2275.5,1642.2 2288.2,1607.3 2299.2,1586 2304.7,1582 2310.2,1577.9 2315.7,1575.1 2319.5,1572.7 2322.8,1712.5 2340.4,1851.9 2351.4,1887.3 2356.9,1901.3 2362.5,1913.4 2368,1917.4 2373.5,1919.4 2379,1917.4" fill="none" stroke="#111" stroke-width="1.6" />
<path d="M1718.6,1921.4h0M1724.1,1921.4h0M1729.6,1921.4h0M1735.1,1921.4h0M1740.6,1921.4h0M1744.5,1913.4h0M1768.1,1907.3h0M1779.1,1905.3h0M1792.9,1903.3h0M1801.1,1902.5h0M1809.4,1902.1h0M1817.7,1901.3h0M1823.2,1901.3h0M1826.5,1901.3h0M1828.7,1909.3h0M1845.2,1919.4h0M1856.2,1921.4h0M1861.7,1922.2h0M1867.2,1922.2h0M1872.7,1922.2h0M1878.2,1922.2h0M1883.7,1922.2h0M1889.2,1922.2h0M1894.7,1922.2h0M1900.2,1922.2h0M1903,1915.4h0M1911.2,1889.3h0M1933.2,1865.2h0M1944.2,1857.1h0M1958,1849.9h0M1969,1845.1h0M1977.2,1843.9h0M1982.7,1843.1h0M1988.2,1842.3h0M1991.5,1841.1h0M1993.8,1873.2h0M2010.3,1905.3h0M2021.3,1915.4h0M2026.8,1917.4h0M2037.8,1921.4h0M2043.3,1921.4h0M2048.8,1921.4h0M2054.3,1921.4h0M2059.8,1921.4h0M2066.4,1895.3h0M2075.2,1817h0M2097.2,1738.6h0M2109.3,1711.7h0M2123.1,1685.2h0M2134.1,1669.5h0M2139.6,1666.3h0M2145.1,1663.5h0M2150.6,1660.3h0M2154.4,1658.3h0M2157.7,1763.9h0M2175.3,1869.2h0M2186.4,1895.3h0M2191.9,1905.3h0M2197.4,1915.4h0M2202.9,1920.6h0M2208.4,1920.6h0M2213.9,1920.6h0M2219.4,1920.6h0M2224.9,1920.6h0M2231.5,1887.3h0M2240.3,1782h0M2263.4,1677.2h0M2275.5,1642.2h0M2288.2,1607.3h0M2299.2,1586h0M2304.7,1582h0M2310.2,1577.9h0M2315.7,1575.1h0M2319.5,1572.7h0M2322.8,1712.5h0M2340.4,1851.9h0M2351.4,1887.3h0M2356.9,1901.3h0M2362.5,1913.4h0M2368,1917.4h0M2373.5,1919.4h0M2379,1917.4h0" fill="none" stroke="#000" stroke-width="12.4" stroke-linecap="round"/>
<line x1="1761" y1="1586.8" x2="1820.5" y2="1586.8" stroke="#111" stroke-width="1.6" />
<path d="M1790.5,1586.8h0" fill="none" stroke="#000" stroke-width="12.4" stroke-linecap="round"/>
<text stroke="#000" stroke-width="0.3" font-size="25.5" transform="translate(1835.2 1595.2) scale(1.003 1)">Methanol</text>
<line x1="1761" y1="1619" x2="1820.5" y2="1619" stroke="#777" stroke-width="1.6" stroke-dasharray="2 4"/>
<g fill="#fff" stroke="#000" stroke-width="1.9">
<circle cx="1790.5" cy="1619" r="5.2"/>
</g>
<text stroke="#000" stroke-width="0.3" font-size="25.5" transform="translate(1835.2 1627.4) scale(1.003 1)">Ethanol</text>
<line x1="1761" y1="1650" x2="1820.5" y2="1650" stroke="#111" stroke-width="1.6" stroke-dasharray="11 6"/>
<path d="M1783.8,1644l13.4,0l-6.7,12.1z" fill="#000" stroke="none" stroke-width="1" />
<text stroke="#000" stroke-width="0.3" font-size="25.5" transform="translate(1835.2 1658.4) scale(1.003 1)">Acetone</text>
<text stroke="#000" stroke-width="0.3" font-size="21.8" transform="translate(1768.2 1885.7) scale(1.004 1)">5 ppm</text>
<text stroke="#000" stroke-width="0.3" font-size="21.8" transform="translate(1934.4 1822.4) scale(0.994 1)">10 ppm</text>
<text stroke="#000" stroke-width="0.3" font-size="21.8" transform="translate(2102.8 1640) scale(1.015 1)">30 ppm</text>
<text stroke="#000" stroke-width="0.3" font-size="21.8" transform="translate(2256.5 1560) scale(1.017 1)">50 ppm</text>
<text stroke="#000" stroke-width="0.3" font-size="29.5" font-weight="bold" text-anchor="middle" transform="translate(1653 1757.6) rotate(-90) scale(1.001 1)">ΔR/R (%)</text>
<text stroke="#000" stroke-width="0.3" font-size="29" font-weight="bold" text-anchor="middle" transform="translate(2050 2085.3) scale(1.009 1)">Time (sec)</text>
</g>
<!-- panel_j -->
<g filter="url(#blurJ)">
<line x1="153" y1="2173.4" x2="196" y2="2173.4" stroke="#111" stroke-width="1.6" />
<line x1="195" y1="2174" x2="811.1" y2="2174" stroke="#9a9a9a" stroke-width="3.2" />
<line x1="811.1" y1="2173.4" x2="811.1" y2="2653.3" stroke="#999" stroke-width="2" />
<line x1="153" y1="2173.4" x2="153" y2="2654.3" stroke="#111" stroke-width="1.6" />
<line x1="153" y1="2646.3" x2="811.1" y2="2646.3" stroke="#111" stroke-width="1.8" />
<line x1="145" y1="2592.2" x2="153" y2="2592.2" stroke="#222" stroke-width="1.5" />
<text stroke="#000" stroke-width="0.3" font-size="25.5" text-anchor="end" x="132.5" y="2600.7">0</text>
<line x1="145" y1="2532.3" x2="153" y2="2532.3" stroke="#222" stroke-width="1.5" />
<text stroke="#000" stroke-width="0.3" font-size="25.5" text-anchor="end" x="132.5" y="2540.8">20</text>
<line x1="145" y1="2472.4" x2="153" y2="2472.4" stroke="#222" stroke-width="1.5" />
<text stroke="#000" stroke-width="0.3" font-size="25.5" text-anchor="end" x="132.5" y="2480.9">40</text>
<line x1="145" y1="2412.6" x2="153" y2="2412.6" stroke="#222" stroke-width="1.5" />
<text stroke="#000" stroke-width="0.3" font-size="25.5" text-anchor="end" x="132.5" y="2421.1">60</text>
<line x1="145" y1="2352.7" x2="153" y2="2352.7" stroke="#222" stroke-width="1.5" />
<text stroke="#000" stroke-width="0.3" font-size="25.5" text-anchor="end" x="132.5" y="2361.2">80</text>
<line x1="145" y1="2292.8" x2="153" y2="2292.8" stroke="#222" stroke-width="1.5" />
<text stroke="#000" stroke-width="0.3" font-size="25.5" text-anchor="end" x="132.5" y="2301.3">100</text>
<line x1="145" y1="2232.9" x2="153" y2="2232.9" stroke="#222" stroke-width="1.5" />
<text stroke="#000" stroke-width="0.3" font-size="25.5" text-anchor="end" x="132.5" y="2241.4">120</text>
<text stroke="#000" stroke-width="0.3" font-size="25.5" text-anchor="end" x="132.5" y="2181.5">140</text>
<line x1="153" y1="2646.3" x2="153" y2="2654.3" stroke="#222" stroke-width="1.5" />
<text stroke="#000" stroke-width="0.3" font-size="25.5" text-anchor="middle" x="153" y="2689">0</text>
<line x1="284.6" y1="2646.3" x2="284.6" y2="2654.3" stroke="#222" stroke-width="1.5" />
<text stroke="#000" stroke-width="0.3" font-size="25.5" text-anchor="middle" x="284.6" y="2689">50</text>
<line x1="416.2" y1="2646.3" x2="416.2" y2="2654.3" stroke="#222" stroke-width="1.5" />
<text stroke="#000" stroke-width="0.3" font-size="25.5" text-anchor="middle" x="416.2" y="2689">100</text>
<line x1="547.8" y1="2646.3" x2="547.8" y2="2654.3" stroke="#222" stroke-width="1.5" />
<text stroke="#000" stroke-width="0.3" font-size="25.5" text-anchor="middle" x="547.8" y="2689">150</text>
<line x1="679.4" y1="2646.3" x2="679.4" y2="2654.3" stroke="#222" stroke-width="1.5" />
<text stroke="#000" stroke-width="0.3" font-size="25.5" text-anchor="middle" x="679.4" y="2689">200</text>
<line x1="811" y1="2646.3" x2="811" y2="2654.3" stroke="#222" stroke-width="1.5" />
<text stroke="#000" stroke-width="0.3" font-size="25.5" text-anchor="middle" x="817" y="2689">250</text>
<path d="M153,2592.2 154.6,2592.2 156.3,2592.2 157.9,2592.2 159.5,2592.2 161.2,2592.2 162.8,2592.2 164.4,2592.2 166.1,2592.2 177.5,2591 179.1,2589.1 180.7,2587.8 182.4,2586.8 184,2586.2 185.6,2585.7 187.3,2585.4 188.9,2585.1 190.5,2585 192.2,2584.8 193.8,2584.7 195.4,2584.6 197.1,2584.5 198.7,2584.4 200.3,2584.3 202,2584.2 203.6,2584.1 205.2,2584 206.9,2584 208.5,2583.9 210.1,2583.8 211.7,2583.8 213.4,2583.8 215,2583.8 216.6,2583.8 218.3,2583.8 219.9,2583.8 221.5,2583.8 223.2,2583.8 224.8,2583.8 226.4,2583.8 228.1,2583.8 229.7,2583.8 231.3,2583.8 233,2584.8 234.6,2586.2 236.2,2587.2 237.9,2588 239.5,2588.6 241.1,2589.1 242.8,2589.5 244.4,2589.9 246,2590.1 247.6,2590.4 249.3,2590.5 250.9,2590.7 252.5,2590.8 254.2,2590.9 255.8,2591 257.4,2591.1 259.1,2591.2 260.7,2591.3 262.3,2591.3 264,2591.4 265.6,2591.4 267.2,2591.5 268.9,2591.5 270.5,2591.6 272.1,2591.6 273.8,2591.7 275.4,2591.7 277,2591.7 278.7,2591.8 280.3,2591.8 281.9,2591.8 283.5,2591.8 285.2,2591.9 286.8,2591.9 288.4,2591.9 290.1,2591.9 291.7,2591.9 293.3,2591.9 295,2592 296.6,2592 298.2,2592 299.9,2592 301.5,2592 303.1,2592.1 304.8,2592.1 306.4,2592.1 308,2592.1 309.7,2592.1 311.3,2592.2 312.9,2592.2 314.6,2592.2 316.2,2592.2 317.8,2592.2 319.4,2592.2 321.1,2592.2 322.7,2592.2 335.8,2592.2 337.4,2587.7 339,2584.4 340.7,2582.2 342.3,2580.7 343.9,2579.8 345.6,2579.1 347.2,2578.6 348.8,2578.2 350.5,2577.9 352.1,2577.7 353.7,2577.5 355.3,2577.3 357,2577.1 358.6,2577 360.2,2576.8 361.9,2576.7 363.5,2576.5 365.1,2576.4 366.8,2576.2 368.4,2576.1 370,2576 371.7,2576 373.3,2576 374.9,2576 376.6,2576 378.2,2576 379.8,2576 381.5,2576 383.1,2576 384.7,2576 386.4,2576 388,2576 389.6,2576 391.2,2576.1 392.9,2579.1 394.5,2581.4 396.1,2583.2 397.8,2584.7 399.4,2585.8 401,2586.6 402.7,2587.4 404.3,2587.9 405.9,2588.4 407.6,2588.8 409.2,2589.1 410.8,2589.4 412.5,2589.6 414.1,2589.8 415.7,2590 417.4,2590.2 419,2590.3 420.6,2590.5 422.3,2590.6 423.9,2590.7 425.5,2590.8 427.1,2590.9 428.8,2591 430.4,2591 432,2591.1 433.7,2591.2 435.3,2591.2 436.9,2591.3 438.6,2591.4 440.2,2591.4 441.8,2591.5 443.5,2591.5 445.1,2591.5 446.7,2591.6 448.4,2591.6 450,2591.7 451.6,2591.7 453.3,2591.7 454.9,2591.8 456.5,2591.8 458.2,2591.8 459.8,2591.8 461.4,2591.9 463,2591.9 464.7,2591.9 466.3,2591.9 467.9,2591.9 469.6,2592 471.2,2592 472.8,2592 474.5,2592.1 476.1,2592.1 477.7,2592.1 479.4,2592.1 481,2592.2 482.6,2592.2 484.3,2592.2 495.7,2592.2 497.3,2586.3 499,2578.1 500.6,2572.9 502.2,2569.6 503.8,2567.4 505.5,2565.9 507.1,2564.9 508.7,2564.1 510.4,2563.5 512,2563 513.6,2562.6 515.3,2562.2 516.9,2561.9 518.5,2561.6 520.2,2561.2 521.8,2560.9 523.4,2560.6 525.1,2560.3 526.7,2560 528.3,2559.9 530,2559.9 531.6,2559.9 533.2,2559.9 534.9,2559.9 536.5,2559.9 538.1,2559.9 539.7,2559.9 541.4,2559.9 543,2559.9 544.6,2559.9 546.3,2559.9 547.9,2560.3 549.5,2565.8 551.2,2570.1 552.8,2573.6 554.4,2576.3 556.1,2578.5 557.7,2580.3 559.3,2581.8 561,2582.9 562.6,2583.9 564.2,2584.8 565.9,2585.5 567.5,2586 569.1,2586.6 570.8,2587 572.4,2587.4 574,2587.7 575.6,2588 577.3,2588.3 578.9,2588.6 580.5,2588.8 582.2,2589 583.8,2589.2 585.4,2589.4 587.1,2589.6 588.7,2589.7 590.3,2589.9 592,2590 593.6,2590.1 595.2,2590.2 596.9,2590.3 598.5,2590.5 600.1,2590.6 601.8,2590.6 603.4,2590.7 605,2590.8 606.7,2590.9 608.3,2591 609.9,2591 611.5,2591.1 613.2,2591.2 614.8,2591.2 616.4,2591.3 618.1,2591.3 619.7,2591.4 621.3,2591.4 623,2591.5 624.6,2591.5 626.2,2591.5 627.9,2591.6 629.5,2591.7 631.1,2591.8 632.8,2591.9 634.4,2591.9 636,2592 637.7,2592.1 639.3,2592.1 640.9,2592.2 642.6,2592.2 654,2592.2 655.6,2577.5 657.2,2563.5 658.9,2554.1 660.5,2547.6 662.1,2543.1 663.8,2539.9 665.4,2537.6 667,2535.9 668.7,2534.6 670.3,2533.5 671.9,2532.5 673.6,2531.7 675.2,2530.9 676.8,2530.2 678.5,2529.6 680.1,2528.9 681.7,2528.3 683.3,2527.7 685,2527 686.6,2526.6 688.2,2526.6 689.9,2526.6 691.5,2526.6 693.1,2526.6 694.8,2526.6 696.4,2526.6 698,2526.6 699.7,2526.6 701.3,2526.6 702.9,2526.6 704.6,2526.6 706.2,2526.6 707.8,2532 709.5,2541.5 711.1,2549.1 712.7,2555.3 714.4,2560.4 716,2564.5 717.6,2567.8 719.2,2570.6 720.9,2572.9 722.5,2574.9 724.1,2576.5 725.8,2577.9 727.4,2579.1 729,2580.1 730.7,2581.1 732.3,2581.9 733.9,2582.6 735.6,2583.2 737.2,2583.8 738.8,2584.3 740.5,2584.8 742.1,2585.2 743.7,2585.6 745.4,2586 747,2586.3 748.6,2586.7 750.3,2587 751.9,2587.2 753.5,2587.5 755.1,2587.8 756.8,2588 758.4,2588.2 760,2588.4 761.7,2588.6 763.3,2588.8 764.9,2589 766.6,2589.2 768.2,2589.3 769.8,2589.5 771.5,2589.6 773.1,2589.7 774.7,2589.9 776.4,2590 778,2590.1 779.6,2590.2 781.3,2590.3 782.9,2590.5 784.5,2590.8 786.2,2591" fill="none" stroke="#111" stroke-width="1.2" stroke-dasharray="11 6"/>
<path d="M147.9,2587.6l10.2,0l-5.1,9.2zM149.5,2587.6l10.2,0l-5.1,9.2zM151.2,2587.6l10.2,0l-5.1,9.2zM152.8,2587.6l10.2,0l-5.1,9.2zM154.4,2587.6l10.2,0l-5.1,9.2zM156.1,2587.6l10.2,0l-5.1,9.2zM157.7,2587.6l10.2,0l-5.1,9.2zM159.3,2587.6l10.2,0l-5.1,9.2zM161,2587.6l10.2,0l-5.1,9.2zM172.4,2586.4l10.2,0l-5.1,9.2zM174,2584.5l10.2,0l-5.1,9.2zM175.6,2583.2l10.2,0l-5.1,9.2zM177.3,2582.3l10.2,0l-5.1,9.2zM178.9,2581.6l10.2,0l-5.1,9.2zM180.5,2581.1l10.2,0l-5.1,9.2zM182.2,2580.8l10.2,0l-5.1,9.2zM183.8,2580.6l10.2,0l-5.1,9.2zM185.4,2580.4l10.2,0l-5.1,9.2zM187.1,2580.2l10.2,0l-5.1,9.2zM188.7,2580.1l10.2,0l-5.1,9.2zM190.3,2580l10.2,0l-5.1,9.2zM192,2579.9l10.2,0l-5.1,9.2zM193.6,2579.8l10.2,0l-5.1,9.2zM195.2,2579.7l10.2,0l-5.1,9.2zM196.9,2579.6l10.2,0l-5.1,9.2zM198.5,2579.5l10.2,0l-5.1,9.2zM200.1,2579.4l10.2,0l-5.1,9.2zM201.8,2579.4l10.2,0l-5.1,9.2zM203.4,2579.3l10.2,0l-5.1,9.2zM205,2579.2l10.2,0l-5.1,9.2zM206.6,2579.2l10.2,0l-5.1,9.2zM208.3,2579.2l10.2,0l-5.1,9.2zM209.9,2579.2l10.2,0l-5.1,9.2zM211.5,2579.2l10.2,0l-5.1,9.2zM213.2,2579.2l10.2,0l-5.1,9.2zM214.8,2579.2l10.2,0l-5.1,9.2zM216.4,2579.2l10.2,0l-5.1,9.2zM218.1,2579.2l10.2,0l-5.1,9.2zM219.7,2579.2l10.2,0l-5.1,9.2zM221.3,2579.2l10.2,0l-5.1,9.2zM223,2579.2l10.2,0l-5.1,9.2zM224.6,2579.2l10.2,0l-5.1,9.2zM226.2,2579.2l10.2,0l-5.1,9.2zM227.9,2580.2l10.2,0l-5.1,9.2zM229.5,2581.6l10.2,0l-5.1,9.2zM231.1,2582.6l10.2,0l-5.1,9.2zM232.8,2583.4l10.2,0l-5.1,9.2zM234.4,2584l10.2,0l-5.1,9.2zM236,2584.6l10.2,0l-5.1,9.2zM237.7,2585l10.2,0l-5.1,9.2zM239.3,2585.3l10.2,0l-5.1,9.2zM240.9,2585.5l10.2,0l-5.1,9.2zM242.5,2585.8l10.2,0l-5.1,9.2zM244.2,2585.9l10.2,0l-5.1,9.2zM245.8,2586.1l10.2,0l-5.1,9.2zM247.4,2586.2l10.2,0l-5.1,9.2zM249.1,2586.3l10.2,0l-5.1,9.2zM250.7,2586.4l10.2,0l-5.1,9.2zM252.3,2586.5l10.2,0l-5.1,9.2zM254,2586.6l10.2,0l-5.1,9.2zM255.6,2586.7l10.2,0l-5.1,9.2zM257.2,2586.7l10.2,0l-5.1,9.2zM258.9,2586.8l10.2,0l-5.1,9.2zM260.5,2586.9l10.2,0l-5.1,9.2zM262.1,2586.9l10.2,0l-5.1,9.2zM263.8,2586.9l10.2,0l-5.1,9.2zM265.4,2587l10.2,0l-5.1,9.2zM267,2587l10.2,0l-5.1,9.2zM268.7,2587.1l10.2,0l-5.1,9.2zM270.3,2587.1l10.2,0l-5.1,9.2zM271.9,2587.1l10.2,0l-5.1,9.2zM273.6,2587.2l10.2,0l-5.1,9.2zM275.2,2587.2l10.2,0l-5.1,9.2zM276.8,2587.2l10.2,0l-5.1,9.2zM278.4,2587.2l10.2,0l-5.1,9.2zM280.1,2587.3l10.2,0l-5.1,9.2zM281.7,2587.3l10.2,0l-5.1,9.2zM283.3,2587.3l10.2,0l-5.1,9.2zM285,2587.3l10.2,0l-5.1,9.2zM286.6,2587.3l10.2,0l-5.1,9.2zM288.2,2587.4l10.2,0l-5.1,9.2zM289.9,2587.4l10.2,0l-5.1,9.2zM291.5,2587.4l10.2,0l-5.1,9.2zM293.1,2587.4l10.2,0l-5.1,9.2zM294.8,2587.4l10.2,0l-5.1,9.2zM296.4,2587.4l10.2,0l-5.1,9.2zM298,2587.5l10.2,0l-5.1,9.2zM299.7,2587.5l10.2,0l-5.1,9.2zM301.3,2587.5l10.2,0l-5.1,9.2zM302.9,2587.5l10.2,0l-5.1,9.2zM304.6,2587.6l10.2,0l-5.1,9.2zM306.2,2587.6l10.2,0l-5.1,9.2zM307.8,2587.6l10.2,0l-5.1,9.2zM309.5,2587.6l10.2,0l-5.1,9.2zM311.1,2587.6l10.2,0l-5.1,9.2zM312.7,2587.6l10.2,0l-5.1,9.2zM314.3,2587.6l10.2,0l-5.1,9.2zM316,2587.6l10.2,0l-5.1,9.2zM317.6,2587.6l10.2,0l-5.1,9.2zM330.7,2587.6l10.2,0l-5.1,9.2zM332.3,2583.1l10.2,0l-5.1,9.2zM333.9,2579.8l10.2,0l-5.1,9.2zM335.6,2577.6l10.2,0l-5.1,9.2zM337.2,2576.1l10.2,0l-5.1,9.2zM338.8,2575.2l10.2,0l-5.1,9.2zM340.5,2574.5l10.2,0l-5.1,9.2zM342.1,2574l10.2,0l-5.1,9.2zM343.7,2573.6l10.2,0l-5.1,9.2zM345.4,2573.3l10.2,0l-5.1,9.2zM347,2573.1l10.2,0l-5.1,9.2zM348.6,2572.9l10.2,0l-5.1,9.2zM350.2,2572.7l10.2,0l-5.1,9.2zM351.9,2572.5l10.2,0l-5.1,9.2zM353.5,2572.4l10.2,0l-5.1,9.2zM355.1,2572.2l10.2,0l-5.1,9.2zM356.8,2572.1l10.2,0l-5.1,9.2zM358.4,2571.9l10.2,0l-5.1,9.2zM360,2571.8l10.2,0l-5.1,9.2zM361.7,2571.6l10.2,0l-5.1,9.2zM363.3,2571.5l10.2,0l-5.1,9.2zM364.9,2571.4l10.2,0l-5.1,9.2zM366.6,2571.4l10.2,0l-5.1,9.2zM368.2,2571.4l10.2,0l-5.1,9.2zM369.8,2571.4l10.2,0l-5.1,9.2zM371.5,2571.4l10.2,0l-5.1,9.2zM373.1,2571.4l10.2,0l-5.1,9.2zM374.7,2571.4l10.2,0l-5.1,9.2zM376.4,2571.4l10.2,0l-5.1,9.2zM378,2571.4l10.2,0l-5.1,9.2zM379.6,2571.4l10.2,0l-5.1,9.2zM381.3,2571.4l10.2,0l-5.1,9.2zM382.9,2571.4l10.2,0l-5.1,9.2zM384.5,2571.4l10.2,0l-5.1,9.2zM386.1,2571.6l10.2,0l-5.1,9.2zM387.8,2574.5l10.2,0l-5.1,9.2zM389.4,2576.9l10.2,0l-5.1,9.2zM391,2578.7l10.2,0l-5.1,9.2zM392.7,2580.1l10.2,0l-5.1,9.2zM394.3,2581.2l10.2,0l-5.1,9.2zM395.9,2582.1l10.2,0l-5.1,9.2zM397.6,2582.8l10.2,0l-5.1,9.2zM399.2,2583.3l10.2,0l-5.1,9.2zM400.8,2583.8l10.2,0l-5.1,9.2zM402.5,2584.2l10.2,0l-5.1,9.2zM404.1,2584.5l10.2,0l-5.1,9.2zM405.7,2584.8l10.2,0l-5.1,9.2zM407.4,2585l10.2,0l-5.1,9.2zM409,2585.3l10.2,0l-5.1,9.2zM410.6,2585.4l10.2,0l-5.1,9.2zM412.3,2585.6l10.2,0l-5.1,9.2zM413.9,2585.7l10.2,0l-5.1,9.2zM415.5,2585.9l10.2,0l-5.1,9.2zM417.2,2586l10.2,0l-5.1,9.2zM418.8,2586.1l10.2,0l-5.1,9.2zM420.4,2586.2l10.2,0l-5.1,9.2zM422,2586.3l10.2,0l-5.1,9.2zM423.7,2586.4l10.2,0l-5.1,9.2zM425.3,2586.4l10.2,0l-5.1,9.2zM426.9,2586.5l10.2,0l-5.1,9.2zM428.6,2586.6l10.2,0l-5.1,9.2zM430.2,2586.7l10.2,0l-5.1,9.2zM431.8,2586.7l10.2,0l-5.1,9.2zM433.5,2586.8l10.2,0l-5.1,9.2zM435.1,2586.8l10.2,0l-5.1,9.2zM436.7,2586.9l10.2,0l-5.1,9.2zM438.4,2586.9l10.2,0l-5.1,9.2zM440,2587l10.2,0l-5.1,9.2zM441.6,2587l10.2,0l-5.1,9.2zM443.3,2587l10.2,0l-5.1,9.2zM444.9,2587.1l10.2,0l-5.1,9.2zM446.5,2587.1l10.2,0l-5.1,9.2zM448.2,2587.1l10.2,0l-5.1,9.2zM449.8,2587.2l10.2,0l-5.1,9.2zM451.4,2587.2l10.2,0l-5.1,9.2zM453.1,2587.2l10.2,0l-5.1,9.2zM454.7,2587.2l10.2,0l-5.1,9.2zM456.3,2587.3l10.2,0l-5.1,9.2zM457.9,2587.3l10.2,0l-5.1,9.2zM459.6,2587.3l10.2,0l-5.1,9.2zM461.2,2587.3l10.2,0l-5.1,9.2zM462.8,2587.3l10.2,0l-5.1,9.2zM464.5,2587.4l10.2,0l-5.1,9.2zM466.1,2587.4l10.2,0l-5.1,9.2zM467.7,2587.4l10.2,0l-5.1,9.2zM469.4,2587.5l10.2,0l-5.1,9.2zM471,2587.5l10.2,0l-5.1,9.2zM472.6,2587.5l10.2,0l-5.1,9.2zM474.3,2587.6l10.2,0l-5.1,9.2zM475.9,2587.6l10.2,0l-5.1,9.2zM477.5,2587.6l10.2,0l-5.1,9.2zM479.2,2587.6l10.2,0l-5.1,9.2zM490.6,2587.6l10.2,0l-5.1,9.2zM492.2,2581.7l10.2,0l-5.1,9.2zM493.9,2573.5l10.2,0l-5.1,9.2zM495.5,2568.3l10.2,0l-5.1,9.2zM497.1,2565l10.2,0l-5.1,9.2zM498.7,2562.8l10.2,0l-5.1,9.2zM500.4,2561.3l10.2,0l-5.1,9.2zM502,2560.3l10.2,0l-5.1,9.2zM503.6,2559.5l10.2,0l-5.1,9.2zM505.3,2558.9l10.2,0l-5.1,9.2zM506.9,2558.4l10.2,0l-5.1,9.2zM508.5,2558l10.2,0l-5.1,9.2zM510.2,2557.7l10.2,0l-5.1,9.2zM511.8,2557.3l10.2,0l-5.1,9.2zM513.4,2557l10.2,0l-5.1,9.2zM515.1,2556.6l10.2,0l-5.1,9.2zM516.7,2556.3l10.2,0l-5.1,9.2zM518.3,2556l10.2,0l-5.1,9.2zM520,2555.7l10.2,0l-5.1,9.2zM521.6,2555.4l10.2,0l-5.1,9.2zM523.2,2555.3l10.2,0l-5.1,9.2zM524.9,2555.3l10.2,0l-5.1,9.2zM526.5,2555.3l10.2,0l-5.1,9.2zM528.1,2555.3l10.2,0l-5.1,9.2zM529.8,2555.3l10.2,0l-5.1,9.2zM531.4,2555.3l10.2,0l-5.1,9.2zM533,2555.3l10.2,0l-5.1,9.2zM534.6,2555.3l10.2,0l-5.1,9.2zM536.3,2555.3l10.2,0l-5.1,9.2zM537.9,2555.3l10.2,0l-5.1,9.2zM539.5,2555.3l10.2,0l-5.1,9.2zM541.2,2555.3l10.2,0l-5.1,9.2zM542.8,2555.7l10.2,0l-5.1,9.2zM544.4,2561.2l10.2,0l-5.1,9.2zM546.1,2565.5l10.2,0l-5.1,9.2zM547.7,2569l10.2,0l-5.1,9.2zM549.3,2571.7l10.2,0l-5.1,9.2zM551,2573.9l10.2,0l-5.1,9.2zM552.6,2575.7l10.2,0l-5.1,9.2zM554.2,2577.2l10.2,0l-5.1,9.2zM555.9,2578.4l10.2,0l-5.1,9.2zM557.5,2579.3l10.2,0l-5.1,9.2zM559.1,2580.2l10.2,0l-5.1,9.2zM560.8,2580.9l10.2,0l-5.1,9.2zM562.4,2581.5l10.2,0l-5.1,9.2zM564,2582l10.2,0l-5.1,9.2zM565.7,2582.4l10.2,0l-5.1,9.2zM567.3,2582.8l10.2,0l-5.1,9.2zM568.9,2583.1l10.2,0l-5.1,9.2zM570.5,2583.5l10.2,0l-5.1,9.2zM572.2,2583.7l10.2,0l-5.1,9.2zM573.8,2584l10.2,0l-5.1,9.2zM575.4,2584.2l10.2,0l-5.1,9.2zM577.1,2584.4l10.2,0l-5.1,9.2zM578.7,2584.6l10.2,0l-5.1,9.2zM580.3,2584.8l10.2,0l-5.1,9.2zM582,2585l10.2,0l-5.1,9.2zM583.6,2585.1l10.2,0l-5.1,9.2zM585.2,2585.3l10.2,0l-5.1,9.2zM586.9,2585.4l10.2,0l-5.1,9.2zM588.5,2585.5l10.2,0l-5.1,9.2zM590.1,2585.6l10.2,0l-5.1,9.2zM591.8,2585.8l10.2,0l-5.1,9.2zM593.4,2585.9l10.2,0l-5.1,9.2zM595,2586l10.2,0l-5.1,9.2zM596.7,2586.1l10.2,0l-5.1,9.2zM598.3,2586.1l10.2,0l-5.1,9.2zM599.9,2586.2l10.2,0l-5.1,9.2zM601.6,2586.3l10.2,0l-5.1,9.2zM603.2,2586.4l10.2,0l-5.1,9.2zM604.8,2586.4l10.2,0l-5.1,9.2zM606.4,2586.5l10.2,0l-5.1,9.2zM608.1,2586.6l10.2,0l-5.1,9.2zM609.7,2586.6l10.2,0l-5.1,9.2zM611.3,2586.7l10.2,0l-5.1,9.2zM613,2586.7l10.2,0l-5.1,9.2zM614.6,2586.8l10.2,0l-5.1,9.2zM616.2,2586.8l10.2,0l-5.1,9.2zM617.9,2586.9l10.2,0l-5.1,9.2zM619.5,2586.9l10.2,0l-5.1,9.2zM621.1,2587l10.2,0l-5.1,9.2zM622.8,2587l10.2,0l-5.1,9.2zM624.4,2587.1l10.2,0l-5.1,9.2zM626,2587.2l10.2,0l-5.1,9.2zM627.7,2587.3l10.2,0l-5.1,9.2zM629.3,2587.4l10.2,0l-5.1,9.2zM630.9,2587.4l10.2,0l-5.1,9.2zM632.6,2587.5l10.2,0l-5.1,9.2zM634.2,2587.5l10.2,0l-5.1,9.2zM635.8,2587.6l10.2,0l-5.1,9.2zM637.5,2587.6l10.2,0l-5.1,9.2zM648.9,2587.6l10.2,0l-5.1,9.2zM650.5,2573l10.2,0l-5.1,9.2zM652.1,2559l10.2,0l-5.1,9.2zM653.8,2549.5l10.2,0l-5.1,9.2zM655.4,2543l10.2,0l-5.1,9.2zM657,2538.5l10.2,0l-5.1,9.2zM658.7,2535.4l10.2,0l-5.1,9.2zM660.3,2533l10.2,0l-5.1,9.2zM661.9,2531.3l10.2,0l-5.1,9.2zM663.6,2530l10.2,0l-5.1,9.2zM665.2,2528.9l10.2,0l-5.1,9.2zM666.8,2527.9l10.2,0l-5.1,9.2zM668.5,2527.1l10.2,0l-5.1,9.2zM670.1,2526.4l10.2,0l-5.1,9.2zM671.7,2525.6l10.2,0l-5.1,9.2zM673.4,2525l10.2,0l-5.1,9.2zM675,2524.3l10.2,0l-5.1,9.2zM676.6,2523.7l10.2,0l-5.1,9.2zM678.2,2523.1l10.2,0l-5.1,9.2zM679.9,2522.4l10.2,0l-5.1,9.2zM681.5,2522.1l10.2,0l-5.1,9.2zM683.1,2522.1l10.2,0l-5.1,9.2zM684.8,2522l10.2,0l-5.1,9.2zM686.4,2522l10.2,0l-5.1,9.2zM688,2522l10.2,0l-5.1,9.2zM689.7,2522l10.2,0l-5.1,9.2zM691.3,2522l10.2,0l-5.1,9.2zM692.9,2522l10.2,0l-5.1,9.2zM694.6,2522l10.2,0l-5.1,9.2zM696.2,2522l10.2,0l-5.1,9.2zM697.8,2522l10.2,0l-5.1,9.2zM699.5,2522l10.2,0l-5.1,9.2zM701.1,2522l10.2,0l-5.1,9.2zM702.7,2527.4l10.2,0l-5.1,9.2zM704.4,2536.9l10.2,0l-5.1,9.2zM706,2544.6l10.2,0l-5.1,9.2zM707.6,2550.7l10.2,0l-5.1,9.2zM709.3,2555.8l10.2,0l-5.1,9.2zM710.9,2559.9l10.2,0l-5.1,9.2zM712.5,2563.2l10.2,0l-5.1,9.2zM714.1,2566l10.2,0l-5.1,9.2zM715.8,2568.3l10.2,0l-5.1,9.2zM717.4,2570.3l10.2,0l-5.1,9.2zM719,2571.9l10.2,0l-5.1,9.2zM720.7,2573.3l10.2,0l-5.1,9.2zM722.3,2574.5l10.2,0l-5.1,9.2zM723.9,2575.6l10.2,0l-5.1,9.2zM725.6,2576.5l10.2,0l-5.1,9.2zM727.2,2577.3l10.2,0l-5.1,9.2zM728.8,2578l10.2,0l-5.1,9.2zM730.5,2578.6l10.2,0l-5.1,9.2zM732.1,2579.2l10.2,0l-5.1,9.2zM733.7,2579.7l10.2,0l-5.1,9.2zM735.4,2580.2l10.2,0l-5.1,9.2zM737,2580.6l10.2,0l-5.1,9.2zM738.6,2581l10.2,0l-5.1,9.2zM740.3,2581.4l10.2,0l-5.1,9.2zM741.9,2581.7l10.2,0l-5.1,9.2zM743.5,2582.1l10.2,0l-5.1,9.2zM745.2,2582.4l10.2,0l-5.1,9.2zM746.8,2582.7l10.2,0l-5.1,9.2zM748.4,2582.9l10.2,0l-5.1,9.2zM750,2583.2l10.2,0l-5.1,9.2zM751.7,2583.4l10.2,0l-5.1,9.2zM753.3,2583.6l10.2,0l-5.1,9.2zM754.9,2583.8l10.2,0l-5.1,9.2zM756.6,2584l10.2,0l-5.1,9.2zM758.2,2584.2l10.2,0l-5.1,9.2zM759.8,2584.4l10.2,0l-5.1,9.2zM761.5,2584.6l10.2,0l-5.1,9.2zM763.1,2584.7l10.2,0l-5.1,9.2zM764.7,2584.9l10.2,0l-5.1,9.2zM766.4,2585l10.2,0l-5.1,9.2zM768,2585.2l10.2,0l-5.1,9.2zM769.6,2585.3l10.2,0l-5.1,9.2zM771.3,2585.4l10.2,0l-5.1,9.2zM772.9,2585.5l10.2,0l-5.1,9.2zM774.5,2585.6l10.2,0l-5.1,9.2zM776.2,2585.7l10.2,0l-5.1,9.2zM777.8,2585.9l10.2,0l-5.1,9.2zM779.4,2586.2l10.2,0l-5.1,9.2zM781.1,2586.4l10.2,0l-5.1,9.2z" fill="#000" stroke="none" stroke-width="1" />
<path d="M153,2592.2 154.6,2592.2 156.3,2592.2 157.9,2592.2 159.5,2592.2 161.2,2592.2 162.8,2592.2 164.4,2592.2 166.1,2592.2 177.5,2590.3 179.1,2587.4 180.7,2585.3 182.4,2583.9 184,2582.9 185.6,2582.2 187.3,2581.7 188.9,2581.3 190.5,2581 192.2,2580.7 193.8,2580.5 195.4,2580.3 197.1,2580.2 198.7,2580.1 200.3,2579.9 202,2579.8 203.6,2579.7 205.2,2579.5 206.9,2579.4 208.5,2579.3 210.1,2579.2 211.7,2579.2 213.4,2579.2 215,2579.2 216.6,2579.2 218.3,2579.2 219.9,2579.2 221.5,2579.2 223.2,2579.2 224.8,2579.2 226.4,2579.2 228.1,2579.2 229.7,2579.2 231.3,2579.2 233,2580.8 234.6,2582.8 236.2,2584.4 237.9,2585.7 239.5,2586.7 241.1,2587.5 242.8,2588.1 244.4,2588.6 246,2589 247.6,2589.3 249.3,2589.6 250.9,2589.9 252.5,2590.1 254.2,2590.2 255.8,2590.4 257.4,2590.5 259.1,2590.6 260.7,2590.8 262.3,2590.9 264,2590.9 265.6,2591 267.2,2591.1 268.9,2591.2 270.5,2591.2 272.1,2591.3 273.8,2591.4 275.4,2591.4 277,2591.5 278.7,2591.5 280.3,2591.5 281.9,2591.6 283.5,2591.6 285.2,2591.7 286.8,2591.7 288.4,2591.7 290.1,2591.8 291.7,2591.8 293.3,2591.8 295,2591.8 296.6,2591.9 298.2,2591.9 299.9,2591.9 301.5,2591.9 303.1,2592 304.8,2592 306.4,2592.1 308,2592.1 309.7,2592.1 311.3,2592.1 312.9,2592.2 314.6,2592.2 316.2,2592.2 317.8,2592.2 319.4,2592.2 321.1,2592.2 322.7,2592.2 335.8,2592.2 337.4,2585.2 339,2580.1 340.7,2576.7 342.3,2574.4 343.9,2572.9 345.6,2571.8 347.2,2571.1 348.8,2570.5 350.5,2570.1 352.1,2569.7 353.7,2569.4 355.3,2569.1 357,2568.9 358.6,2568.6 360.2,2568.4 361.9,2568.1 363.5,2567.9 365.1,2567.7 366.8,2567.5 368.4,2567.2 370,2567.1 371.7,2567.1 373.3,2567.1 374.9,2567.1 376.6,2567.1 378.2,2567.1 379.8,2567.1 381.5,2567.1 383.1,2567.1 384.7,2567.1 386.4,2567.1 388,2567.1 389.6,2567.1 391.2,2567.3 392.9,2571.9 394.5,2575.5 396.1,2578.3 397.8,2580.5 399.4,2582.2 401,2583.6 402.7,2584.7 404.3,2585.6 405.9,2586.3 407.6,2586.9 409.2,2587.4 410.8,2587.9 412.5,2588.2 414.1,2588.5 415.7,2588.8 417.4,2589.1 419,2589.3 420.6,2589.5 422.3,2589.7 423.9,2589.9 425.5,2590 427.1,2590.1 428.8,2590.3 430.4,2590.4 432,2590.5 433.7,2590.6 435.3,2590.7 436.9,2590.8 438.6,2590.9 440.2,2591 441.8,2591 443.5,2591.1 445.1,2591.2 446.7,2591.2 448.4,2591.3 450,2591.4 451.6,2591.4 453.3,2591.5 454.9,2591.5 456.5,2591.5 458.2,2591.6 459.8,2591.6 461.4,2591.7 463,2591.7 464.7,2591.7 466.3,2591.8 467.9,2591.8 469.6,2591.8 471.2,2591.9 472.8,2591.9 474.5,2592 476.1,2592 477.7,2592.1 479.4,2592.1 481,2592.1 482.6,2592.2 484.3,2592.2 495.7,2592.2 497.3,2583 499,2570.3 500.6,2562.3 502.2,2557.1 503.8,2553.7 505.5,2551.4 507.1,2549.8 508.7,2548.6 510.4,2547.7 512,2547 513.6,2546.3 515.3,2545.8 516.9,2545.2 518.5,2544.7 520.2,2544.2 521.8,2543.7 523.4,2543.2 525.1,2542.7 526.7,2542.3 528.3,2542.1 530,2542.1 531.6,2542.1 533.2,2542.1 534.9,2542.1 536.5,2542.1 538.1,2542.1 539.7,2542.1 541.4,2542.1 543,2542.1 544.6,2542.1 546.3,2542.1 547.9,2542.7 549.5,2551.2 551.2,2558 552.8,2563.3 554.4,2567.6 556.1,2571 557.7,2573.8 559.3,2576 561,2577.9 562.6,2579.4 564.2,2580.7 565.9,2581.7 567.5,2582.7 569.1,2583.5 570.8,2584.1 572.4,2584.8 574,2585.3 575.6,2585.8 577.3,2586.2 578.9,2586.6 580.5,2586.9 582.2,2587.3 583.8,2587.6 585.4,2587.8 587.1,2588.1 588.7,2588.3 590.3,2588.6 592,2588.8 593.6,2589 595.2,2589.2 596.9,2589.3 598.5,2589.5 600.1,2589.6 601.8,2589.8 603.4,2589.9 605,2590.1 606.7,2590.2 608.3,2590.3 609.9,2590.4 611.5,2590.5 613.2,2590.6 614.8,2590.7 616.4,2590.8 618.1,2590.8 619.7,2590.9 621.3,2591 623,2591.1 624.6,2591.1 626.2,2591.2 627.9,2591.3 629.5,2591.5 631.1,2591.6 632.8,2591.7 634.4,2591.8 636,2591.9 637.7,2592 639.3,2592.1 640.9,2592.1 642.6,2592.2 654,2592.2 655.6,2569.5 657.2,2547.8 658.9,2533.1 660.5,2523.1 662.1,2516.1 663.8,2511.2 665.4,2507.6 667,2504.9 668.7,2502.8 670.3,2501.1 671.9,2499.7 673.6,2498.4 675.2,2497.2 676.8,2496.2 678.5,2495.1 680.1,2494.1 681.7,2493.1 683.3,2492.1 685,2491.2 686.6,2490.6 688.2,2490.6 689.9,2490.6 691.5,2490.6 693.1,2490.6 694.8,2490.6 696.4,2490.6 698,2490.6 699.7,2490.6 701.3,2490.6 702.9,2490.6 704.6,2490.6 706.2,2490.6 707.8,2498.9 709.5,2513.6 711.1,2525.5 712.7,2535 714.4,2542.8 716,2549.2 717.6,2554.4 719.2,2558.7 720.9,2562.3 722.5,2565.3 724.1,2567.9 725.8,2570 727.4,2571.9 729,2573.5 730.7,2574.9 732.3,2576.2 733.9,2577.3 735.6,2578.3 737.2,2579.1 738.8,2580 740.5,2580.7 742.1,2581.4 743.7,2582 745.4,2582.6 747,2583.1 748.6,2583.6 750.3,2584.1 751.9,2584.5 753.5,2584.9 755.1,2585.3 756.8,2585.7 758.4,2586 760,2586.4 761.7,2586.7 763.3,2587 764.9,2587.2 766.6,2587.5 768.2,2587.7 769.8,2588 771.5,2588.2 773.1,2588.4 774.7,2588.6 776.4,2588.8 778,2589 779.6,2589.1 781.3,2589.3 782.9,2589.6 784.5,2590 786.2,2590.4" fill="none" stroke="#666" stroke-width="1" stroke-dasharray="2 5"/>
<g fill="#fff" stroke="#000" stroke-width="1.9">
<circle cx="153" cy="2592.2" r="3.8"/>
<circle cx="154.6" cy="2592.2" r="3.8"/>
<circle cx="156.3" cy="2592.2" r="3.8"/>
<circle cx="157.9" cy="2592.2" r="3.8"/>
<circle cx="159.5" cy="2592.2" r="3.8"/>
<circle cx="161.2" cy="2592.2" r="3.8"/>
<circle cx="162.8" cy="2592.2" r="3.8"/>
<circle cx="164.4" cy="2592.2" r="3.8"/>
<circle cx="166.1" cy="2592.2" r="3.8"/>
<circle cx="177.5" cy="2590.3" r="3.8"/>
<circle cx="179.1" cy="2587.4" r="3.8"/>
<circle cx="180.7" cy="2585.3" r="3.8"/>
<circle cx="182.4" cy="2583.9" r="3.8"/>
<circle cx="184" cy="2582.9" r="3.8"/>
<circle cx="185.6" cy="2582.2" r="3.8"/>
<circle cx="187.3" cy="2581.7" r="3.8"/>
<circle cx="188.9" cy="2581.3" r="3.8"/>
<circle cx="190.5" cy="2581" r="3.8"/>
<circle cx="192.2" cy="2580.7" r="3.8"/>
<circle cx="193.8" cy="2580.5" r="3.8"/>
<circle cx="195.4" cy="2580.3" r="3.8"/>
<circle cx="197.1" cy="2580.2" r="3.8"/>
<circle cx="198.7" cy="2580.1" r="3.8"/>
<circle cx="200.3" cy="2579.9" r="3.8"/>
<circle cx="202" cy="2579.8" r="3.8"/>
<circle cx="203.6" cy="2579.7" r="3.8"/>
<circle cx="205.2" cy="2579.5" r="3.8"/>
<circle cx="206.9" cy="2579.4" r="3.8"/>
<circle cx="208.5" cy="2579.3" r="3.8"/>
<circle cx="210.1" cy="2579.2" r="3.8"/>
<circle cx="211.7" cy="2579.2" r="3.8"/>
<circle cx="213.4" cy="2579.2" r="3.8"/>
<circle cx="215" cy="2579.2" r="3.8"/>
<circle cx="216.6" cy="2579.2" r="3.8"/>
<circle cx="218.3" cy="2579.2" r="3.8"/>
<circle cx="219.9" cy="2579.2" r="3.8"/>
<circle cx="221.5" cy="2579.2" r="3.8"/>
<circle cx="223.2" cy="2579.2" r="3.8"/>
<circle cx="224.8" cy="2579.2" r="3.8"/>
<circle cx="226.4" cy="2579.2" r="3.8"/>
<circle cx="228.1" cy="2579.2" r="3.8"/>
<circle cx="229.7" cy="2579.2" r="3.8"/>
<circle cx="231.3" cy="2579.2" r="3.8"/>
<circle cx="233" cy="2580.8" r="3.8"/>
<circle cx="234.6" cy="2582.8" r="3.8"/>
<circle cx="236.2" cy="2584.4" r="3.8"/>
<circle cx="237.9" cy="2585.7" r="3.8"/>
<circle cx="239.5" cy="2586.7" r="3.8"/>
<circle cx="241.1" cy="2587.5" r="3.8"/>
<circle cx="242.8" cy="2588.1" r="3.8"/>
<circle cx="244.4" cy="2588.6" r="3.8"/>
<circle cx="246" cy="2589" r="3.8"/>
<circle cx="247.6" cy="2589.3" r="3.8"/>
<circle cx="249.3" cy="2589.6" r="3.8"/>
<circle cx="250.9" cy="2589.9" r="3.8"/>
<circle cx="252.5" cy="2590.1" r="3.8"/>
<circle cx="254.2" cy="2590.2" r="3.8"/>
<circle cx="255.8" cy="2590.4" r="3.8"/>
<circle cx="257.4" cy="2590.5" r="3.8"/>
<circle cx="259.1" cy="2590.6" r="3.8"/>
<circle cx="260.7" cy="2590.8" r="3.8"/>
<circle cx="262.3" cy="2590.9" r="3.8"/>
<circle cx="264" cy="2590.9" r="3.8"/>
<circle cx="265.6" cy="2591" r="3.8"/>
<circle cx="267.2" cy="2591.1" r="3.8"/>
<circle cx="268.9" cy="2591.2" r="3.8"/>
<circle cx="270.5" cy="2591.2" r="3.8"/>
<circle cx="272.1" cy="2591.3" r="3.8"/>
<circle cx="273.8" cy="2591.4" r="3.8"/>
<circle cx="275.4" cy="2591.4" r="3.8"/>
<circle cx="277" cy="2591.5" r="3.8"/>
<circle cx="278.7" cy="2591.5" r="3.8"/>
<circle cx="280.3" cy="2591.5" r="3.8"/>
<circle cx="281.9" cy="2591.6" r="3.8"/>
<circle cx="283.5" cy="2591.6" r="3.8"/>
<circle cx="285.2" cy="2591.7" r="3.8"/>
<circle cx="286.8" cy="2591.7" r="3.8"/>
<circle cx="288.4" cy="2591.7" r="3.8"/>
<circle cx="290.1" cy="2591.8" r="3.8"/>
<circle cx="291.7" cy="2591.8" r="3.8"/>
<circle cx="293.3" cy="2591.8" r="3.8"/>
<circle cx="295" cy="2591.8" r="3.8"/>
<circle cx="296.6" cy="2591.9" r="3.8"/>
<circle cx="298.2" cy="2591.9" r="3.8"/>
<circle cx="299.9" cy="2591.9" r="3.8"/>
<circle cx="301.5" cy="2591.9" r="3.8"/>
<circle cx="303.1" cy="2592" r="3.8"/>
<circle cx="304.8" cy="2592" r="3.8"/>
<circle cx="306.4" cy="2592.1" r="3.8"/>
<circle cx="308" cy="2592.1" r="3.8"/>
<circle cx="309.7" cy="2592.1" r="3.8"/>
<circle cx="311.3" cy="2592.1" r="3.8"/>
<circle cx="312.9" cy="2592.2" r="3.8"/>
<circle cx="314.6" cy="2592.2" r="3.8"/>
<circle cx="316.2" cy="2592.2" r="3.8"/>
<circle cx="317.8" cy="2592.2" r="3.8"/>
<circle cx="319.4" cy="2592.2" r="3.8"/>
<circle cx="321.1" cy="2592.2" r="3.8"/>
<circle cx="322.7" cy="2592.2" r="3.8"/>
<circle cx="335.8" cy="2592.2" r="3.8"/>
<circle cx="337.4" cy="2585.2" r="3.8"/>
<circle cx="339" cy="2580.1" r="3.8"/>
<circle cx="340.7" cy="2576.7" r="3.8"/>
<circle cx="342.3" cy="2574.4" r="3.8"/>
<circle cx="343.9" cy="2572.9" r="3.8"/>
<circle cx="345.6" cy="2571.8" r="3.8"/>
<circle cx="347.2" cy="2571.1" r="3.8"/>
<circle cx="348.8" cy="2570.5" r="3.8"/>
<circle cx="350.5" cy="2570.1" r="3.8"/>
<circle cx="352.1" cy="2569.7" r="3.8"/>
<circle cx="353.7" cy="2569.4" r="3.8"/>
<circle cx="355.3" cy="2569.1" r="3.8"/>
<circle cx="357" cy="2568.9" r="3.8"/>
<circle cx="358.6" cy="2568.6" r="3.8"/>
<circle cx="360.2" cy="2568.4" r="3.8"/>
<circle cx="361.9" cy="2568.1" r="3.8"/>
<circle cx="363.5" cy="2567.9" r="3.8"/>
<circle cx="365.1" cy="2567.7" r="3.8"/>
<circle cx="366.8" cy="2567.5" r="3.8"/>
<circle cx="368.4" cy="2567.2" r="3.8"/>
<circle cx="370" cy="2567.1" r="3.8"/>
<circle cx="371.7" cy="2567.1" r="3.8"/>
<circle cx="373.3" cy="2567.1" r="3.8"/>
<circle cx="374.9" cy="2567.1" r="3.8"/>
<circle cx="376.6" cy="2567.1" r="3.8"/>
<circle cx="378.2" cy="2567.1" r="3.8"/>
<circle cx="379.8" cy="2567.1" r="3.8"/>
<circle cx="381.5" cy="2567.1" r="3.8"/>
<circle cx="383.1" cy="2567.1" r="3.8"/>
<circle cx="384.7" cy="2567.1" r="3.8"/>
<circle cx="386.4" cy="2567.1" r="3.8"/>
<circle cx="388" cy="2567.1" r="3.8"/>
<circle cx="389.6" cy="2567.1" r="3.8"/>
<circle cx="391.2" cy="2567.3" r="3.8"/>
<circle cx="392.9" cy="2571.9" r="3.8"/>
<circle cx="394.5" cy="2575.5" r="3.8"/>
<circle cx="396.1" cy="2578.3" r="3.8"/>
<circle cx="397.8" cy="2580.5" r="3.8"/>
<circle cx="399.4" cy="2582.2" r="3.8"/>
<circle cx="401" cy="2583.6" r="3.8"/>
<circle cx="402.7" cy="2584.7" r="3.8"/>
<circle cx="404.3" cy="2585.6" r="3.8"/>
<circle cx="405.9" cy="2586.3" r="3.8"/>
<circle cx="407.6" cy="2586.9" r="3.8"/>
<circle cx="409.2" cy="2587.4" r="3.8"/>
<circle cx="410.8" cy="2587.9" r="3.8"/>
<circle cx="412.5" cy="2588.2" r="3.8"/>
<circle cx="414.1" cy="2588.5" r="3.8"/>
<circle cx="415.7" cy="2588.8" r="3.8"/>
<circle cx="417.4" cy="2589.1" r="3.8"/>
<circle cx="419" cy="2589.3" r="3.8"/>
<circle cx="420.6" cy="2589.5" r="3.8"/>
<circle cx="422.3" cy="2589.7" r="3.8"/>
<circle cx="423.9" cy="2589.9" r="3.8"/>
<circle cx="425.5" cy="2590" r="3.8"/>
<circle cx="427.1" cy="2590.1" r="3.8"/>
<circle cx="428.8" cy="2590.3" r="3.8"/>
<circle cx="430.4" cy="2590.4" r="3.8"/>
<circle cx="432" cy="2590.5" r="3.8"/>
<circle cx="433.7" cy="2590.6" r="3.8"/>
<circle cx="435.3" cy="2590.7" r="3.8"/>
<circle cx="436.9" cy="2590.8" r="3.8"/>
<circle cx="438.6" cy="2590.9" r="3.8"/>
<circle cx="440.2" cy="2591" r="3.8"/>
<circle cx="441.8" cy="2591" r="3.8"/>
<circle cx="443.5" cy="2591.1" r="3.8"/>
<circle cx="445.1" cy="2591.2" r="3.8"/>
<circle cx="446.7" cy="2591.2" r="3.8"/>
<circle cx="448.4" cy="2591.3" r="3.8"/>
<circle cx="450" cy="2591.4" r="3.8"/>
<circle cx="451.6" cy="2591.4" r="3.8"/>
<circle cx="453.3" cy="2591.5" r="3.8"/>
<circle cx="454.9" cy="2591.5" r="3.8"/>
<circle cx="456.5" cy="2591.5" r="3.8"/>
<circle cx="458.2" cy="2591.6" r="3.8"/>
<circle cx="459.8" cy="2591.6" r="3.8"/>
<circle cx="461.4" cy="2591.7" r="3.8"/>
<circle cx="463" cy="2591.7" r="3.8"/>
<circle cx="464.7" cy="2591.7" r="3.8"/>
<circle cx="466.3" cy="2591.8" r="3.8"/>
<circle cx="467.9" cy="2591.8" r="3.8"/>
<circle cx="469.6" cy="2591.8" r="3.8"/>
<circle cx="471.2" cy="2591.9" r="3.8"/>
<circle cx="472.8" cy="2591.9" r="3.8"/>
<circle cx="474.5" cy="2592" r="3.8"/>
<circle cx="476.1" cy="2592" r="3.8"/>
<circle cx="477.7" cy="2592.1" r="3.8"/>
<circle cx="479.4" cy="2592.1" r="3.8"/>
<circle cx="481" cy="2592.1" r="3.8"/>
<circle cx="482.6" cy="2592.2" r="3.8"/>
<circle cx="484.3" cy="2592.2" r="3.8"/>
<circle cx="495.7" cy="2592.2" r="3.8"/>
<circle cx="497.3" cy="2583" r="3.8"/>
<circle cx="499" cy="2570.3" r="3.8"/>
<circle cx="500.6" cy="2562.3" r="3.8"/>
<circle cx="502.2" cy="2557.1" r="3.8"/>
<circle cx="503.8" cy="2553.7" r="3.8"/>
<circle cx="505.5" cy="2551.4" r="3.8"/>
<circle cx="507.1" cy="2549.8" r="3.8"/>
<circle cx="508.7" cy="2548.6" r="3.8"/>
<circle cx="510.4" cy="2547.7" r="3.8"/>
<circle cx="512" cy="2547" r="3.8"/>
<circle cx="513.6" cy="2546.3" r="3.8"/>
<circle cx="515.3" cy="2545.8" r="3.8"/>
<circle cx="516.9" cy="2545.2" r="3.8"/>
<circle cx="518.5" cy="2544.7" r="3.8"/>
<circle cx="520.2" cy="2544.2" r="3.8"/>
<circle cx="521.8" cy="2543.7" r="3.8"/>
<circle cx="523.4" cy="2543.2" r="3.8"/>
<circle cx="525.1" cy="2542.7" r="3.8"/>
<circle cx="526.7" cy="2542.3" r="3.8"/>
<circle cx="528.3" cy="2542.1" r="3.8"/>
<circle cx="530" cy="2542.1" r="3.8"/>
<circle cx="531.6" cy="2542.1" r="3.8"/>
<circle cx="533.2" cy="2542.1" r="3.8"/>
<circle cx="534.9" cy="2542.1" r="3.8"/>
<circle cx="536.5" cy="2542.1" r="3.8"/>
<circle cx="538.1" cy="2542.1" r="3.8"/>
<circle cx="539.7" cy="2542.1" r="3.8"/>
<circle cx="541.4" cy="2542.1" r="3.8"/>
<circle cx="543" cy="2542.1" r="3.8"/>
<circle cx="544.6" cy="2542.1" r="3.8"/>
<circle cx="546.3" cy="2542.1" r="3.8"/>
<circle cx="547.9" cy="2542.7" r="3.8"/>
<circle cx="549.5" cy="2551.2" r="3.8"/>
<circle cx="551.2" cy="2558" r="3.8"/>
<circle cx="552.8" cy="2563.3" r="3.8"/>
<circle cx="554.4" cy="2567.6" r="3.8"/>
<circle cx="556.1" cy="2571" r="3.8"/>
<circle cx="557.7" cy="2573.8" r="3.8"/>
<circle cx="559.3" cy="2576" r="3.8"/>
<circle cx="561" cy="2577.9" r="3.8"/>
<circle cx="562.6" cy="2579.4" r="3.8"/>
<circle cx="564.2" cy="2580.7" r="3.8"/>
<circle cx="565.9" cy="2581.7" r="3.8"/>
<circle cx="567.5" cy="2582.7" r="3.8"/>
<circle cx="569.1" cy="2583.5" r="3.8"/>
<circle cx="570.8" cy="2584.1" r="3.8"/>
<circle cx="572.4" cy="2584.8" r="3.8"/>
<circle cx="574" cy="2585.3" r="3.8"/>
<circle cx="575.6" cy="2585.8" r="3.8"/>
<circle cx="577.3" cy="2586.2" r="3.8"/>
<circle cx="578.9" cy="2586.6" r="3.8"/>
<circle cx="580.5" cy="2586.9" r="3.8"/>
<circle cx="582.2" cy="2587.3" r="3.8"/>
<circle cx="583.8" cy="2587.6" r="3.8"/>
<circle cx="585.4" cy="2587.8" r="3.8"/>
<circle cx="587.1" cy="2588.1" r="3.8"/>
<circle cx="588.7" cy="2588.3" r="3.8"/>
<circle cx="590.3" cy="2588.6" r="3.8"/>
<circle cx="592" cy="2588.8" r="3.8"/>
<circle cx="593.6" cy="2589" r="3.8"/>
<circle cx="595.2" cy="2589.2" r="3.8"/>
<circle cx="596.9" cy="2589.3" r="3.8"/>
<circle cx="598.5" cy="2589.5" r="3.8"/>
<circle cx="600.1" cy="2589.6" r="3.8"/>
<circle cx="601.8" cy="2589.8" r="3.8"/>
<circle cx="603.4" cy="2589.9" r="3.8"/>
<circle cx="605" cy="2590.1" r="3.8"/>
<circle cx="606.7" cy="2590.2" r="3.8"/>
<circle cx="608.3" cy="2590.3" r="3.8"/>
<circle cx="609.9" cy="2590.4" r="3.8"/>
<circle cx="611.5" cy="2590.5" r="3.8"/>
<circle cx="613.2" cy="2590.6" r="3.8"/>
<circle cx="614.8" cy="2590.7" r="3.8"/>
<circle cx="616.4" cy="2590.8" r="3.8"/>
<circle cx="618.1" cy="2590.8" r="3.8"/>
<circle cx="619.7" cy="2590.9" r="3.8"/>
<circle cx="621.3" cy="2591" r="3.8"/>
<circle cx="623" cy="2591.1" r="3.8"/>
<circle cx="624.6" cy="2591.1" r="3.8"/>
<circle cx="626.2" cy="2591.2" r="3.8"/>
<circle cx="627.9" cy="2591.3" r="3.8"/>
<circle cx="629.5" cy="2591.5" r="3.8"/>
<circle cx="631.1" cy="2591.6" r="3.8"/>
<circle cx="632.8" cy="2591.7" r="3.8"/>
<circle cx="634.4" cy="2591.8" r="3.8"/>
<circle cx="636" cy="2591.9" r="3.8"/>
<circle cx="637.7" cy="2592" r="3.8"/>
<circle cx="639.3" cy="2592.1" r="3.8"/>
<circle cx="640.9" cy="2592.1" r="3.8"/>
<circle cx="642.6" cy="2592.2" r="3.8"/>
<circle cx="654" cy="2592.2" r="3.8"/>
<circle cx="655.6" cy="2569.5" r="3.8"/>
<circle cx="657.2" cy="2547.8" r="3.8"/>
<circle cx="658.9" cy="2533.1" r="3.8"/>
<circle cx="660.5" cy="2523.1" r="3.8"/>
<circle cx="662.1" cy="2516.1" r="3.8"/>
<circle cx="663.8" cy="2511.2" r="3.8"/>
<circle cx="665.4" cy="2507.6" r="3.8"/>
<circle cx="667" cy="2504.9" r="3.8"/>
<circle cx="668.7" cy="2502.8" r="3.8"/>
<circle cx="670.3" cy="2501.1" r="3.8"/>
<circle cx="671.9" cy="2499.7" r="3.8"/>
<circle cx="673.6" cy="2498.4" r="3.8"/>
<circle cx="675.2" cy="2497.2" r="3.8"/>
<circle cx="676.8" cy="2496.2" r="3.8"/>
<circle cx="678.5" cy="2495.1" r="3.8"/>
<circle cx="680.1" cy="2494.1" r="3.8"/>
<circle cx="681.7" cy="2493.1" r="3.8"/>
<circle cx="683.3" cy="2492.1" r="3.8"/>
<circle cx="685" cy="2491.2" r="3.8"/>
<circle cx="686.6" cy="2490.6" r="3.8"/>
<circle cx="688.2" cy="2490.6" r="3.8"/>
<circle cx="689.9" cy="2490.6" r="3.8"/>
<circle cx="691.5" cy="2490.6" r="3.8"/>
<circle cx="693.1" cy="2490.6" r="3.8"/>
<circle cx="694.8" cy="2490.6" r="3.8"/>
<circle cx="696.4" cy="2490.6" r="3.8"/>
<circle cx="698" cy="2490.6" r="3.8"/>
<circle cx="699.7" cy="2490.6" r="3.8"/>
<circle cx="701.3" cy="2490.6" r="3.8"/>
<circle cx="702.9" cy="2490.6" r="3.8"/>
<circle cx="704.6" cy="2490.6" r="3.8"/>
<circle cx="706.2" cy="2490.6" r="3.8"/>
<circle cx="707.8" cy="2498.9" r="3.8"/>
<circle cx="709.5" cy="2513.6" r="3.8"/>
<circle cx="711.1" cy="2525.5" r="3.8"/>
<circle cx="712.7" cy="2535" r="3.8"/>
<circle cx="714.4" cy="2542.8" r="3.8"/>
<circle cx="716" cy="2549.2" r="3.8"/>
<circle cx="717.6" cy="2554.4" r="3.8"/>
<circle cx="719.2" cy="2558.7" r="3.8"/>
<circle cx="720.9" cy="2562.3" r="3.8"/>
<circle cx="722.5" cy="2565.3" r="3.8"/>
<circle cx="724.1" cy="2567.9" r="3.8"/>
<circle cx="725.8" cy="2570" r="3.8"/>
<circle cx="727.4" cy="2571.9" r="3.8"/>
<circle cx="729" cy="2573.5" r="3.8"/>
<circle cx="730.7" cy="2574.9" r="3.8"/>
<circle cx="732.3" cy="2576.2" r="3.8"/>
<circle cx="733.9" cy="2577.3" r="3.8"/>
<circle cx="735.6" cy="2578.3" r="3.8"/>
<circle cx="737.2" cy="2579.1" r="3.8"/>
<circle cx="738.8" cy="2580" r="3.8"/>
<circle cx="740.5" cy="2580.7" r="3.8"/>
<circle cx="742.1" cy="2581.4" r="3.8"/>
<circle cx="743.7" cy="2582" r="3.8"/>
<circle cx="745.4" cy="2582.6" r="3.8"/>
<circle cx="747" cy="2583.1" r="3.8"/>
<circle cx="748.6" cy="2583.6" r="3.8"/>
<circle cx="750.3" cy="2584.1" r="3.8"/>
<circle cx="751.9" cy="2584.5" r="3.8"/>
<circle cx="753.5" cy="2584.9" r="3.8"/>
<circle cx="755.1" cy="2585.3" r="3.8"/>
<circle cx="756.8" cy="2585.7" r="3.8"/>
<circle cx="758.4" cy="2586" r="3.8"/>
<circle cx="760" cy="2586.4" r="3.8"/>
<circle cx="761.7" cy="2586.7" r="3.8"/>
<circle cx="763.3" cy="2587" r="3.8"/>
<circle cx="764.9" cy="2587.2" r="3.8"/>
<circle cx="766.6" cy="2587.5" r="3.8"/>
<circle cx="768.2" cy="2587.7" r="3.8"/>
<circle cx="769.8" cy="2588" r="3.8"/>
<circle cx="771.5" cy="2588.2" r="3.8"/>
<circle cx="773.1" cy="2588.4" r="3.8"/>
<circle cx="774.7" cy="2588.6" r="3.8"/>
<circle cx="776.4" cy="2588.8" r="3.8"/>
<circle cx="778" cy="2589" r="3.8"/>
<circle cx="779.6" cy="2589.1" r="3.8"/>
<circle cx="781.3" cy="2589.3" r="3.8"/>
<circle cx="782.9" cy="2589.6" r="3.8"/>
<circle cx="784.5" cy="2590" r="3.8"/>
<circle cx="786.2" cy="2590.4" r="3.8"/>
</g>
<path d="M153,2592.2 154.6,2592.2 156.3,2592.2 157.9,2592.2 159.5,2592.2 161.2,2592.2 162.8,2592.2 164.4,2592.2 166.1,2592.2 177.5,2586.1 179.1,2576.6 180.7,2570 182.4,2565.4 184,2562.2 185.6,2559.9 187.3,2558.2 188.9,2556.9 190.5,2556 192.2,2555.2 193.8,2554.5 195.4,2554 197.1,2553.5 198.7,2553 200.3,2552.6 202,2552.2 203.6,2551.8 205.2,2551.4 206.9,2551 208.5,2550.6 210.1,2550.3 211.7,2550.3 213.4,2550.3 215,2550.3 216.6,2550.3 218.3,2550.3 219.9,2550.3 221.5,2550.3 223.2,2550.3 224.8,2550.3 226.4,2550.3 228.1,2550.3 229.7,2550.3 231.3,2550.3 233,2555.3 234.6,2562 236.2,2567.2 237.9,2571.2 239.5,2574.4 241.1,2576.9 242.8,2578.9 244.4,2580.5 246,2581.9 247.6,2583 249.3,2583.9 250.9,2584.6 252.5,2585.3 254.2,2585.9 255.8,2586.4 257.4,2586.8 259.1,2587.2 260.7,2587.5 262.3,2587.9 264,2588.2 265.6,2588.4 267.2,2588.7 268.9,2588.9 270.5,2589.1 272.1,2589.3 273.8,2589.5 275.4,2589.7 277,2589.8 278.7,2590 280.3,2590.1 281.9,2590.2 283.5,2590.3 285.2,2590.5 286.8,2590.6 288.4,2590.7 290.1,2590.8 291.7,2590.8 293.3,2590.9 295,2591 296.6,2591.1 298.2,2591.1 299.9,2591.2 301.5,2591.3 303.1,2591.5 304.8,2591.6 306.4,2591.7 308,2591.8 309.7,2591.9 311.3,2592 312.9,2592.1 314.6,2592.1 316.2,2592.2 317.8,2592.2 319.4,2592.2 321.1,2592.2 322.7,2592.2 335.8,2592.2 337.4,2569.7 339,2553.1 340.7,2542.2 342.3,2534.9 343.9,2530 345.6,2526.5 347.2,2524.1 348.8,2522.3 350.5,2520.8 352.1,2519.6 353.7,2518.6 355.3,2517.7 357,2516.9 358.6,2516.1 360.2,2515.3 361.9,2514.6 363.5,2513.8 365.1,2513.1 366.8,2512.4 368.4,2511.7 370,2511.4 371.7,2511.4 373.3,2511.4 374.9,2511.4 376.6,2511.4 378.2,2511.4 379.8,2511.4 381.5,2511.4 383.1,2511.4 384.7,2511.4 386.4,2511.4 388,2511.4 389.6,2511.4 391.2,2511.9 392.9,2526.9 394.5,2538.4 396.1,2547.4 397.8,2554.5 399.4,2560 401,2564.4 402.7,2568 404.3,2570.8 405.9,2573.2 407.6,2575.1 409.2,2576.8 410.8,2578.2 412.5,2579.4 414.1,2580.4 415.7,2581.3 417.4,2582.1 419,2582.8 420.6,2583.5 422.3,2584.1 423.9,2584.6 425.5,2585.1 427.1,2585.6 428.8,2586 430.4,2586.4 432,2586.8 433.7,2587.1 435.3,2587.4 436.9,2587.7 438.6,2588 440.2,2588.2 441.8,2588.5 443.5,2588.7 445.1,2588.9 446.7,2589.1 448.4,2589.3 450,2589.5 451.6,2589.7 453.3,2589.8 454.9,2590 456.5,2590.1 458.2,2590.2 459.8,2590.3 461.4,2590.5 463,2590.6 464.7,2590.7 466.3,2590.8 467.9,2590.8 469.6,2591 471.2,2591.2 472.8,2591.4 474.5,2591.5 476.1,2591.7 477.7,2591.8 479.4,2591.9 481,2592 482.6,2592.1 484.3,2592.2 495.7,2592.2 497.3,2562.5 499,2521.6 500.6,2495.7 502.2,2479 503.8,2468 505.5,2460.7 507.1,2455.5 508.7,2451.7 510.4,2448.8 512,2446.4 513.6,2444.3 515.3,2442.4 516.9,2440.7 518.5,2439 520.2,2437.4 521.8,2435.8 523.4,2434.2 525.1,2432.6 526.7,2431.1 528.3,2430.5 530,2430.5 531.6,2430.5 533.2,2430.5 534.9,2430.5 536.5,2430.5 538.1,2430.5 539.7,2430.5 541.4,2430.5 543,2430.5 544.6,2430.5 546.3,2430.5 547.9,2432.5 549.5,2460 551.2,2481.8 552.8,2499 554.4,2512.8 556.1,2523.8 557.7,2532.7 559.3,2540 561,2545.9 562.6,2550.9 564.2,2555 565.9,2558.5 567.5,2561.4 569.1,2564 570.8,2566.2 572.4,2568.2 574,2569.9 575.6,2571.4 577.3,2572.8 578.9,2574.1 580.5,2575.2 582.2,2576.3 583.8,2577.3 585.4,2578.2 587.1,2579 588.7,2579.8 590.3,2580.5 592,2581.2 593.6,2581.8 595.2,2582.4 596.9,2582.9 598.5,2583.5 600.1,2584 601.8,2584.4 603.4,2584.9 605,2585.3 606.7,2585.7 608.3,2586 609.9,2586.4 611.5,2586.7 613.2,2587 614.8,2587.3 616.4,2587.6 618.1,2587.8 619.7,2588.1 621.3,2588.3 623,2588.5 624.6,2588.7 626.2,2588.9 627.9,2589.3 629.5,2589.8 631.1,2590.2 632.8,2590.6 634.4,2590.9 636,2591.2 637.7,2591.5 639.3,2591.8 640.9,2592 642.6,2592.2 654,2592.2 655.6,2518.9 657.2,2448.9 658.9,2401.6 660.5,2369.2 662.1,2346.8 663.8,2330.9 665.4,2319.4 667,2310.7 668.7,2304 670.3,2298.5 671.9,2293.8 673.6,2289.7 675.2,2285.9 676.8,2282.4 678.5,2279 680.1,2275.8 681.7,2272.6 683.3,2269.5 685,2266.3 686.6,2264.4 688.2,2264.4 689.9,2264.4 691.5,2264.4 693.1,2264.4 694.8,2264.4 696.4,2264.4 698,2264.4 699.7,2264.4 701.3,2264.4 702.9,2264.4 704.6,2264.4 706.2,2264.4 707.8,2291.3 709.5,2338.7 711.1,2376.9 712.7,2407.8 714.4,2433 716,2453.5 717.6,2470.3 719.2,2484.2 720.9,2495.8 722.5,2505.5 724.1,2513.7 725.8,2520.7 727.4,2526.7 729,2531.9 730.7,2536.5 732.3,2540.5 733.9,2544 735.6,2547.2 737.2,2550.1 738.8,2552.7 740.5,2555.1 742.1,2557.3 743.7,2559.3 745.4,2561.2 747,2562.9 748.6,2564.5 750.3,2566 751.9,2567.4 753.5,2568.8 755.1,2570 756.8,2571.2 758.4,2572.3 760,2573.3 761.7,2574.3 763.3,2575.3 764.9,2576.2 766.6,2577 768.2,2577.8 769.8,2578.5 771.5,2579.2 773.1,2579.9 774.7,2580.5 776.4,2581.1 778,2581.7 779.6,2582.3 781.3,2582.8 782.9,2583.7 784.5,2585.1 786.2,2586.3" fill="none" stroke="#111" stroke-width="1.4" />
<path d="M153,2592.2h0M154.6,2592.2h0M156.3,2592.2h0M157.9,2592.2h0M159.5,2592.2h0M161.2,2592.2h0M162.8,2592.2h0M164.4,2592.2h0M166.1,2592.2h0M177.5,2586.1h0M179.1,2576.6h0M180.7,2570h0M182.4,2565.4h0M184,2562.2h0M185.6,2559.9h0M187.3,2558.2h0M188.9,2556.9h0M190.5,2556h0M192.2,2555.2h0M193.8,2554.5h0M195.4,2554h0M197.1,2553.5h0M198.7,2553h0M200.3,2552.6h0M202,2552.2h0M203.6,2551.8h0M205.2,2551.4h0M206.9,2551h0M208.5,2550.6h0M210.1,2550.3h0M211.7,2550.3h0M213.4,2550.3h0M215,2550.3h0M216.6,2550.3h0M218.3,2550.3h0M219.9,2550.3h0M221.5,2550.3h0M223.2,2550.3h0M224.8,2550.3h0M226.4,2550.3h0M228.1,2550.3h0M229.7,2550.3h0M231.3,2550.3h0M233,2555.3h0M234.6,2562h0M236.2,2567.2h0M237.9,2571.2h0M239.5,2574.4h0M241.1,2576.9h0M242.8,2578.9h0M244.4,2580.5h0M246,2581.9h0M247.6,2583h0M249.3,2583.9h0M250.9,2584.6h0M252.5,2585.3h0M254.2,2585.9h0M255.8,2586.4h0M257.4,2586.8h0M259.1,2587.2h0M260.7,2587.5h0M262.3,2587.9h0M264,2588.2h0M265.6,2588.4h0M267.2,2588.7h0M268.9,2588.9h0M270.5,2589.1h0M272.1,2589.3h0M273.8,2589.5h0M275.4,2589.7h0M277,2589.8h0M278.7,2590h0M280.3,2590.1h0M281.9,2590.2h0M283.5,2590.3h0M285.2,2590.5h0M286.8,2590.6h0M288.4,2590.7h0M290.1,2590.8h0M291.7,2590.8h0M293.3,2590.9h0M295,2591h0M296.6,2591.1h0M298.2,2591.1h0M299.9,2591.2h0M301.5,2591.3h0M303.1,2591.5h0M304.8,2591.6h0M306.4,2591.7h0M308,2591.8h0M309.7,2591.9h0M311.3,2592h0M312.9,2592.1h0M314.6,2592.1h0M316.2,2592.2h0M317.8,2592.2h0M319.4,2592.2h0M321.1,2592.2h0M322.7,2592.2h0M335.8,2592.2h0M337.4,2569.7h0M339,2553.1h0M340.7,2542.2h0M342.3,2534.9h0M343.9,2530h0M345.6,2526.5h0M347.2,2524.1h0M348.8,2522.3h0M350.5,2520.8h0M352.1,2519.6h0M353.7,2518.6h0M355.3,2517.7h0M357,2516.9h0M358.6,2516.1h0M360.2,2515.3h0M361.9,2514.6h0M363.5,2513.8h0M365.1,2513.1h0M366.8,2512.4h0M368.4,2511.7h0M370,2511.4h0M371.7,2511.4h0M373.3,2511.4h0M374.9,2511.4h0M376.6,2511.4h0M378.2,2511.4h0M379.8,2511.4h0M381.5,2511.4h0M383.1,2511.4h0M384.7,2511.4h0M386.4,2511.4h0M388,2511.4h0M389.6,2511.4h0M391.2,2511.9h0M392.9,2526.9h0M394.5,2538.4h0M396.1,2547.4h0M397.8,2554.5h0M399.4,2560h0M401,2564.4h0M402.7,2568h0M404.3,2570.8h0M405.9,2573.2h0M407.6,2575.1h0M409.2,2576.8h0M410.8,2578.2h0M412.5,2579.4h0M414.1,2580.4h0M415.7,2581.3h0M417.4,2582.1h0M419,2582.8h0M420.6,2583.5h0M422.3,2584.1h0M423.9,2584.6h0M425.5,2585.1h0M427.1,2585.6h0M428.8,2586h0M430.4,2586.4h0M432,2586.8h0M433.7,2587.1h0M435.3,2587.4h0M436.9,2587.7h0M438.6,2588h0M440.2,2588.2h0M441.8,2588.5h0M443.5,2588.7h0M445.1,2588.9h0M446.7,2589.1h0M448.4,2589.3h0M450,2589.5h0M451.6,2589.7h0M453.3,2589.8h0M454.9,2590h0M456.5,2590.1h0M458.2,2590.2h0M459.8,2590.3h0M461.4,2590.5h0M463,2590.6h0M464.7,2590.7h0M466.3,2590.8h0M467.9,2590.8h0M469.6,2591h0M471.2,2591.2h0M472.8,2591.4h0M474.5,2591.5h0M476.1,2591.7h0M477.7,2591.8h0M479.4,2591.9h0M481,2592h0M482.6,2592.1h0M484.3,2592.2h0M495.7,2592.2h0M497.3,2562.5h0M499,2521.6h0M500.6,2495.7h0M502.2,2479h0M503.8,2468h0M505.5,2460.7h0M507.1,2455.5h0M508.7,2451.7h0M510.4,2448.8h0M512,2446.4h0M513.6,2444.3h0M515.3,2442.4h0M516.9,2440.7h0M518.5,2439h0M520.2,2437.4h0M521.8,2435.8h0M523.4,2434.2h0M525.1,2432.6h0M526.7,2431.1h0M528.3,2430.5h0M530,2430.5h0M531.6,2430.5h0M533.2,2430.5h0M534.9,2430.5h0M536.5,2430.5h0M538.1,2430.5h0M539.7,2430.5h0M541.4,2430.5h0M543,2430.5h0M544.6,2430.5h0M546.3,2430.5h0M547.9,2432.5h0M549.5,2460h0M551.2,2481.8h0M552.8,2499h0M554.4,2512.8h0M556.1,2523.8h0M557.7,2532.7h0M559.3,2540h0M561,2545.9h0M562.6,2550.9h0M564.2,2555h0M565.9,2558.5h0M567.5,2561.4h0M569.1,2564h0M570.8,2566.2h0M572.4,2568.2h0M574,2569.9h0M575.6,2571.4h0M577.3,2572.8h0M578.9,2574.1h0M580.5,2575.2h0M582.2,2576.3h0M583.8,2577.3h0M585.4,2578.2h0M587.1,2579h0M588.7,2579.8h0M590.3,2580.5h0M592,2581.2h0M593.6,2581.8h0M595.2,2582.4h0M596.9,2582.9h0M598.5,2583.5h0M600.1,2584h0M601.8,2584.4h0M603.4,2584.9h0M605,2585.3h0M606.7,2585.7h0M608.3,2586h0M609.9,2586.4h0M611.5,2586.7h0M613.2,2587h0M614.8,2587.3h0M616.4,2587.6h0M618.1,2587.8h0M619.7,2588.1h0M621.3,2588.3h0M623,2588.5h0M624.6,2588.7h0M626.2,2588.9h0M627.9,2589.3h0M629.5,2589.8h0M631.1,2590.2h0M632.8,2590.6h0M634.4,2590.9h0M636,2591.2h0M637.7,2591.5h0M639.3,2591.8h0M640.9,2592h0M642.6,2592.2h0M654,2592.2h0M655.6,2518.9h0M657.2,2448.9h0M658.9,2401.6h0M660.5,2369.2h0M662.1,2346.8h0M663.8,2330.9h0M665.4,2319.4h0M667,2310.7h0M668.7,2304h0M670.3,2298.5h0M671.9,2293.8h0M673.6,2289.7h0M675.2,2285.9h0M676.8,2282.4h0M678.5,2279h0M680.1,2275.8h0M681.7,2272.6h0M683.3,2269.5h0M685,2266.3h0M686.6,2264.4h0M688.2,2264.4h0M689.9,2264.4h0M691.5,2264.4h0M693.1,2264.4h0M694.8,2264.4h0M696.4,2264.4h0M698,2264.4h0M699.7,2264.4h0M701.3,2264.4h0M702.9,2264.4h0M704.6,2264.4h0M706.2,2264.4h0M707.8,2291.3h0M709.5,2338.7h0M711.1,2376.9h0M712.7,2407.8h0M714.4,2433h0M716,2453.5h0M717.6,2470.3h0M719.2,2484.2h0M720.9,2495.8h0M722.5,2505.5h0M724.1,2513.7h0M725.8,2520.7h0M727.4,2526.7h0M729,2531.9h0M730.7,2536.5h0M732.3,2540.5h0M733.9,2544h0M735.6,2547.2h0M737.2,2550.1h0M738.8,2552.7h0M740.5,2555.1h0M742.1,2557.3h0M743.7,2559.3h0M745.4,2561.2h0M747,2562.9h0M748.6,2564.5h0M750.3,2566h0M751.9,2567.4h0M753.5,2568.8h0M755.1,2570h0M756.8,2571.2h0M758.4,2572.3h0M760,2573.3h0M761.7,2574.3h0M763.3,2575.3h0M764.9,2576.2h0M766.6,2577h0M768.2,2577.8h0M769.8,2578.5h0M771.5,2579.2h0M773.1,2579.9h0M774.7,2580.5h0M776.4,2581.1h0M778,2581.7h0M779.6,2582.3h0M781.3,2582.8h0M782.9,2583.7h0M784.5,2585.1h0M786.2,2586.3h0" fill="none" stroke="#000" stroke-width="10.4" stroke-linecap="round"/>
<line x1="204.5" y1="2237.4" x2="265" y2="2237.4" stroke="#111" stroke-width="1.6" />
<path d="M234,2237.4h0" fill="none" stroke="#000" stroke-width="10.4" stroke-linecap="round"/>
<text stroke="#000" stroke-width="0.3" font-size="25.4" transform="translate(280 2245.8) scale(0.999 1)">Methanol</text>
<line x1="204.5" y1="2269.6" x2="265" y2="2269.6" stroke="#777" stroke-width="1.6" stroke-dasharray="2 4"/>
<g fill="#fff" stroke="#000" stroke-width="1.9">
<circle cx="234" cy="2269.6" r="4.2"/>
</g>
<text stroke="#000" stroke-width="0.3" font-size="25.4" transform="translate(280 2278) scale(0.999 1)">Ethanol</text>
<line x1="204.5" y1="2301.3" x2="265" y2="2301.3" stroke="#111" stroke-width="1.6" stroke-dasharray="11 6"/>
<path d="M228.3,2296.2l11.4,0l-5.7,10.3z" fill="#000" stroke="none" stroke-width="1" />
<text stroke="#000" stroke-width="0.3" font-size="25.4" transform="translate(280 2309.7) scale(0.999 1)">Acetone</text>
<text stroke="#000" stroke-width="0.3" font-size="21.8" transform="translate(190.3 2534) scale(0.996 1)">5 ppm</text>
<text stroke="#000" stroke-width="0.3" font-size="21.8" transform="translate(342.5 2492.2) scale(0.977 1)">10 ppm</text>
<text stroke="#000" stroke-width="0.3" font-size="21.8" transform="translate(501 2410) scale(0.995 1)">30 ppm</text>
<text stroke="#000" stroke-width="0.3" font-size="21.8" transform="translate(665.5 2240.7) scale(0.986 1)">50 ppm</text>
<text stroke="#000" stroke-width="0.3" font-size="29.5" font-weight="bold" text-anchor="middle" transform="translate(73 2409.7) rotate(-90) scale(1.001 1)">ΔR/R (%)</text>
<text stroke="#000" stroke-width="0.3" font-size="29" font-weight="bold" text-anchor="middle" transform="translate(483.3 2738.3) scale(0.999 1)">Time (sec)</text>
</g>
<!-- panel_k -->
<g filter="url(#blurK)">
<line x1="975.2" y1="2174.5" x2="975.2" y2="2663.4" stroke="#bbb" stroke-width="1.6" />
<line x1="973.2" y1="2174.5" x2="1655" y2="2174.5" stroke="#111" stroke-width="1.8" />
<line x1="1655" y1="2174.5" x2="1655" y2="2663.4" stroke="#333" stroke-width="1.6" />
<line x1="974.2" y1="2663.4" x2="1656" y2="2663.4" stroke="#999" stroke-width="3" />
<line x1="967.2" y1="2600.1" x2="975.2" y2="2600.1" stroke="#888" stroke-width="1.5" />
<text stroke="#000" stroke-width="0.3" font-size="22.5" text-anchor="end" x="955.5" y="2607.6">0.0</text>
<line x1="967.2" y1="2529.1" x2="975.2" y2="2529.1" stroke="#888" stroke-width="1.5" />
<text stroke="#000" stroke-width="0.3" font-size="22.5" text-anchor="end" x="955.5" y="2536.6">0.1</text>
<line x1="967.2" y1="2458.1" x2="975.2" y2="2458.1" stroke="#888" stroke-width="1.5" />
<text stroke="#000" stroke-width="0.3" font-size="22.5" text-anchor="end" x="955.5" y="2465.6">0.2</text>
<line x1="967.2" y1="2387.1" x2="975.2" y2="2387.1" stroke="#888" stroke-width="1.5" />
<text stroke="#000" stroke-width="0.3" font-size="22.5" text-anchor="end" x="955.5" y="2394.6">0.3</text>
<line x1="967.2" y1="2316.1" x2="975.2" y2="2316.1" stroke="#888" stroke-width="1.5" />
<text stroke="#000" stroke-width="0.3" font-size="22.5" text-anchor="end" x="955.5" y="2323.6">0.4</text>
<line x1="967.2" y1="2245.1" x2="975.2" y2="2245.1" stroke="#888" stroke-width="1.5" />
<text stroke="#000" stroke-width="0.3" font-size="22.5" text-anchor="end" x="955.5" y="2252.6">0.5</text>
<text stroke="#000" stroke-width="0.3" font-size="22.5" text-anchor="end" x="955.5" y="2181.6">0.6</text>
<line x1="1125.8" y1="2663.4" x2="1125.8" y2="2672.4" stroke="#333" stroke-width="1.6" />
<text stroke="#000" stroke-width="0.3" font-size="20" text-anchor="middle" x="1125.8" y="2704.8">0</text>
<line x1="1276.8" y1="2663.4" x2="1276.8" y2="2672.4" stroke="#333" stroke-width="1.6" />
<text stroke="#000" stroke-width="0.3" font-size="20" text-anchor="middle" x="1276.8" y="2704.8">100</text>
<line x1="1427.8" y1="2663.4" x2="1427.8" y2="2672.4" stroke="#333" stroke-width="1.6" />
<text stroke="#000" stroke-width="0.3" font-size="20" text-anchor="middle" x="1427.8" y="2704.8">200</text>
<line x1="1578.8" y1="2663.4" x2="1578.8" y2="2672.4" stroke="#333" stroke-width="1.6" />
<text stroke="#000" stroke-width="0.3" font-size="20" text-anchor="middle" x="1578.8" y="2704.8">300</text>
<line x1="1158" y1="2206" x2="1158" y2="2663.4" stroke="#bbb" stroke-width="1.4" stroke-dasharray="2 4"/>
<line x1="1413.2" y1="2206" x2="1413.2" y2="2663.4" stroke="#666" stroke-width="1.8" stroke-dasharray="4 3"/>
<line x1="1545.5" y1="2206" x2="1545.5" y2="2663.4" stroke="#555" stroke-width="1.8" stroke-dasharray="4 3"/>
<line x1="1167" y1="2223.6" x2="1407" y2="2223.6" stroke="#222" stroke-width="1.4" />
<path d="M1163,2223.6L1172,2220.6L1172,2226.6Z" fill="#111"/>
<path d="M1411,2223.6L1402,2226.6L1402,2220.6Z" fill="#111"/>
<text stroke="#000" stroke-width="0.3" font-size="14.5" text-anchor="middle" x="1286.4" y="2218">164 s</text>
<line x1="1420" y1="2223.6" x2="1539.5" y2="2223.6" stroke="#222" stroke-width="1.4" />
<path d="M1416,2223.6L1425,2220.6L1425,2226.6Z" fill="#111"/>
<path d="M1543.5,2223.6L1534.5,2226.6L1534.5,2220.6Z" fill="#111"/>
<text stroke="#000" stroke-width="0.3" font-size="14.5" text-anchor="middle" x="1471.4" y="2217.5">86 s</text>
<path d="M1125.8,2600.1 1140.9,2600.1 1148.5,2600.1 1156,2600.1 1174.1,2588.4 1196.8,2553.9 1258.7,2518.1 1291.9,2506.4 1328.1,2494.7 1358.3,2487.6 1385.5,2485.3 1400.6,2484.1 1406.7,2483.7 1412.7,2482.9 1417.2,2482.9 1424.8,2529.8 1473.1,2576.7 1503.3,2588.4 1518.4,2593.1 1541,2598.7 1544.1,2595.8 1548.6,2595.8 1553.1,2595.8 1557.7,2595.8 1562.2,2595.8 1566.7,2595.8 1571.2,2595.8 1575.8,2595.8 1580.3,2595.8 1593.9,2595.8 1598.4,2595.8 1603,2595.8 1607.5,2595.8 1610.5,2595.8" fill="none" stroke="#111" stroke-width="1.5" stroke-dasharray="11 6"/>
<path d="M1119.3,2594.2l13,0l-6.5,11.7zM1134.4,2594.2l13,0l-6.5,11.7zM1142,2594.2l13,0l-6.5,11.7zM1149.5,2594.2l13,0l-6.5,11.7zM1167.6,2582.5l13,0l-6.5,11.7zM1190.3,2548.1l13,0l-6.5,11.7zM1252.2,2512.2l13,0l-6.5,11.7zM1285.4,2500.5l13,0l-6.5,11.7zM1321.6,2488.8l13,0l-6.5,11.7zM1351.8,2481.8l13,0l-6.5,11.7zM1379,2479.4l13,0l-6.5,11.7zM1394.1,2478.3l13,0l-6.5,11.7zM1400.2,2477.8l13,0l-6.5,11.7zM1406.2,2477.1l13,0l-6.5,11.7zM1410.7,2477.1l13,0l-6.5,11.7zM1418.3,2524l13,0l-6.5,11.7zM1466.6,2570.8l13,0l-6.5,11.7zM1496.8,2582.5l13,0l-6.5,11.7zM1511.9,2587.2l13,0l-6.5,11.7zM1534.5,2592.8l13,0l-6.5,11.7zM1537.6,2590l13,0l-6.5,11.7zM1542.1,2590l13,0l-6.5,11.7zM1546.6,2590l13,0l-6.5,11.7zM1551.2,2590l13,0l-6.5,11.7zM1555.7,2590l13,0l-6.5,11.7zM1560.2,2590l13,0l-6.5,11.7zM1564.8,2590l13,0l-6.5,11.7zM1569.3,2590l13,0l-6.5,11.7zM1573.8,2590l13,0l-6.5,11.7zM1587.4,2590l13,0l-6.5,11.7zM1591.9,2590l13,0l-6.5,11.7zM1596.5,2590l13,0l-6.5,11.7zM1601,2590l13,0l-6.5,11.7zM1604,2590l13,0l-6.5,11.7z" fill="#000" stroke="none" stroke-width="1" />
<path d="M1125.8,2600.1 1140.9,2600.1 1148.5,2600.1 1156,2600.1 1174.1,2582.3 1196.8,2529.1 1258.7,2475.8 1291.9,2458.1 1328.1,2440.3 1358.3,2429.7 1385.5,2426.2 1400.6,2424.4 1406.7,2423.7 1412.7,2422.6 1417.2,2422.6 1424.8,2493.6 1473.1,2564.6 1503.3,2582.3 1518.4,2589.4 1541,2598 1544.1,2595.8 1548.6,2595.8 1553.1,2595.8 1557.7,2595.8 1562.2,2595.8 1566.7,2595.8 1571.2,2595.8 1575.8,2595.8 1580.3,2595.8 1593.9,2595.8 1598.4,2595.8 1603,2595.8 1607.5,2595.8 1610.5,2595.8" fill="none" stroke="#666" stroke-width="1.5" stroke-dasharray="2 5"/>
<g fill="#fff" stroke="#000" stroke-width="1.9">
<circle cx="1125.8" cy="2600.1" r="5.2"/>
<circle cx="1140.9" cy="2600.1" r="5.2"/>
<circle cx="1148.5" cy="2600.1" r="5.2"/>
<circle cx="1156" cy="2600.1" r="5.2"/>
<circle cx="1174.1" cy="2582.3" r="5.2"/>
<circle cx="1196.8" cy="2529.1" r="5.2"/>
<circle cx="1258.7" cy="2475.8" r="5.2"/>
<circle cx="1291.9" cy="2458.1" r="5.2"/>
<circle cx="1328.1" cy="2440.3" r="5.2"/>
<circle cx="1358.3" cy="2429.7" r="5.2"/>
<circle cx="1385.5" cy="2426.2" r="5.2"/>
<circle cx="1400.6" cy="2424.4" r="5.2"/>
<circle cx="1406.7" cy="2423.7" r="5.2"/>
<circle cx="1412.7" cy="2422.6" r="5.2"/>
<circle cx="1417.2" cy="2422.6" r="5.2"/>
<circle cx="1424.8" cy="2493.6" r="5.2"/>
<circle cx="1473.1" cy="2564.6" r="5.2"/>
<circle cx="1503.3" cy="2582.3" r="5.2"/>
<circle cx="1518.4" cy="2589.4" r="5.2"/>
<circle cx="1541" cy="2598" r="5.2"/>
<circle cx="1544.1" cy="2595.8" r="5.2"/>
<circle cx="1548.6" cy="2595.8" r="5.2"/>
<circle cx="1553.1" cy="2595.8" r="5.2"/>
<circle cx="1557.7" cy="2595.8" r="5.2"/>
<circle cx="1562.2" cy="2595.8" r="5.2"/>
<circle cx="1566.7" cy="2595.8" r="5.2"/>
<circle cx="1571.2" cy="2595.8" r="5.2"/>
<circle cx="1575.8" cy="2595.8" r="5.2"/>
<circle cx="1580.3" cy="2595.8" r="5.2"/>
<circle cx="1593.9" cy="2595.8" r="5.2"/>
<circle cx="1598.4" cy="2595.8" r="5.2"/>
<circle cx="1603" cy="2595.8" r="5.2"/>
<circle cx="1607.5" cy="2595.8" r="5.2"/>
<circle cx="1610.5" cy="2595.8" r="5.2"/>
</g>
<path d="M1125.8,2600.1 1140.9,2600.1 1148.5,2600.1 1156,2600.1 1174.1,2564.6 1196.8,2458.1 1258.7,2351.6 1291.9,2316.1 1328.1,2280.6 1358.3,2259.3 1385.5,2252.2 1400.6,2248.7 1406.7,2247.2 1412.7,2245.1 1417.2,2245.1 1424.8,2387.1 1473.1,2529.1 1503.3,2564.6 1518.4,2578.8 1541,2595.8 1544.1,2595.8 1548.6,2595.8 1553.1,2595.8 1557.7,2595.8 1562.2,2595.8 1566.7,2595.8 1571.2,2595.8 1575.8,2595.8 1580.3,2595.8 1593.9,2595.8 1598.4,2595.8 1603,2595.8 1607.5,2595.8 1610.5,2595.8" fill="none" stroke="#111" stroke-width="1.6" />
<path d="M1125.8,2600.1h0M1140.9,2600.1h0M1148.5,2600.1h0M1156,2600.1h0M1174.1,2564.6h0M1196.8,2458.1h0M1258.7,2351.6h0M1291.9,2316.1h0M1328.1,2280.6h0M1358.3,2259.3h0M1385.5,2252.2h0M1400.6,2248.7h0M1406.7,2247.2h0M1412.7,2245.1h0M1417.2,2245.1h0M1424.8,2387.1h0M1473.1,2529.1h0M1503.3,2564.6h0M1518.4,2578.8h0M1541,2595.8h0M1544.1,2595.8h0M1548.6,2595.8h0M1553.1,2595.8h0M1557.7,2595.8h0M1562.2,2595.8h0M1566.7,2595.8h0M1571.2,2595.8h0M1575.8,2595.8h0M1580.3,2595.8h0M1593.9,2595.8h0M1598.4,2595.8h0M1603,2595.8h0M1607.5,2595.8h0M1610.5,2595.8h0" fill="none" stroke="#000" stroke-width="12.4" stroke-linecap="round"/>
<line x1="989" y1="2210.2" x2="1050.5" y2="2210.2" stroke="#111" stroke-width="1.6" />
<path d="M1019,2210.2h0" fill="none" stroke="#000" stroke-width="12.4" stroke-linecap="round"/>
<text stroke="#000" stroke-width="0.3" font-size="22.5" transform="translate(1065.6 2217.6) scale(1.002 1)">Methanol</text>
<line x1="989" y1="2243.1" x2="1050.5" y2="2243.1" stroke="#777" stroke-width="1.6" stroke-dasharray="2 4"/>
<g fill="#fff" stroke="#000" stroke-width="1.9">
<circle cx="1019" cy="2243.1" r="5.2"/>
</g>
<text stroke="#000" stroke-width="0.3" font-size="22.5" transform="translate(1065.6 2250.5) scale(1.002 1)">Ethanol</text>
<line x1="989" y1="2276" x2="1050.5" y2="2276" stroke="#111" stroke-width="1.6" stroke-dasharray="11 6"/>
<path d="M1012.3,2270l13.4,0l-6.7,12.1z" fill="#000" stroke="none" stroke-width="1" />
<text stroke="#000" stroke-width="0.3" font-size="22.5" transform="translate(1065.6 2283.4) scale(1.002 1)">Acetone</text>
<text stroke="#000" stroke-width="0.3" font-size="30" font-weight="bold" text-anchor="middle" transform="translate(904.7 2420.8) rotate(-90) scale(1.000 1)">ΔR/R (%)</text>
<text stroke="#000" stroke-width="0.3" font-size="22" font-weight="bold" text-anchor="middle" transform="translate(1315.4 2747.7) scale(1.011 1)">Time (sec)</text>
</g>
<!-- panel_l -->
<g filter="url(#blurL)">
<rect x="1795.4" y="2175.3" width="677.6" height="487.7" fill="none" stroke="#2a2a2a" stroke-width="1.9"/>
<line x1="2430" y1="2661.5" x2="2473" y2="2661.5" stroke="#888" stroke-width="2" />
<line x1="1787.4" y1="2612.9" x2="1795.4" y2="2612.9" stroke="#555" stroke-width="1.5" />
<text stroke="#000" stroke-width="0.3" font-size="22.5" text-anchor="end" transform="translate(1775 2620.4) scale(0.889 1)">0</text>
<line x1="1787.4" y1="2558.2" x2="1795.4" y2="2558.2" stroke="#555" stroke-width="1.5" />
<text stroke="#000" stroke-width="0.3" font-size="22.5" text-anchor="end" transform="translate(1775 2565.7) scale(0.889 1)">2</text>
<line x1="1787.4" y1="2503.5" x2="1795.4" y2="2503.5" stroke="#555" stroke-width="1.5" />
<text stroke="#000" stroke-width="0.3" font-size="22.5" text-anchor="end" transform="translate(1775 2511) scale(0.889 1)">4</text>
<line x1="1787.4" y1="2448.7" x2="1795.4" y2="2448.7" stroke="#555" stroke-width="1.5" />
<text stroke="#000" stroke-width="0.3" font-size="22.5" text-anchor="end" transform="translate(1775 2456.2) scale(0.889 1)">6</text>
<line x1="1787.4" y1="2394" x2="1795.4" y2="2394" stroke="#555" stroke-width="1.5" />
<text stroke="#000" stroke-width="0.3" font-size="22.5" text-anchor="end" transform="translate(1775 2401.5) scale(0.889 1)">8</text>
<line x1="1787.4" y1="2339.3" x2="1795.4" y2="2339.3" stroke="#555" stroke-width="1.5" />
<text stroke="#000" stroke-width="0.3" font-size="22.5" text-anchor="end" transform="translate(1775 2346.8) scale(0.889 1)">10</text>
<line x1="1787.4" y1="2284.6" x2="1795.4" y2="2284.6" stroke="#555" stroke-width="1.5" />
<text stroke="#000" stroke-width="0.3" font-size="22.5" text-anchor="end" transform="translate(1775 2292.1) scale(0.889 1)">12</text>
<line x1="1787.4" y1="2229.9" x2="1795.4" y2="2229.9" stroke="#555" stroke-width="1.5" />
<text stroke="#000" stroke-width="0.3" font-size="22.5" text-anchor="end" transform="translate(1775 2237.4) scale(0.889 1)">14</text>
<text stroke="#000" stroke-width="0.3" font-size="22.5" text-anchor="end" transform="translate(1775 2182.6) scale(0.889 1)">16</text>
<line x1="1956" y1="2663" x2="1956" y2="2671" stroke="#444" stroke-width="1.6" />
<text stroke="#000" stroke-width="0.3" font-size="22.5" text-anchor="middle" transform="translate(1956 2702.6) scale(0.889 1)">0</text>
<line x1="2085.2" y1="2663" x2="2085.2" y2="2671" stroke="#444" stroke-width="1.6" />
<text stroke="#000" stroke-width="0.3" font-size="22.5" text-anchor="middle" transform="translate(2085.2 2702.6) scale(0.889 1)">20</text>
<line x1="2214.4" y1="2663" x2="2214.4" y2="2671" stroke="#444" stroke-width="1.6" />
<text stroke="#000" stroke-width="0.3" font-size="22.5" text-anchor="middle" transform="translate(2214.4 2702.6) scale(0.889 1)">40</text>
<line x1="2343.6" y1="2663" x2="2343.6" y2="2671" stroke="#444" stroke-width="1.6" />
<text stroke="#000" stroke-width="0.3" font-size="22.5" text-anchor="middle" transform="translate(2343.6 2702.6) scale(0.889 1)">60</text>
<line x1="2472.8" y1="2663" x2="2472.8" y2="2671" stroke="#444" stroke-width="1.6" />
<text stroke="#000" stroke-width="0.3" font-size="22.5" text-anchor="middle" transform="translate(2472.8 2702.6) scale(0.889 1)">80</text>
<line x1="2019.2" y1="2202" x2="2019.2" y2="2663" stroke="#bbb" stroke-width="1.6" stroke-dasharray="3 3"/>
<line x1="2094.9" y1="2202" x2="2094.9" y2="2663" stroke="#333" stroke-width="1.6" stroke-dasharray="3 3"/>
<line x1="2151.7" y1="2202" x2="2151.7" y2="2663" stroke="#bbb" stroke-width="1.6" stroke-dasharray="3 3"/>
<line x1="2357.2" y1="2202" x2="2357.2" y2="2663" stroke="#222" stroke-width="1.6" stroke-dasharray="3 3"/>
<line x1="2025" y1="2220.7" x2="2089" y2="2220.7" stroke="#444" stroke-width="1.3" />
<path d="M2021,2220.7L2030,2217.7L2030,2223.7Z" fill="#111"/>
<path d="M2093,2220.7L2084,2223.7L2084,2217.7Z" fill="#111"/>
<text stroke="#000" stroke-width="0.3" font-size="14.5" text-anchor="middle" x="2062.3" y="2214">12 s</text>
<line x1="2162.3" y1="2223.6" x2="2351" y2="2223.6" stroke="#444" stroke-width="1.3" />
<path d="M2158.3,2223.6L2167.3,2220.6L2167.3,2226.6Z" fill="#111"/>
<path d="M2355,2223.6L2346,2226.6L2346,2220.6Z" fill="#111"/>
<text stroke="#000" stroke-width="0.3" font-size="14.5" text-anchor="middle" x="2260" y="2219">32 s</text>
<path d="M1956,2612.9 1968.9,2612.9 1981.8,2612.9 2020.6,2612.9 2027.1,2595.4 2033.5,2584.4 2040,2577.3 2046.4,2559.8 2052.9,2549.2 2059.4,2546.7 2065.8,2545.6 2072.3,2544 2078.7,2541.8 2085.2,2540.1 2091.7,2539 2098.1,2538.5 2104.6,2538.5 2111,2538.5 2117.5,2538.5 2124,2538.5 2130.4,2538.5 2149.8,2538.5 2156.3,2549.2 2162.7,2559.8 2169.2,2563.4 2175.6,2570.5 2182.1,2577.3 2201.5,2588.3 2214.4,2591.6 2233.8,2595.1 2246.7,2598.1 2266.1,2601.4 2279,2602.2 2291.9,2605.8 2304.8,2607.7 2330.7,2609.3 2343.6,2611.3 2350.1,2612.6 2356.5,2612.9 2369.4,2612.9 2408.2,2612.9" fill="none" stroke="#111" stroke-width="1.5" stroke-dasharray="11 6"/>
<path d="M1949.5,2607.1l13,0l-6.5,11.7zM1962.4,2607.1l13,0l-6.5,11.7zM1975.3,2607.1l13,0l-6.5,11.7zM2014.1,2607.1l13,0l-6.5,11.7zM2020.6,2589.5l13,0l-6.5,11.7zM2027,2578.6l13,0l-6.5,11.7zM2033.5,2571.5l13,0l-6.5,11.7zM2039.9,2554l13,0l-6.5,11.7zM2046.4,2543.3l13,0l-6.5,11.7zM2052.9,2540.8l13,0l-6.5,11.7zM2059.3,2539.7l13,0l-6.5,11.7zM2065.8,2538.1l13,0l-6.5,11.7zM2072.2,2535.9l13,0l-6.5,11.7zM2078.7,2534.3l13,0l-6.5,11.7zM2085.2,2533.2l13,0l-6.5,11.7zM2091.6,2532.6l13,0l-6.5,11.7zM2098.1,2532.6l13,0l-6.5,11.7zM2104.5,2532.6l13,0l-6.5,11.7zM2111,2532.6l13,0l-6.5,11.7zM2117.5,2532.6l13,0l-6.5,11.7zM2123.9,2532.6l13,0l-6.5,11.7zM2143.3,2532.6l13,0l-6.5,11.7zM2149.8,2543.3l13,0l-6.5,11.7zM2156.2,2554l13,0l-6.5,11.7zM2162.7,2557.5l13,0l-6.5,11.7zM2169.1,2564.6l13,0l-6.5,11.7zM2175.6,2571.5l13,0l-6.5,11.7zM2195,2582.4l13,0l-6.5,11.7zM2207.9,2585.7l13,0l-6.5,11.7zM2227.3,2589.3l13,0l-6.5,11.7zM2240.2,2592.3l13,0l-6.5,11.7zM2259.6,2595.6l13,0l-6.5,11.7zM2272.5,2596.4l13,0l-6.5,11.7zM2285.4,2599.9l13,0l-6.5,11.7zM2298.3,2601.9l13,0l-6.5,11.7zM2324.2,2603.5l13,0l-6.5,11.7zM2337.1,2605.4l13,0l-6.5,11.7zM2343.6,2606.8l13,0l-6.5,11.7zM2350,2607.1l13,0l-6.5,11.7zM2362.9,2607.1l13,0l-6.5,11.7zM2401.7,2607.1l13,0l-6.5,11.7z" fill="#000" stroke="none" stroke-width="1" />
<path d="M1956,2612.9 1968.9,2612.9 1981.8,2612.9 2020.6,2612.9 2027.1,2585.8 2033.5,2568.9 2040,2557.9 2046.4,2530.9 2052.9,2514.4 2059.4,2510.6 2065.8,2508.9 2072.3,2506.4 2078.7,2503 2085.2,2500.5 2091.7,2498.8 2098.1,2497.9 2104.6,2497.9 2111,2497.9 2117.5,2497.9 2124,2497.9 2130.4,2497.9 2149.8,2497.9 2156.3,2514.4 2162.7,2530.9 2169.2,2536.4 2175.6,2547.4 2182.1,2557.9 2201.5,2574.9 2214.4,2579.9 2233.8,2585.4 2246.7,2590.1 2266.1,2595.1 2279,2596.4 2291.9,2601.9 2304.8,2604.9 2330.7,2607.4 2343.6,2610.4 2350.1,2612.5 2356.5,2612.9 2369.4,2612.9 2408.2,2612.9" fill="none" stroke="#666" stroke-width="1.5" stroke-dasharray="2 5"/>
<g fill="#fff" stroke="#000" stroke-width="1.9">
<circle cx="1956" cy="2612.9" r="5.2"/>
<circle cx="1968.9" cy="2612.9" r="5.2"/>
<circle cx="1981.8" cy="2612.9" r="5.2"/>
<circle cx="2020.6" cy="2612.9" r="5.2"/>
<circle cx="2027.1" cy="2585.8" r="5.2"/>
<circle cx="2033.5" cy="2568.9" r="5.2"/>
<circle cx="2040" cy="2557.9" r="5.2"/>
<circle cx="2046.4" cy="2530.9" r="5.2"/>
<circle cx="2052.9" cy="2514.4" r="5.2"/>
<circle cx="2059.4" cy="2510.6" r="5.2"/>
<circle cx="2065.8" cy="2508.9" r="5.2"/>
<circle cx="2072.3" cy="2506.4" r="5.2"/>
<circle cx="2078.7" cy="2503" r="5.2"/>
<circle cx="2085.2" cy="2500.5" r="5.2"/>
<circle cx="2091.7" cy="2498.8" r="5.2"/>
<circle cx="2098.1" cy="2497.9" r="5.2"/>
<circle cx="2104.6" cy="2497.9" r="5.2"/>
<circle cx="2111" cy="2497.9" r="5.2"/>
<circle cx="2117.5" cy="2497.9" r="5.2"/>
<circle cx="2124" cy="2497.9" r="5.2"/>
<circle cx="2130.4" cy="2497.9" r="5.2"/>
<circle cx="2149.8" cy="2497.9" r="5.2"/>
<circle cx="2156.3" cy="2514.4" r="5.2"/>
<circle cx="2162.7" cy="2530.9" r="5.2"/>
<circle cx="2169.2" cy="2536.4" r="5.2"/>
<circle cx="2175.6" cy="2547.4" r="5.2"/>
<circle cx="2182.1" cy="2557.9" r="5.2"/>
<circle cx="2201.5" cy="2574.9" r="5.2"/>
<circle cx="2214.4" cy="2579.9" r="5.2"/>
<circle cx="2233.8" cy="2585.4" r="5.2"/>
<circle cx="2246.7" cy="2590.1" r="5.2"/>
<circle cx="2266.1" cy="2595.1" r="5.2"/>
<circle cx="2279" cy="2596.4" r="5.2"/>
<circle cx="2291.9" cy="2601.9" r="5.2"/>
<circle cx="2304.8" cy="2604.9" r="5.2"/>
<circle cx="2330.7" cy="2607.4" r="5.2"/>
<circle cx="2343.6" cy="2610.4" r="5.2"/>
<circle cx="2350.1" cy="2612.5" r="5.2"/>
<circle cx="2356.5" cy="2612.9" r="5.2"/>
<circle cx="2369.4" cy="2612.9" r="5.2"/>
<circle cx="2408.2" cy="2612.9" r="5.2"/>
</g>
<path d="M1956,2612.9 1968.9,2612.9 1981.8,2612.9 2020.6,2612.9 2027.1,2525.3 2033.5,2470.6 2040,2435.1 2046.4,2347.5 2052.9,2294.2 2059.4,2281.8 2065.8,2276.4 2072.3,2268.2 2078.7,2257.2 2085.2,2249 2091.7,2243.5 2098.1,2240.8 2104.6,2240.8 2111,2240.8 2117.5,2240.8 2124,2240.8 2130.4,2240.8 2149.8,2240.8 2156.3,2294.2 2162.7,2347.5 2169.2,2365.3 2175.6,2400.9 2182.1,2435.1 2201.5,2489.8 2214.4,2506.2 2233.8,2524 2246.7,2539 2266.1,2555.4 2279,2559.5 2291.9,2577.3 2304.8,2586.9 2330.7,2595.1 2343.6,2604.7 2350.1,2611.5 2356.5,2612.9 2369.4,2612.9 2408.2,2612.9" fill="none" stroke="#111" stroke-width="1.6" />
<path d="M1956,2612.9h0M1968.9,2612.9h0M1981.8,2612.9h0M2020.6,2612.9h0M2027.1,2525.3h0M2033.5,2470.6h0M2040,2435.1h0M2046.4,2347.5h0M2052.9,2294.2h0M2059.4,2281.8h0M2065.8,2276.4h0M2072.3,2268.2h0M2078.7,2257.2h0M2085.2,2249h0M2091.7,2243.5h0M2098.1,2240.8h0M2104.6,2240.8h0M2111,2240.8h0M2117.5,2240.8h0M2124,2240.8h0M2130.4,2240.8h0M2149.8,2240.8h0M2156.3,2294.2h0M2162.7,2347.5h0M2169.2,2365.3h0M2175.6,2400.9h0M2182.1,2435.1h0M2201.5,2489.8h0M2214.4,2506.2h0M2233.8,2524h0M2246.7,2539h0M2266.1,2555.4h0M2279,2559.5h0M2291.9,2577.3h0M2304.8,2586.9h0M2330.7,2595.1h0M2343.6,2604.7h0M2350.1,2611.5h0M2356.5,2612.9h0M2369.4,2612.9h0M2408.2,2612.9h0" fill="none" stroke="#000" stroke-width="12.4" stroke-linecap="round"/>
<line x1="1817.3" y1="2220.7" x2="1878" y2="2220.7" stroke="#111" stroke-width="1.6" />
<path d="M1848,2220.7h0" fill="none" stroke="#000" stroke-width="12.4" stroke-linecap="round"/>
<text stroke="#000" stroke-width="0.3" font-size="22.5" transform="translate(1899 2228.1) scale(1.002 1)">Methanol</text>
<line x1="1817.3" y1="2253.3" x2="1878" y2="2253.3" stroke="#777" stroke-width="1.6" stroke-dasharray="2 4"/>
<g fill="#fff" stroke="#000" stroke-width="1.9">
<circle cx="1848" cy="2253.3" r="5.2"/>
</g>
<text stroke="#000" stroke-width="0.3" font-size="22.5" transform="translate(1899 2260.7) scale(1.002 1)">Ethanol</text>
<line x1="1817.3" y1="2286" x2="1878" y2="2286" stroke="#bbb" stroke-width="1.6" stroke-dasharray="11 6"/>
<path d="M1841.3,2280l13.4,0l-6.7,12.1z" fill="#000" stroke="none" stroke-width="1" />
<text stroke="#000" stroke-width="0.3" font-size="22.5" transform="translate(1899 2293.4) scale(1.002 1)">Acetone</text>
<text stroke="#000" stroke-width="0.3" font-size="30" font-weight="bold" text-anchor="middle" transform="translate(1730.7 2420) rotate(-90) scale(0.996 1)">ΔR/R (%)</text>
<text stroke="#000" stroke-width="0.3" font-size="30.5" font-weight="bold" text-anchor="middle" transform="translate(2133.3 2748.5) scale(1.004 1)">Time (sec)</text>
</g>
<!-- panel_labels -->
<text font-size="91.5" transform="translate(47.5 82) scale(0.926 1)" stroke="#000" stroke-width="0.9">(a)</text>
<text font-size="91.5" transform="translate(785.8 81.7) scale(0.915 1)" stroke="#000" stroke-width="0.9">(b)</text>
<text font-size="91.5" transform="translate(1530.5 81.7) scale(0.891 1)" stroke="#000" stroke-width="0.9">(c)</text>
<text font-size="91.5" transform="translate(48 774) scale(0.962 1)" stroke="#000" stroke-width="0.9">(d)</text>
<text font-size="91.5" transform="translate(765 774) scale(0.911 1)" stroke="#000" stroke-width="0.9">(e)</text>
<text font-size="91.5" transform="translate(1534 774) scale(0.870 1)" stroke="#000" stroke-width="0.9">(f)</text>
<text font-size="91.5" transform="translate(33 1522.5) scale(0.923 1)" stroke="#000" stroke-width="0.9">(g)</text>
<text font-size="91.5" transform="translate(756 1523.4) scale(0.935 1)" stroke="#000" stroke-width="0.9">(h)</text>
<text font-size="91.5" transform="translate(1596.8 1540.4) scale(0.851 1)" stroke="#000" stroke-width="0.9">(i)</text>
<text font-size="91.5" transform="translate(10.4 2219.4) scale(0.813 1)" stroke="#000" stroke-width="0.9">(j)</text>
<text font-size="91.5" transform="translate(829 2219.4) scale(0.923 1)" stroke="#000" stroke-width="0.9">(k)</text>
<text font-size="91.5" transform="translate(1674.5 2219.4) scale(0.892 1)" stroke="#000" stroke-width="0.9">(l)</text>
</svg>
</body></html>
